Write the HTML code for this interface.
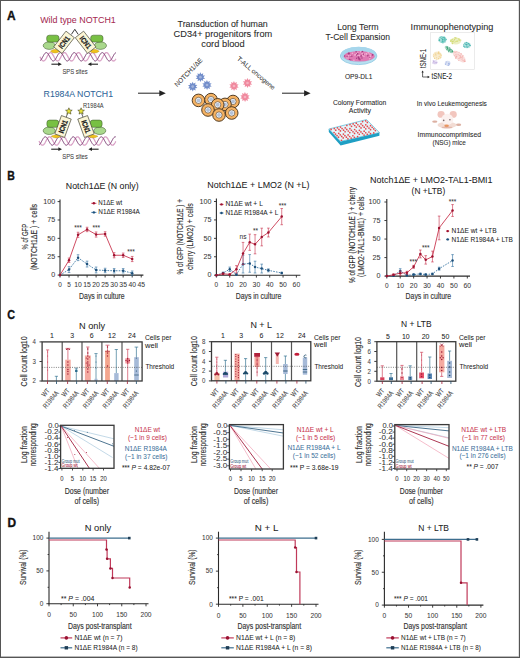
<!DOCTYPE html>
<html><head><meta charset="utf-8"><style>
html,body{margin:0;padding:0;background:#fff;}
svg{display:block;font-family:"Liberation Sans",sans-serif;}
</style></head><body>
<svg width="520" height="658" viewBox="0 0 520 658">
<rect x="0" y="0" width="520" height="658" fill="#fff"/>
<text x="7.00" y="19.70" font-size="12.4" fill="#111" textLength="8.60" lengthAdjust="spacingAndGlyphs" font-weight="bold" stroke="#111" stroke-width="0.35">A</text>
<text x="7.30" y="179.60" font-size="12.4" fill="#111" textLength="7.60" lengthAdjust="spacingAndGlyphs" font-weight="bold" stroke="#111" stroke-width="0.35">B</text>
<text x="7.20" y="319.40" font-size="12.4" fill="#111" textLength="7.80" lengthAdjust="spacingAndGlyphs" font-weight="bold" stroke="#111" stroke-width="0.35">C</text>
<text x="7.40" y="526.60" font-size="12.4" fill="#111" textLength="8.60" lengthAdjust="spacingAndGlyphs" font-weight="bold" stroke="#111" stroke-width="0.35">D</text>
<text x="40.20" y="23.40" font-size="9" fill="#a52a52" stroke="#a52a52" stroke-width="0.04" textLength="75.60" lengthAdjust="spacingAndGlyphs" >Wild type NOTCH1</text>
<text x="43.60" y="96.60" font-size="9" fill="#2c6398" stroke="#2c6398" stroke-width="0.04" textLength="69.40" lengthAdjust="spacingAndGlyphs" >R1984A NOTCH1</text>
<text x="83.00" y="107.60" font-size="6.8" fill="#3a3a3a" stroke="#3a3a3a" stroke-width="0.04" textLength="20.60" lengthAdjust="spacingAndGlyphs" >R1984A</text>
<text x="62.40" y="74.30" font-size="7" fill="#3a3a3a" stroke="#3a3a3a" stroke-width="0.04" textLength="25.20" lengthAdjust="spacingAndGlyphs" >SPS sites</text>
<text x="62.20" y="158.80" font-size="7" fill="#3a3a3a" stroke="#3a3a3a" stroke-width="0.04" textLength="25.60" lengthAdjust="spacingAndGlyphs" >SPS sites</text>
<polyline points="40.00,56.80 40.30,57.36 40.60,57.92 40.90,58.45 41.20,58.95 41.50,59.42 41.80,59.84 42.10,60.20 42.40,60.50 42.70,60.73 43.00,60.89 43.30,60.98 43.60,61.00 43.90,60.93 44.20,60.79 44.50,60.58 44.80,60.31 45.10,59.96 45.40,59.56 45.70,59.11 46.00,58.62 46.30,58.10 46.60,57.55 46.90,56.99 47.20,56.42 47.50,55.87 47.80,55.32 48.10,54.81 48.40,54.33 48.70,53.90 49.00,53.52 49.30,53.19 49.60,52.94 49.90,52.75 50.20,52.64 50.50,52.60 50.80,52.64 51.10,52.75 51.40,52.94 51.70,53.19 52.00,53.52 52.30,53.90 52.60,54.33 52.90,54.81 53.20,55.32 53.50,55.87 53.80,56.42 54.10,56.99 54.40,57.55 54.70,58.10 55.00,58.62 55.30,59.11 55.60,59.56 55.90,59.96 56.20,60.31 56.50,60.58 56.80,60.79 57.10,60.93 57.40,61.00 57.70,60.98 58.00,60.89 58.30,60.73 58.60,60.50 58.90,60.20 59.20,59.84 59.50,59.42 59.80,58.95 60.10,58.45 60.40,57.92 60.70,57.36 61.00,56.80 61.30,56.24 61.60,55.68 61.90,55.15 62.20,54.65 62.50,54.18 62.80,53.76 63.10,53.40 63.40,53.10 63.70,52.87 64.00,52.71 64.30,52.62 64.60,52.60 64.90,52.67 65.20,52.81 65.50,53.02 65.80,53.29 66.10,53.64 66.40,54.04 66.70,54.49 67.00,54.98 67.30,55.50 67.60,56.05 67.90,56.61 68.20,57.18 68.50,57.73 68.80,58.28 69.10,58.79 69.40,59.27 69.70,59.70 70.00,60.08 70.30,60.41 70.60,60.66 70.90,60.85 71.20,60.96 71.50,61.00 71.80,60.96 72.10,60.85 72.40,60.66 72.70,60.41 73.00,60.08 73.30,59.70 73.60,59.27 73.90,58.79 74.20,58.28 74.50,57.73 74.80,57.18 75.10,56.61 75.40,56.05 75.70,55.50 76.00,54.98 76.30,54.49 76.60,54.04 76.90,53.64 77.20,53.29 77.50,53.02 77.80,52.81 78.10,52.67 78.40,52.60 78.70,52.62 79.00,52.71 79.30,52.87 79.60,53.10 79.90,53.40 80.20,53.76 80.50,54.18 80.80,54.65 81.10,55.15 81.40,55.68 81.70,56.24 82.00,56.80 82.30,57.36 82.60,57.92 82.90,58.45 83.20,58.95 83.50,59.42 83.80,59.84 84.10,60.20 84.40,60.50 84.70,60.73 85.00,60.89 85.30,60.98 85.60,61.00 85.90,60.93 86.20,60.79 86.50,60.58 86.80,60.31 87.10,59.96 87.40,59.56 87.70,59.11 88.00,58.62 88.30,58.10 88.60,57.55 88.90,56.99 89.20,56.42 89.50,55.87 89.80,55.32 90.10,54.81 90.40,54.33 90.70,53.90 91.00,53.52 91.30,53.19 91.60,52.94 91.90,52.75 92.20,52.64 92.50,52.60 92.80,52.64 93.10,52.75 93.40,52.94 93.70,53.19 94.00,53.52 94.30,53.90 94.60,54.33 94.90,54.81 95.20,55.32 95.50,55.87 95.80,56.42 96.10,56.99 96.40,57.55 96.70,58.10 97.00,58.62 97.30,59.11 97.60,59.56 97.90,59.96 98.20,60.31 98.50,60.58 98.80,60.79 99.10,60.93 99.40,61.00 99.70,60.98 100.00,60.89 100.30,60.73 100.60,60.50 100.90,60.20 101.20,59.84 101.50,59.42 101.80,58.95 102.10,58.45 102.40,57.92 102.70,57.36 103.00,56.80 103.30,56.24 103.60,55.68 103.90,55.15 104.20,54.65 104.50,54.18 104.80,53.76 105.10,53.40 105.40,53.10 105.70,52.87 106.00,52.71 106.30,52.62 106.60,52.60 106.90,52.67 107.20,52.81 107.50,53.02 107.80,53.29 108.10,53.64 108.40,54.04 108.70,54.49 109.00,54.98 109.30,55.50 109.60,56.05 109.90,56.61 110.20,57.18 110.50,57.73 110.80,58.28 111.10,58.79 111.40,59.27 111.70,59.70 112.00,60.08 112.30,60.41 112.60,60.66 112.90,60.85 113.20,60.96 113.50,61.00 113.80,60.96 114.10,60.85 114.40,60.66 114.70,60.41 115.00,60.08 115.30,59.70 115.60,59.27 115.90,58.79" fill="none" stroke="#d9a2c6" stroke-width="1.3"/>
<polyline points="40.00,60.79 40.30,60.58 40.60,60.31 40.90,59.96 41.20,59.56 41.50,59.11 41.80,58.62 42.10,58.10 42.40,57.55 42.70,56.99 43.00,56.42 43.30,55.87 43.60,55.32 43.90,54.81 44.20,54.33 44.50,53.90 44.80,53.52 45.10,53.19 45.40,52.94 45.70,52.75 46.00,52.64 46.30,52.60 46.60,52.64 46.90,52.75 47.20,52.94 47.50,53.19 47.80,53.52 48.10,53.90 48.40,54.33 48.70,54.81 49.00,55.32 49.30,55.87 49.60,56.42 49.90,56.99 50.20,57.55 50.50,58.10 50.80,58.62 51.10,59.11 51.40,59.56 51.70,59.96 52.00,60.31 52.30,60.58 52.60,60.79 52.90,60.93 53.20,61.00 53.50,60.98 53.80,60.89 54.10,60.73 54.40,60.50 54.70,60.20 55.00,59.84 55.30,59.42 55.60,58.95 55.90,58.45 56.20,57.92 56.50,57.36 56.80,56.80 57.10,56.24 57.40,55.68 57.70,55.15 58.00,54.65 58.30,54.18 58.60,53.76 58.90,53.40 59.20,53.10 59.50,52.87 59.80,52.71 60.10,52.62 60.40,52.60 60.70,52.67 61.00,52.81 61.30,53.02 61.60,53.29 61.90,53.64 62.20,54.04 62.50,54.49 62.80,54.98 63.10,55.50 63.40,56.05 63.70,56.61 64.00,57.18 64.30,57.73 64.60,58.28 64.90,58.79 65.20,59.27 65.50,59.70 65.80,60.08 66.10,60.41 66.40,60.66 66.70,60.85 67.00,60.96 67.30,61.00 67.60,60.96 67.90,60.85 68.20,60.66 68.50,60.41 68.80,60.08 69.10,59.70 69.40,59.27 69.70,58.79 70.00,58.28 70.30,57.73 70.60,57.18 70.90,56.61 71.20,56.05 71.50,55.50 71.80,54.98 72.10,54.49 72.40,54.04 72.70,53.64 73.00,53.29 73.30,53.02 73.60,52.81 73.90,52.67 74.20,52.60 74.50,52.62 74.80,52.71 75.10,52.87 75.40,53.10 75.70,53.40 76.00,53.76 76.30,54.18 76.60,54.65 76.90,55.15 77.20,55.68 77.50,56.24 77.80,56.80 78.10,57.36 78.40,57.92 78.70,58.45 79.00,58.95 79.30,59.42 79.60,59.84 79.90,60.20 80.20,60.50 80.50,60.73 80.80,60.89 81.10,60.98 81.40,61.00 81.70,60.93 82.00,60.79 82.30,60.58 82.60,60.31 82.90,59.96 83.20,59.56 83.50,59.11 83.80,58.62 84.10,58.10 84.40,57.55 84.70,56.99 85.00,56.42 85.30,55.87 85.60,55.32 85.90,54.81 86.20,54.33 86.50,53.90 86.80,53.52 87.10,53.19 87.40,52.94 87.70,52.75 88.00,52.64 88.30,52.60 88.60,52.64 88.90,52.75 89.20,52.94 89.50,53.19 89.80,53.52 90.10,53.90 90.40,54.33 90.70,54.81 91.00,55.32 91.30,55.87 91.60,56.42 91.90,56.99 92.20,57.55 92.50,58.10 92.80,58.62 93.10,59.11 93.40,59.56 93.70,59.96 94.00,60.31 94.30,60.58 94.60,60.79 94.90,60.93 95.20,61.00 95.50,60.98 95.80,60.89 96.10,60.73 96.40,60.50 96.70,60.20 97.00,59.84 97.30,59.42 97.60,58.95 97.90,58.45 98.20,57.92 98.50,57.36 98.80,56.80 99.10,56.24 99.40,55.68 99.70,55.15 100.00,54.65 100.30,54.18 100.60,53.76 100.90,53.40 101.20,53.10 101.50,52.87 101.80,52.71 102.10,52.62 102.40,52.60 102.70,52.67 103.00,52.81 103.30,53.02 103.60,53.29 103.90,53.64 104.20,54.04 104.50,54.49 104.80,54.98 105.10,55.50 105.40,56.05 105.70,56.61 106.00,57.18 106.30,57.73 106.60,58.28 106.90,58.79 107.20,59.27 107.50,59.70 107.80,60.08 108.10,60.41 108.40,60.66 108.70,60.85 109.00,60.96 109.30,61.00 109.60,60.96 109.90,60.85 110.20,60.66 110.50,60.41 110.80,60.08 111.10,59.70 111.40,59.27 111.70,58.79 112.00,58.28 112.30,57.73 112.60,57.18 112.90,56.61 113.20,56.05 113.50,55.50 113.80,54.98 114.10,54.49 114.40,54.04 114.70,53.64 115.00,53.29 115.30,53.02 115.60,52.81 115.90,52.67" fill="none" stroke="#7a3a72" stroke-width="1.0"/>
<ellipse cx="49.25" cy="45.60" rx="6.05" ry="3.80" fill="#a9d88c" stroke="#3f5a2c" stroke-width="0.55"/>
<rect x="46.70" y="35.20" width="12.30" height="6.90" rx="2.6" fill="#78c043" stroke="#3f5a2c" stroke-width="0.55"/>
<path d="M50.40,51.20 Q55.15,47.40 59.90,51.20 Q55.15,55.00 50.40,51.20 Z" fill="#f0c21c" stroke="#9a7a10" stroke-width="0.3"/>
<ellipse cx="100.45" cy="45.60" rx="6.05" ry="3.80" fill="#a9d88c" stroke="#3f5a2c" stroke-width="0.55"/>
<rect x="90.70" y="35.20" width="12.30" height="6.90" rx="2.6" fill="#78c043" stroke="#3f5a2c" stroke-width="0.55"/>
<path d="M89.70,51.20 Q94.50,47.40 99.30,51.20 Q94.50,55.00 89.70,51.20 Z" fill="#f0c21c" stroke="#9a7a10" stroke-width="0.3"/>
<path d="M71.4,34.4 L74.8,29.3 L78.2,34.4" fill="none" stroke="#222" stroke-width="0.9" />
<g transform="translate(64.00 42.30) rotate(38)"><rect x="-5.30" y="-10.00" width="10.60" height="20.00" fill="#fbf6d6" stroke="#3a3a2a" stroke-width="0.6"/><text x="0" y="2.66" font-size="7.4" font-weight="bold" fill="#1a1a1a" stroke="#1a1a1a" stroke-width="0.25" text-anchor="middle" textLength="13.60" lengthAdjust="spacingAndGlyphs" transform="rotate(-90)">ICN1</text></g>
<g transform="translate(85.60 42.30) rotate(-38)"><rect x="-5.30" y="-10.00" width="10.60" height="20.00" fill="#fbf6d6" stroke="#3a3a2a" stroke-width="0.6"/><text x="0" y="2.66" font-size="7.4" font-weight="bold" fill="#1a1a1a" stroke="#1a1a1a" stroke-width="0.25" text-anchor="middle" textLength="13.60" lengthAdjust="spacingAndGlyphs" transform="rotate(90)">ICN1</text></g>
<line x1="51.40" y1="64.20" x2="58.92" y2="64.20" stroke="#222" stroke-width="1.1" />
<path d="M61.80,64.20 L58.20,62.30 L58.20,66.10 Z" fill="#222" stroke="none" stroke-width="1" />
<line x1="98.00" y1="64.20" x2="90.68" y2="64.20" stroke="#222" stroke-width="1.1" />
<path d="M87.80,64.20 L91.40,62.30 L91.40,66.10 Z" fill="#222" stroke="none" stroke-width="1" />
<polyline points="39.00,141.00 39.30,141.56 39.60,142.12 39.90,142.65 40.20,143.15 40.50,143.62 40.80,144.04 41.10,144.40 41.40,144.70 41.70,144.93 42.00,145.09 42.30,145.18 42.60,145.20 42.90,145.13 43.20,144.99 43.50,144.78 43.80,144.51 44.10,144.16 44.40,143.76 44.70,143.31 45.00,142.82 45.30,142.30 45.60,141.75 45.90,141.19 46.20,140.62 46.50,140.07 46.80,139.52 47.10,139.01 47.40,138.53 47.70,138.10 48.00,137.72 48.30,137.39 48.60,137.14 48.90,136.95 49.20,136.84 49.50,136.80 49.80,136.84 50.10,136.95 50.40,137.14 50.70,137.39 51.00,137.72 51.30,138.10 51.60,138.53 51.90,139.01 52.20,139.52 52.50,140.07 52.80,140.62 53.10,141.19 53.40,141.75 53.70,142.30 54.00,142.82 54.30,143.31 54.60,143.76 54.90,144.16 55.20,144.51 55.50,144.78 55.80,144.99 56.10,145.13 56.40,145.20 56.70,145.18 57.00,145.09 57.30,144.93 57.60,144.70 57.90,144.40 58.20,144.04 58.50,143.62 58.80,143.15 59.10,142.65 59.40,142.12 59.70,141.56 60.00,141.00 60.30,140.44 60.60,139.88 60.90,139.35 61.20,138.85 61.50,138.38 61.80,137.96 62.10,137.60 62.40,137.30 62.70,137.07 63.00,136.91 63.30,136.82 63.60,136.80 63.90,136.87 64.20,137.01 64.50,137.22 64.80,137.49 65.10,137.84 65.40,138.24 65.70,138.69 66.00,139.18 66.30,139.70 66.60,140.25 66.90,140.81 67.20,141.38 67.50,141.93 67.80,142.48 68.10,142.99 68.40,143.47 68.70,143.90 69.00,144.28 69.30,144.61 69.60,144.86 69.90,145.05 70.20,145.16 70.50,145.20 70.80,145.16 71.10,145.05 71.40,144.86 71.70,144.61 72.00,144.28 72.30,143.90 72.60,143.47 72.90,142.99 73.20,142.48 73.50,141.93 73.80,141.38 74.10,140.81 74.40,140.25 74.70,139.70 75.00,139.18 75.30,138.69 75.60,138.24 75.90,137.84 76.20,137.49 76.50,137.22 76.80,137.01 77.10,136.87 77.40,136.80 77.70,136.82 78.00,136.91 78.30,137.07 78.60,137.30 78.90,137.60 79.20,137.96 79.50,138.38 79.80,138.85 80.10,139.35 80.40,139.88 80.70,140.44 81.00,141.00 81.30,141.56 81.60,142.12 81.90,142.65 82.20,143.15 82.50,143.62 82.80,144.04 83.10,144.40 83.40,144.70 83.70,144.93 84.00,145.09 84.30,145.18 84.60,145.20 84.90,145.13 85.20,144.99 85.50,144.78 85.80,144.51 86.10,144.16 86.40,143.76 86.70,143.31 87.00,142.82 87.30,142.30 87.60,141.75 87.90,141.19 88.20,140.62 88.50,140.07 88.80,139.52 89.10,139.01 89.40,138.53 89.70,138.10 90.00,137.72 90.30,137.39 90.60,137.14 90.90,136.95 91.20,136.84 91.50,136.80 91.80,136.84 92.10,136.95 92.40,137.14 92.70,137.39 93.00,137.72 93.30,138.10 93.60,138.53 93.90,139.01 94.20,139.52 94.50,140.07 94.80,140.62 95.10,141.19 95.40,141.75 95.70,142.30 96.00,142.82 96.30,143.31 96.60,143.76 96.90,144.16 97.20,144.51 97.50,144.78 97.80,144.99 98.10,145.13 98.40,145.20 98.70,145.18 99.00,145.09 99.30,144.93 99.60,144.70 99.90,144.40 100.20,144.04 100.50,143.62 100.80,143.15 101.10,142.65 101.40,142.12 101.70,141.56 102.00,141.00 102.30,140.44 102.60,139.88 102.90,139.35 103.20,138.85 103.50,138.38 103.80,137.96 104.10,137.60 104.40,137.30 104.70,137.07 105.00,136.91 105.30,136.82 105.60,136.80 105.90,136.87 106.20,137.01 106.50,137.22 106.80,137.49 107.10,137.84 107.40,138.24 107.70,138.69 108.00,139.18 108.30,139.70 108.60,140.25 108.90,140.81 109.20,141.38 109.50,141.93 109.80,142.48 110.10,142.99 110.40,143.47 110.70,143.90 111.00,144.28 111.30,144.61 111.60,144.86 111.90,145.05 112.20,145.16 112.50,145.20 112.80,145.16 113.10,145.05 113.40,144.86 113.70,144.61 114.00,144.28 114.30,143.90 114.60,143.47 114.90,142.99 115.20,142.48 115.50,141.93 115.80,141.38" fill="none" stroke="#d9a2c6" stroke-width="1.3"/>
<polyline points="39.00,144.99 39.30,144.78 39.60,144.51 39.90,144.16 40.20,143.76 40.50,143.31 40.80,142.82 41.10,142.30 41.40,141.75 41.70,141.19 42.00,140.62 42.30,140.07 42.60,139.52 42.90,139.01 43.20,138.53 43.50,138.10 43.80,137.72 44.10,137.39 44.40,137.14 44.70,136.95 45.00,136.84 45.30,136.80 45.60,136.84 45.90,136.95 46.20,137.14 46.50,137.39 46.80,137.72 47.10,138.10 47.40,138.53 47.70,139.01 48.00,139.52 48.30,140.07 48.60,140.62 48.90,141.19 49.20,141.75 49.50,142.30 49.80,142.82 50.10,143.31 50.40,143.76 50.70,144.16 51.00,144.51 51.30,144.78 51.60,144.99 51.90,145.13 52.20,145.20 52.50,145.18 52.80,145.09 53.10,144.93 53.40,144.70 53.70,144.40 54.00,144.04 54.30,143.62 54.60,143.15 54.90,142.65 55.20,142.12 55.50,141.56 55.80,141.00 56.10,140.44 56.40,139.88 56.70,139.35 57.00,138.85 57.30,138.38 57.60,137.96 57.90,137.60 58.20,137.30 58.50,137.07 58.80,136.91 59.10,136.82 59.40,136.80 59.70,136.87 60.00,137.01 60.30,137.22 60.60,137.49 60.90,137.84 61.20,138.24 61.50,138.69 61.80,139.18 62.10,139.70 62.40,140.25 62.70,140.81 63.00,141.38 63.30,141.93 63.60,142.48 63.90,142.99 64.20,143.47 64.50,143.90 64.80,144.28 65.10,144.61 65.40,144.86 65.70,145.05 66.00,145.16 66.30,145.20 66.60,145.16 66.90,145.05 67.20,144.86 67.50,144.61 67.80,144.28 68.10,143.90 68.40,143.47 68.70,142.99 69.00,142.48 69.30,141.93 69.60,141.38 69.90,140.81 70.20,140.25 70.50,139.70 70.80,139.18 71.10,138.69 71.40,138.24 71.70,137.84 72.00,137.49 72.30,137.22 72.60,137.01 72.90,136.87 73.20,136.80 73.50,136.82 73.80,136.91 74.10,137.07 74.40,137.30 74.70,137.60 75.00,137.96 75.30,138.38 75.60,138.85 75.90,139.35 76.20,139.88 76.50,140.44 76.80,141.00 77.10,141.56 77.40,142.12 77.70,142.65 78.00,143.15 78.30,143.62 78.60,144.04 78.90,144.40 79.20,144.70 79.50,144.93 79.80,145.09 80.10,145.18 80.40,145.20 80.70,145.13 81.00,144.99 81.30,144.78 81.60,144.51 81.90,144.16 82.20,143.76 82.50,143.31 82.80,142.82 83.10,142.30 83.40,141.75 83.70,141.19 84.00,140.62 84.30,140.07 84.60,139.52 84.90,139.01 85.20,138.53 85.50,138.10 85.80,137.72 86.10,137.39 86.40,137.14 86.70,136.95 87.00,136.84 87.30,136.80 87.60,136.84 87.90,136.95 88.20,137.14 88.50,137.39 88.80,137.72 89.10,138.10 89.40,138.53 89.70,139.01 90.00,139.52 90.30,140.07 90.60,140.62 90.90,141.19 91.20,141.75 91.50,142.30 91.80,142.82 92.10,143.31 92.40,143.76 92.70,144.16 93.00,144.51 93.30,144.78 93.60,144.99 93.90,145.13 94.20,145.20 94.50,145.18 94.80,145.09 95.10,144.93 95.40,144.70 95.70,144.40 96.00,144.04 96.30,143.62 96.60,143.15 96.90,142.65 97.20,142.12 97.50,141.56 97.80,141.00 98.10,140.44 98.40,139.88 98.70,139.35 99.00,138.85 99.30,138.38 99.60,137.96 99.90,137.60 100.20,137.30 100.50,137.07 100.80,136.91 101.10,136.82 101.40,136.80 101.70,136.87 102.00,137.01 102.30,137.22 102.60,137.49 102.90,137.84 103.20,138.24 103.50,138.69 103.80,139.18 104.10,139.70 104.40,140.25 104.70,140.81 105.00,141.38 105.30,141.93 105.60,142.48 105.90,142.99 106.20,143.47 106.50,143.90 106.80,144.28 107.10,144.61 107.40,144.86 107.70,145.05 108.00,145.16 108.30,145.20 108.60,145.16 108.90,145.05 109.20,144.86 109.50,144.61 109.80,144.28 110.10,143.90 110.40,143.47 110.70,142.99 111.00,142.48 111.30,141.93 111.60,141.38 111.90,140.81 112.20,140.25 112.50,139.70 112.80,139.18 113.10,138.69 113.40,138.24 113.70,137.84 114.00,137.49 114.30,137.22 114.60,137.01 114.90,136.87 115.20,136.80 115.50,136.82 115.80,136.91" fill="none" stroke="#7a3a72" stroke-width="1.0"/>
<ellipse cx="49.25" cy="130.75" rx="6.05" ry="3.75" fill="#a9d88c" stroke="#3f5a2c" stroke-width="0.55"/>
<rect x="46.90" y="120.10" width="11.90" height="7.20" rx="2.6" fill="#78c043" stroke="#3f5a2c" stroke-width="0.55"/>
<path d="M51.00,136.30 Q56.00,133.00 61.00,136.30 Q56.00,139.60 51.00,136.30 Z" fill="#f0c21c" stroke="#9a7a10" stroke-width="0.3"/>
<ellipse cx="99.75" cy="130.75" rx="6.05" ry="3.75" fill="#a9d88c" stroke="#3f5a2c" stroke-width="0.55"/>
<rect x="90.20" y="120.10" width="11.90" height="7.20" rx="2.6" fill="#78c043" stroke="#3f5a2c" stroke-width="0.55"/>
<path d="M88.00,136.30 Q93.00,133.00 98.00,136.30 Q93.00,139.60 88.00,136.30 Z" fill="#f0c21c" stroke="#9a7a10" stroke-width="0.3"/>
<line x1="67.60" y1="113.50" x2="66.00" y2="117.50" stroke="#222" stroke-width="0.7" />
<line x1="81.60" y1="113.50" x2="83.20" y2="117.50" stroke="#222" stroke-width="0.7" />
<g transform="translate(63.00 126.50) rotate(20)"><rect x="-5.20" y="-9.75" width="10.40" height="19.50" fill="#fbf6d6" stroke="#3a3a2a" stroke-width="0.6"/><text x="0" y="2.66" font-size="7.4" font-weight="bold" fill="#1a1a1a" stroke="#1a1a1a" stroke-width="0.25" text-anchor="middle" textLength="13.26" lengthAdjust="spacingAndGlyphs" transform="rotate(-90)">ICN1</text></g>
<g transform="translate(86.00 126.50) rotate(-20)"><rect x="-5.20" y="-9.75" width="10.40" height="19.50" fill="#fbf6d6" stroke="#3a3a2a" stroke-width="0.6"/><text x="0" y="2.66" font-size="7.4" font-weight="bold" fill="#1a1a1a" stroke="#1a1a1a" stroke-width="0.25" text-anchor="middle" textLength="13.26" lengthAdjust="spacingAndGlyphs" transform="rotate(90)">ICN1</text></g>
<polygon points="68.90,107.80 69.83,110.03 72.23,110.22 70.40,111.79 70.96,114.13 68.90,112.88 66.84,114.13 67.40,111.79 65.57,110.22 67.97,110.03" fill="#e6e23a" stroke="#2a2a10" stroke-width="0.5"/>
<polygon points="81.10,107.80 82.03,110.03 84.43,110.22 82.60,111.79 83.16,114.13 81.10,112.88 79.04,114.13 79.60,111.79 77.77,110.22 80.17,110.03" fill="#e6e23a" stroke="#2a2a10" stroke-width="0.5"/>
<line x1="51.20" y1="149.20" x2="59.12" y2="149.20" stroke="#222" stroke-width="1.1" />
<path d="M62.00,149.20 L58.40,147.30 L58.40,151.10 Z" fill="#222" stroke="none" stroke-width="1" />
<line x1="98.60" y1="149.20" x2="91.28" y2="149.20" stroke="#222" stroke-width="1.1" />
<path d="M88.40,149.20 L92.00,147.30 L92.00,151.10 Z" fill="#222" stroke="none" stroke-width="1" />
<line x1="138.00" y1="93.20" x2="160.60" y2="93.20" stroke="#222" stroke-width="1.0" />
<path d="M165.80,93.20 L159.30,90.20 L159.30,96.20 Z" fill="#222" stroke="none" stroke-width="1" />
<line x1="282.00" y1="93.20" x2="305.40" y2="93.20" stroke="#222" stroke-width="1.0" />
<path d="M310.60,93.20 L304.10,90.20 L304.10,96.20 Z" fill="#222" stroke="none" stroke-width="1" />
<text x="177.60" y="27.30" font-size="9.2" fill="#2b2b2b" stroke="#2b2b2b" stroke-width="0.08" textLength="90.20" lengthAdjust="spacingAndGlyphs" >Transduction of human</text>
<text x="173.60" y="37.20" font-size="9.2" fill="#2b2b2b" stroke="#2b2b2b" stroke-width="0.08" textLength="98.60" lengthAdjust="spacingAndGlyphs" >CD34+ progenitors from</text>
<text x="201.30" y="47.20" font-size="9.2" fill="#2b2b2b" stroke="#2b2b2b" stroke-width="0.08" textLength="43.40" lengthAdjust="spacingAndGlyphs" >cord blood</text>
<polygon points="205.08,78.65 202.88,78.95 203.34,81.12 201.38,80.08 200.47,82.10 199.50,80.10 197.58,81.20 197.97,79.02 195.76,78.78 197.36,77.24 195.72,75.75 197.92,75.45 197.46,73.28 199.42,74.32 200.33,72.30 201.30,74.30 203.22,73.20 202.83,75.38 205.04,75.62 203.44,77.16" fill="#6281c4" opacity="0.9"/>
<circle cx="200.40" cy="77.20" r="1.3720000000000003" fill="#fff" stroke="none" stroke-width="1" opacity="0.35"/>
<polygon points="197.38,88.05 195.18,88.35 195.64,90.52 193.68,89.48 192.77,91.50 191.80,89.50 189.88,90.60 190.27,88.42 188.06,88.18 189.66,86.64 188.02,85.15 190.22,84.85 189.76,82.68 191.72,83.72 192.63,81.70 193.60,83.70 195.52,82.60 195.13,84.78 197.34,85.02 195.74,86.56" fill="#6281c4" opacity="0.9"/>
<circle cx="192.70" cy="86.60" r="1.3720000000000003" fill="#fff" stroke="none" stroke-width="1" opacity="0.35"/>
<polygon points="211.68,86.45 209.48,86.75 209.94,88.92 207.98,87.88 207.07,89.90 206.10,87.90 204.18,89.00 204.57,86.82 202.36,86.58 203.96,85.04 202.32,83.55 204.52,83.25 204.06,81.08 206.02,82.12 206.93,80.10 207.90,82.10 209.82,81.00 209.43,83.18 211.64,83.42 210.04,84.96" fill="#6281c4" opacity="0.9"/>
<circle cx="207.00" cy="85.00" r="1.3720000000000003" fill="#fff" stroke="none" stroke-width="1" opacity="0.35"/>
<polygon points="238.68,87.45 236.48,87.75 236.94,89.92 234.98,88.88 234.07,90.90 233.10,88.90 231.18,90.00 231.57,87.82 229.36,87.58 230.96,86.04 229.32,84.55 231.52,84.25 231.06,82.08 233.02,83.12 233.93,81.10 234.90,83.10 236.82,82.00 236.43,84.18 238.64,84.42 237.04,85.96" fill="#ee7c94" opacity="0.9"/>
<circle cx="234.00" cy="86.00" r="1.3720000000000003" fill="#fff" stroke="none" stroke-width="1" opacity="0.35"/>
<polygon points="252.18,84.45 249.98,84.75 250.44,86.92 248.48,85.88 247.57,87.90 246.60,85.90 244.68,87.00 245.07,84.82 242.86,84.58 244.46,83.04 242.82,81.55 245.02,81.25 244.56,79.08 246.52,80.12 247.43,78.10 248.40,80.10 250.32,79.00 249.93,81.18 252.14,81.42 250.54,82.96" fill="#ee7c94" opacity="0.9"/>
<circle cx="247.50" cy="83.00" r="1.3720000000000003" fill="#fff" stroke="none" stroke-width="1" opacity="0.35"/>
<polygon points="249.68,98.45 247.48,98.75 247.94,100.92 245.98,99.88 245.07,101.90 244.10,99.90 242.18,101.00 242.57,98.82 240.36,98.58 241.96,97.04 240.32,95.55 242.52,95.25 242.06,93.08 244.02,94.12 244.93,92.10 245.90,94.10 247.82,93.00 247.43,95.18 249.64,95.42 248.04,96.96" fill="#ee7c94" opacity="0.9"/>
<circle cx="245.00" cy="97.00" r="1.3720000000000003" fill="#fff" stroke="none" stroke-width="1" opacity="0.35"/>
<text x="177.20" y="87.20" font-size="6.6" fill="#333" stroke="#333" stroke-width="0.04" textLength="37.00" lengthAdjust="spacingAndGlyphs" transform="rotate(-46 177.20 87.20)" >NOTCH1/ΔE</text>
<text x="236.40" y="59.60" font-size="6.6" fill="#333" stroke="#333" stroke-width="0.04" textLength="47.50" lengthAdjust="spacingAndGlyphs" transform="rotate(40 236.40 59.60)" >T-ALL oncogene</text>
<circle cx="198.50" cy="100.40" r="6.3" fill="#f5b262" stroke="#4a3620" stroke-width="0.95" />
<circle cx="198.50" cy="100.40" r="3.1" fill="#fff" stroke="#4a3a2a" stroke-width="0.6" />
<circle cx="198.50" cy="100.40" r="2.0" fill="#b4c2d8" stroke="none" stroke-width="1" />
<circle cx="211.00" cy="99.60" r="6.3" fill="#f5b262" stroke="#4a3620" stroke-width="0.95" />
<circle cx="211.00" cy="99.60" r="3.1" fill="#fff" stroke="#4a3a2a" stroke-width="0.6" />
<circle cx="211.00" cy="99.60" r="2.0" fill="#b4c2d8" stroke="none" stroke-width="1" />
<circle cx="233.00" cy="101.50" r="6.3" fill="#f5b262" stroke="#4a3620" stroke-width="0.95" />
<circle cx="233.00" cy="101.50" r="3.1" fill="#fff" stroke="#4a3a2a" stroke-width="0.6" />
<circle cx="233.00" cy="101.50" r="2.0" fill="#b4c2d8" stroke="none" stroke-width="1" />
<circle cx="225.00" cy="104.40" r="6.3" fill="#f5b262" stroke="#4a3620" stroke-width="0.95" />
<circle cx="225.00" cy="104.40" r="3.1" fill="#fff" stroke="#4a3a2a" stroke-width="0.6" />
<circle cx="225.00" cy="104.40" r="2.0" fill="#b4c2d8" stroke="none" stroke-width="1" />
<circle cx="217.70" cy="104.80" r="6.3" fill="#f5b262" stroke="#4a3620" stroke-width="0.95" />
<circle cx="217.70" cy="104.80" r="3.1" fill="#fff" stroke="#4a3a2a" stroke-width="0.6" />
<circle cx="217.70" cy="104.80" r="2.0" fill="#b4c2d8" stroke="none" stroke-width="1" />
<circle cx="208.00" cy="110.00" r="6.3" fill="#f5b262" stroke="#4a3620" stroke-width="0.95" />
<circle cx="208.00" cy="110.00" r="3.1" fill="#fff" stroke="#4a3a2a" stroke-width="0.6" />
<circle cx="208.00" cy="110.00" r="2.0" fill="#b4c2d8" stroke="none" stroke-width="1" />
<circle cx="231.70" cy="113.00" r="6.3" fill="#f5b262" stroke="#4a3620" stroke-width="0.95" />
<circle cx="231.70" cy="113.00" r="3.1" fill="#fff" stroke="#4a3a2a" stroke-width="0.6" />
<circle cx="231.70" cy="113.00" r="2.0" fill="#b4c2d8" stroke="none" stroke-width="1" />
<circle cx="219.00" cy="115.00" r="6.3" fill="#f5b262" stroke="#4a3620" stroke-width="0.95" />
<circle cx="219.00" cy="115.00" r="3.1" fill="#fff" stroke="#4a3a2a" stroke-width="0.6" />
<circle cx="219.00" cy="115.00" r="2.0" fill="#b4c2d8" stroke="none" stroke-width="1" />
<text x="337.20" y="29.50" font-size="9.2" fill="#2b2b2b" stroke="#2b2b2b" stroke-width="0.08" textLength="41.40" lengthAdjust="spacingAndGlyphs" >Long Term</text>
<text x="325.60" y="39.70" font-size="9.2" fill="#2b2b2b" stroke="#2b2b2b" stroke-width="0.08" textLength="64.40" lengthAdjust="spacingAndGlyphs" >T-Cell Expansion</text>
<ellipse cx="358.6" cy="56.0" rx="18.3" ry="8.6" fill="#b9e0f0" stroke="#8cc8e2" stroke-width="0.8"/>
<ellipse cx="358.6" cy="54.6" rx="17.6" ry="7.8" fill="#a6d6ec"/>
<ellipse cx="359.2" cy="56.2" rx="15.4" ry="5.3" fill="#e07ab4"/>
<circle cx="360.01" cy="59.73" r="0.7" fill="#a63c80" stroke="none" stroke-width="1" />
<circle cx="367.82" cy="54.53" r="0.7" fill="#f4b8d8" stroke="none" stroke-width="1" />
<circle cx="348.31" cy="53.38" r="0.7" fill="#a63c80" stroke="none" stroke-width="1" />
<circle cx="358.79" cy="58.52" r="0.7" fill="#a63c80" stroke="none" stroke-width="1" />
<circle cx="348.80" cy="55.29" r="0.7" fill="#a63c80" stroke="none" stroke-width="1" />
<circle cx="355.59" cy="54.77" r="0.7" fill="#f4b8d8" stroke="none" stroke-width="1" />
<circle cx="366.29" cy="53.64" r="0.7" fill="#f4b8d8" stroke="none" stroke-width="1" />
<circle cx="357.46" cy="55.13" r="0.7" fill="#f4b8d8" stroke="none" stroke-width="1" />
<circle cx="358.39" cy="57.00" r="0.7" fill="#a63c80" stroke="none" stroke-width="1" />
<circle cx="347.09" cy="56.89" r="0.7" fill="#a63c80" stroke="none" stroke-width="1" />
<circle cx="356.09" cy="51.71" r="0.7" fill="#a63c80" stroke="none" stroke-width="1" />
<circle cx="357.69" cy="52.59" r="0.7" fill="#f4b8d8" stroke="none" stroke-width="1" />
<circle cx="362.48" cy="55.17" r="0.7" fill="#f4b8d8" stroke="none" stroke-width="1" />
<circle cx="351.84" cy="56.28" r="0.7" fill="#a63c80" stroke="none" stroke-width="1" />
<circle cx="361.63" cy="51.83" r="0.7" fill="#a63c80" stroke="none" stroke-width="1" />
<circle cx="350.20" cy="56.06" r="0.7" fill="#a63c80" stroke="none" stroke-width="1" />
<circle cx="350.15" cy="55.55" r="0.7" fill="#f4b8d8" stroke="none" stroke-width="1" />
<circle cx="369.07" cy="53.96" r="0.7" fill="#f4b8d8" stroke="none" stroke-width="1" />
<circle cx="368.15" cy="52.45" r="0.7" fill="#f4b8d8" stroke="none" stroke-width="1" />
<circle cx="356.57" cy="53.60" r="0.7" fill="#f4b8d8" stroke="none" stroke-width="1" />
<circle cx="357.70" cy="54.05" r="0.7" fill="#a63c80" stroke="none" stroke-width="1" />
<circle cx="358.40" cy="57.38" r="0.7" fill="#a63c80" stroke="none" stroke-width="1" />
<circle cx="370.22" cy="58.47" r="0.7" fill="#a63c80" stroke="none" stroke-width="1" />
<circle cx="360.84" cy="55.79" r="0.7" fill="#a63c80" stroke="none" stroke-width="1" />
<circle cx="360.80" cy="51.75" r="0.7" fill="#f4b8d8" stroke="none" stroke-width="1" />
<circle cx="349.20" cy="53.63" r="0.7" fill="#a63c80" stroke="none" stroke-width="1" />
<circle cx="357.56" cy="53.49" r="0.7" fill="#a63c80" stroke="none" stroke-width="1" />
<circle cx="344.72" cy="56.04" r="0.7" fill="#a63c80" stroke="none" stroke-width="1" />
<circle cx="363.96" cy="56.27" r="0.7" fill="#f4b8d8" stroke="none" stroke-width="1" />
<circle cx="372.76" cy="54.71" r="0.7" fill="#a63c80" stroke="none" stroke-width="1" />
<circle cx="354.80" cy="54.99" r="0.7" fill="#f4b8d8" stroke="none" stroke-width="1" />
<circle cx="367.59" cy="55.85" r="0.7" fill="#a63c80" stroke="none" stroke-width="1" />
<circle cx="372.47" cy="55.03" r="0.7" fill="#a63c80" stroke="none" stroke-width="1" />
<circle cx="349.53" cy="59.33" r="0.7" fill="#a63c80" stroke="none" stroke-width="1" />
<circle cx="352.28" cy="53.29" r="0.7" fill="#f4b8d8" stroke="none" stroke-width="1" />
<circle cx="348.96" cy="53.01" r="0.7" fill="#a63c80" stroke="none" stroke-width="1" />
<circle cx="348.03" cy="57.91" r="0.7" fill="#f4b8d8" stroke="none" stroke-width="1" />
<circle cx="368.04" cy="54.97" r="0.7" fill="#a63c80" stroke="none" stroke-width="1" />
<circle cx="348.56" cy="55.73" r="0.7" fill="#f4b8d8" stroke="none" stroke-width="1" />
<circle cx="362.64" cy="51.57" r="0.7" fill="#a63c80" stroke="none" stroke-width="1" />
<circle cx="370.49" cy="56.67" r="0.7" fill="#f4b8d8" stroke="none" stroke-width="1" />
<circle cx="369.88" cy="57.60" r="0.7" fill="#a63c80" stroke="none" stroke-width="1" />
<circle cx="350.83" cy="59.87" r="0.7" fill="#a63c80" stroke="none" stroke-width="1" />
<circle cx="359.04" cy="55.49" r="0.7" fill="#f4b8d8" stroke="none" stroke-width="1" />
<circle cx="361.23" cy="56.00" r="0.7" fill="#a63c80" stroke="none" stroke-width="1" />
<circle cx="359.13" cy="59.44" r="0.7" fill="#a63c80" stroke="none" stroke-width="1" />
<circle cx="361.95" cy="58.05" r="0.7" fill="#a63c80" stroke="none" stroke-width="1" />
<circle cx="363.34" cy="54.15" r="0.7" fill="#a63c80" stroke="none" stroke-width="1" />
<circle cx="369.54" cy="58.85" r="0.7" fill="#f4b8d8" stroke="none" stroke-width="1" />
<circle cx="356.68" cy="58.31" r="0.7" fill="#a63c80" stroke="none" stroke-width="1" />
<circle cx="359.65" cy="58.27" r="0.7" fill="#a63c80" stroke="none" stroke-width="1" />
<circle cx="356.53" cy="54.99" r="0.7" fill="#a63c80" stroke="none" stroke-width="1" />
<circle cx="370.51" cy="54.96" r="0.7" fill="#f4b8d8" stroke="none" stroke-width="1" />
<circle cx="346.78" cy="57.88" r="0.7" fill="#f4b8d8" stroke="none" stroke-width="1" />
<circle cx="370.15" cy="58.19" r="0.7" fill="#f4b8d8" stroke="none" stroke-width="1" />
<circle cx="366.50" cy="54.07" r="0.7" fill="#f4b8d8" stroke="none" stroke-width="1" />
<circle cx="359.82" cy="55.34" r="0.7" fill="#f4b8d8" stroke="none" stroke-width="1" />
<circle cx="353.92" cy="60.23" r="0.7" fill="#f4b8d8" stroke="none" stroke-width="1" />
<circle cx="364.74" cy="54.09" r="0.7" fill="#f4b8d8" stroke="none" stroke-width="1" />
<circle cx="362.15" cy="53.55" r="0.7" fill="#f4b8d8" stroke="none" stroke-width="1" />
<text x="345.00" y="78.60" font-size="7" fill="#2b2b2b" stroke="#2b2b2b" stroke-width="0.08" textLength="27.40" lengthAdjust="spacingAndGlyphs" >OP9-DL1</text>
<text x="410.60" y="29.50" font-size="9.2" fill="#2b2b2b" stroke="#2b2b2b" stroke-width="0.08" textLength="82.80" lengthAdjust="spacingAndGlyphs" >Immunophenotyping</text>
<rect x="430.70" y="32.60" width="43.80" height="36.90" fill="#fff" stroke="#dedede" stroke-width="0.6" />
<ellipse cx="442.4" cy="39.6" rx="4.2" ry="3.4" fill="#2fb0a4" opacity="0.4" transform="rotate(0 442.4 39.6)"/>
<circle cx="444.97" cy="41.94" r="0.55" fill="#2fb0a4" stroke="none" stroke-width="1" opacity="0.8"/>
<circle cx="442.58" cy="37.89" r="0.55" fill="#2fb0a4" stroke="none" stroke-width="1" opacity="0.8"/>
<circle cx="439.59" cy="39.67" r="0.55" fill="#2fb0a4" stroke="none" stroke-width="1" opacity="0.8"/>
<circle cx="440.24" cy="37.14" r="0.55" fill="#2fb0a4" stroke="none" stroke-width="1" opacity="0.8"/>
<circle cx="442.99" cy="39.92" r="0.55" fill="#2fb0a4" stroke="none" stroke-width="1" opacity="0.8"/>
<circle cx="443.82" cy="37.68" r="0.55" fill="#2fb0a4" stroke="none" stroke-width="1" opacity="0.8"/>
<circle cx="442.41" cy="39.44" r="0.55" fill="#2fb0a4" stroke="none" stroke-width="1" opacity="0.8"/>
<circle cx="439.04" cy="40.57" r="0.55" fill="#2fb0a4" stroke="none" stroke-width="1" opacity="0.8"/>
<circle cx="442.94" cy="42.88" r="0.55" fill="#2fb0a4" stroke="none" stroke-width="1" opacity="0.8"/>
<circle cx="443.00" cy="39.25" r="0.55" fill="#2fb0a4" stroke="none" stroke-width="1" opacity="0.8"/>
<circle cx="445.45" cy="40.00" r="0.55" fill="#2fb0a4" stroke="none" stroke-width="1" opacity="0.8"/>
<circle cx="444.81" cy="38.82" r="0.55" fill="#2fb0a4" stroke="none" stroke-width="1" opacity="0.8"/>
<circle cx="442.97" cy="41.76" r="0.55" fill="#2fb0a4" stroke="none" stroke-width="1" opacity="0.8"/>
<circle cx="444.34" cy="39.89" r="0.55" fill="#2fb0a4" stroke="none" stroke-width="1" opacity="0.8"/>
<circle cx="439.66" cy="40.51" r="0.55" fill="#2fb0a4" stroke="none" stroke-width="1" opacity="0.8"/>
<circle cx="442.61" cy="41.22" r="0.55" fill="#2fb0a4" stroke="none" stroke-width="1" opacity="0.8"/>
<circle cx="442.95" cy="41.86" r="0.55" fill="#2fb0a4" stroke="none" stroke-width="1" opacity="0.8"/>
<circle cx="442.25" cy="40.08" r="0.55" fill="#2fb0a4" stroke="none" stroke-width="1" opacity="0.8"/>
<circle cx="444.04" cy="37.44" r="0.55" fill="#2fb0a4" stroke="none" stroke-width="1" opacity="0.8"/>
<circle cx="441.27" cy="38.46" r="0.55" fill="#2fb0a4" stroke="none" stroke-width="1" opacity="0.8"/>
<circle cx="446.29" cy="39.45" r="0.55" fill="#2fb0a4" stroke="none" stroke-width="1" opacity="0.8"/>
<circle cx="444.16" cy="40.95" r="0.55" fill="#2fb0a4" stroke="none" stroke-width="1" opacity="0.8"/>
<circle cx="441.77" cy="36.78" r="0.55" fill="#2fb0a4" stroke="none" stroke-width="1" opacity="0.8"/>
<circle cx="444.91" cy="38.74" r="0.55" fill="#2fb0a4" stroke="none" stroke-width="1" opacity="0.8"/>
<circle cx="444.06" cy="37.16" r="0.55" fill="#2fb0a4" stroke="none" stroke-width="1" opacity="0.8"/>
<circle cx="441.34" cy="42.06" r="0.55" fill="#2fb0a4" stroke="none" stroke-width="1" opacity="0.8"/>
<ellipse cx="455.8" cy="41.0" rx="5.4" ry="3.4" fill="#cfd868" opacity="0.4" transform="rotate(0 455.8 41.0)"/>
<circle cx="460.86" cy="40.10" r="0.55" fill="#cfd868" stroke="none" stroke-width="1" opacity="0.8"/>
<circle cx="457.27" cy="41.34" r="0.55" fill="#cfd868" stroke="none" stroke-width="1" opacity="0.8"/>
<circle cx="458.17" cy="38.49" r="0.55" fill="#cfd868" stroke="none" stroke-width="1" opacity="0.8"/>
<circle cx="454.35" cy="39.35" r="0.55" fill="#cfd868" stroke="none" stroke-width="1" opacity="0.8"/>
<circle cx="452.49" cy="39.36" r="0.55" fill="#cfd868" stroke="none" stroke-width="1" opacity="0.8"/>
<circle cx="453.92" cy="40.34" r="0.55" fill="#cfd868" stroke="none" stroke-width="1" opacity="0.8"/>
<circle cx="452.73" cy="41.90" r="0.55" fill="#cfd868" stroke="none" stroke-width="1" opacity="0.8"/>
<circle cx="454.89" cy="37.66" r="0.55" fill="#cfd868" stroke="none" stroke-width="1" opacity="0.8"/>
<circle cx="459.58" cy="40.22" r="0.55" fill="#cfd868" stroke="none" stroke-width="1" opacity="0.8"/>
<circle cx="453.17" cy="41.60" r="0.55" fill="#cfd868" stroke="none" stroke-width="1" opacity="0.8"/>
<circle cx="456.67" cy="41.13" r="0.55" fill="#cfd868" stroke="none" stroke-width="1" opacity="0.8"/>
<circle cx="452.83" cy="41.42" r="0.55" fill="#cfd868" stroke="none" stroke-width="1" opacity="0.8"/>
<circle cx="452.08" cy="43.20" r="0.55" fill="#cfd868" stroke="none" stroke-width="1" opacity="0.8"/>
<circle cx="451.81" cy="40.59" r="0.55" fill="#cfd868" stroke="none" stroke-width="1" opacity="0.8"/>
<circle cx="455.87" cy="41.52" r="0.55" fill="#cfd868" stroke="none" stroke-width="1" opacity="0.8"/>
<circle cx="454.89" cy="42.12" r="0.55" fill="#cfd868" stroke="none" stroke-width="1" opacity="0.8"/>
<circle cx="450.41" cy="40.78" r="0.55" fill="#cfd868" stroke="none" stroke-width="1" opacity="0.8"/>
<circle cx="454.75" cy="39.71" r="0.55" fill="#cfd868" stroke="none" stroke-width="1" opacity="0.8"/>
<circle cx="459.58" cy="39.12" r="0.55" fill="#cfd868" stroke="none" stroke-width="1" opacity="0.8"/>
<circle cx="455.30" cy="37.78" r="0.55" fill="#cfd868" stroke="none" stroke-width="1" opacity="0.8"/>
<circle cx="456.19" cy="37.99" r="0.55" fill="#cfd868" stroke="none" stroke-width="1" opacity="0.8"/>
<circle cx="452.55" cy="43.68" r="0.55" fill="#cfd868" stroke="none" stroke-width="1" opacity="0.8"/>
<circle cx="457.91" cy="40.68" r="0.55" fill="#cfd868" stroke="none" stroke-width="1" opacity="0.8"/>
<circle cx="455.91" cy="38.13" r="0.55" fill="#cfd868" stroke="none" stroke-width="1" opacity="0.8"/>
<circle cx="451.98" cy="41.59" r="0.55" fill="#cfd868" stroke="none" stroke-width="1" opacity="0.8"/>
<circle cx="450.62" cy="41.21" r="0.55" fill="#cfd868" stroke="none" stroke-width="1" opacity="0.8"/>
<circle cx="450.88" cy="40.98" r="0.55" fill="#cfd868" stroke="none" stroke-width="1" opacity="0.8"/>
<circle cx="452.72" cy="43.54" r="0.55" fill="#cfd868" stroke="none" stroke-width="1" opacity="0.8"/>
<circle cx="458.76" cy="39.64" r="0.55" fill="#cfd868" stroke="none" stroke-width="1" opacity="0.8"/>
<circle cx="451.08" cy="39.65" r="0.55" fill="#cfd868" stroke="none" stroke-width="1" opacity="0.8"/>
<ellipse cx="467.0" cy="45.2" rx="3.8" ry="3.0" fill="#3cb2ac" opacity="0.4" transform="rotate(0 467.0 45.2)"/>
<circle cx="467.21" cy="47.41" r="0.55" fill="#3cb2ac" stroke="none" stroke-width="1" opacity="0.8"/>
<circle cx="464.98" cy="46.90" r="0.55" fill="#3cb2ac" stroke="none" stroke-width="1" opacity="0.8"/>
<circle cx="466.32" cy="44.65" r="0.55" fill="#3cb2ac" stroke="none" stroke-width="1" opacity="0.8"/>
<circle cx="470.47" cy="45.43" r="0.55" fill="#3cb2ac" stroke="none" stroke-width="1" opacity="0.8"/>
<circle cx="466.89" cy="46.65" r="0.55" fill="#3cb2ac" stroke="none" stroke-width="1" opacity="0.8"/>
<circle cx="469.60" cy="45.14" r="0.55" fill="#3cb2ac" stroke="none" stroke-width="1" opacity="0.8"/>
<circle cx="468.36" cy="43.43" r="0.55" fill="#3cb2ac" stroke="none" stroke-width="1" opacity="0.8"/>
<circle cx="466.05" cy="44.31" r="0.55" fill="#3cb2ac" stroke="none" stroke-width="1" opacity="0.8"/>
<circle cx="464.66" cy="43.11" r="0.55" fill="#3cb2ac" stroke="none" stroke-width="1" opacity="0.8"/>
<circle cx="463.76" cy="44.83" r="0.55" fill="#3cb2ac" stroke="none" stroke-width="1" opacity="0.8"/>
<circle cx="466.54" cy="44.53" r="0.55" fill="#3cb2ac" stroke="none" stroke-width="1" opacity="0.8"/>
<circle cx="467.15" cy="42.90" r="0.55" fill="#3cb2ac" stroke="none" stroke-width="1" opacity="0.8"/>
<circle cx="466.79" cy="45.70" r="0.55" fill="#3cb2ac" stroke="none" stroke-width="1" opacity="0.8"/>
<circle cx="468.73" cy="43.66" r="0.55" fill="#3cb2ac" stroke="none" stroke-width="1" opacity="0.8"/>
<circle cx="466.31" cy="42.44" r="0.55" fill="#3cb2ac" stroke="none" stroke-width="1" opacity="0.8"/>
<circle cx="466.18" cy="42.39" r="0.55" fill="#3cb2ac" stroke="none" stroke-width="1" opacity="0.8"/>
<circle cx="464.31" cy="46.85" r="0.55" fill="#3cb2ac" stroke="none" stroke-width="1" opacity="0.8"/>
<circle cx="463.54" cy="46.19" r="0.55" fill="#3cb2ac" stroke="none" stroke-width="1" opacity="0.8"/>
<circle cx="467.86" cy="44.55" r="0.55" fill="#3cb2ac" stroke="none" stroke-width="1" opacity="0.8"/>
<circle cx="468.16" cy="46.25" r="0.55" fill="#3cb2ac" stroke="none" stroke-width="1" opacity="0.8"/>
<circle cx="469.45" cy="44.77" r="0.55" fill="#3cb2ac" stroke="none" stroke-width="1" opacity="0.8"/>
<circle cx="465.54" cy="44.02" r="0.55" fill="#3cb2ac" stroke="none" stroke-width="1" opacity="0.8"/>
<ellipse cx="449.0" cy="49.5" rx="5.2" ry="2.0" fill="#2a9a6c" opacity="0.4" transform="rotate(40 449.0 49.5)"/>
<circle cx="448.70" cy="50.08" r="0.55" fill="#2a9a6c" stroke="none" stroke-width="1" opacity="0.8"/>
<circle cx="447.45" cy="48.82" r="0.55" fill="#2a9a6c" stroke="none" stroke-width="1" opacity="0.8"/>
<circle cx="450.98" cy="51.83" r="0.55" fill="#2a9a6c" stroke="none" stroke-width="1" opacity="0.8"/>
<circle cx="452.67" cy="51.43" r="0.55" fill="#2a9a6c" stroke="none" stroke-width="1" opacity="0.8"/>
<circle cx="449.78" cy="48.93" r="0.55" fill="#2a9a6c" stroke="none" stroke-width="1" opacity="0.8"/>
<circle cx="447.11" cy="47.60" r="0.55" fill="#2a9a6c" stroke="none" stroke-width="1" opacity="0.8"/>
<circle cx="449.24" cy="50.45" r="0.55" fill="#2a9a6c" stroke="none" stroke-width="1" opacity="0.8"/>
<circle cx="448.64" cy="51.65" r="0.55" fill="#2a9a6c" stroke="none" stroke-width="1" opacity="0.8"/>
<circle cx="451.72" cy="49.72" r="0.55" fill="#2a9a6c" stroke="none" stroke-width="1" opacity="0.8"/>
<circle cx="450.08" cy="49.32" r="0.55" fill="#2a9a6c" stroke="none" stroke-width="1" opacity="0.8"/>
<circle cx="446.89" cy="49.66" r="0.55" fill="#2a9a6c" stroke="none" stroke-width="1" opacity="0.8"/>
<circle cx="449.76" cy="47.74" r="0.55" fill="#2a9a6c" stroke="none" stroke-width="1" opacity="0.8"/>
<circle cx="450.11" cy="49.91" r="0.55" fill="#2a9a6c" stroke="none" stroke-width="1" opacity="0.8"/>
<circle cx="447.08" cy="46.57" r="0.55" fill="#2a9a6c" stroke="none" stroke-width="1" opacity="0.8"/>
<circle cx="447.34" cy="48.07" r="0.55" fill="#2a9a6c" stroke="none" stroke-width="1" opacity="0.8"/>
<circle cx="447.76" cy="48.59" r="0.55" fill="#2a9a6c" stroke="none" stroke-width="1" opacity="0.8"/>
<circle cx="452.88" cy="51.78" r="0.55" fill="#2a9a6c" stroke="none" stroke-width="1" opacity="0.8"/>
<circle cx="447.12" cy="47.50" r="0.55" fill="#2a9a6c" stroke="none" stroke-width="1" opacity="0.8"/>
<circle cx="452.06" cy="51.00" r="0.55" fill="#2a9a6c" stroke="none" stroke-width="1" opacity="0.8"/>
<circle cx="452.51" cy="50.82" r="0.55" fill="#2a9a6c" stroke="none" stroke-width="1" opacity="0.8"/>
<ellipse cx="459.2" cy="56.6" rx="8.0" ry="3.6" fill="#f2aaa6" opacity="0.4" transform="rotate(40 459.2 56.6)"/>
<circle cx="456.81" cy="51.77" r="0.55" fill="#f2aaa6" stroke="none" stroke-width="1" opacity="0.8"/>
<circle cx="463.02" cy="55.43" r="0.55" fill="#f2aaa6" stroke="none" stroke-width="1" opacity="0.8"/>
<circle cx="461.04" cy="53.64" r="0.55" fill="#f2aaa6" stroke="none" stroke-width="1" opacity="0.8"/>
<circle cx="463.03" cy="60.39" r="0.55" fill="#f2aaa6" stroke="none" stroke-width="1" opacity="0.8"/>
<circle cx="464.48" cy="59.71" r="0.55" fill="#f2aaa6" stroke="none" stroke-width="1" opacity="0.8"/>
<circle cx="461.33" cy="57.46" r="0.55" fill="#f2aaa6" stroke="none" stroke-width="1" opacity="0.8"/>
<circle cx="455.99" cy="54.36" r="0.55" fill="#f2aaa6" stroke="none" stroke-width="1" opacity="0.8"/>
<circle cx="455.21" cy="52.28" r="0.55" fill="#f2aaa6" stroke="none" stroke-width="1" opacity="0.8"/>
<circle cx="461.95" cy="59.09" r="0.55" fill="#f2aaa6" stroke="none" stroke-width="1" opacity="0.8"/>
<circle cx="455.94" cy="58.29" r="0.55" fill="#f2aaa6" stroke="none" stroke-width="1" opacity="0.8"/>
<circle cx="460.36" cy="55.71" r="0.55" fill="#f2aaa6" stroke="none" stroke-width="1" opacity="0.8"/>
<circle cx="460.69" cy="56.18" r="0.55" fill="#f2aaa6" stroke="none" stroke-width="1" opacity="0.8"/>
<circle cx="458.14" cy="54.59" r="0.55" fill="#f2aaa6" stroke="none" stroke-width="1" opacity="0.8"/>
<circle cx="464.90" cy="61.43" r="0.55" fill="#f2aaa6" stroke="none" stroke-width="1" opacity="0.8"/>
<circle cx="458.88" cy="58.44" r="0.55" fill="#f2aaa6" stroke="none" stroke-width="1" opacity="0.8"/>
<circle cx="465.13" cy="61.09" r="0.55" fill="#f2aaa6" stroke="none" stroke-width="1" opacity="0.8"/>
<circle cx="455.53" cy="57.99" r="0.55" fill="#f2aaa6" stroke="none" stroke-width="1" opacity="0.8"/>
<circle cx="454.77" cy="51.94" r="0.55" fill="#f2aaa6" stroke="none" stroke-width="1" opacity="0.8"/>
<circle cx="458.71" cy="60.57" r="0.55" fill="#f2aaa6" stroke="none" stroke-width="1" opacity="0.8"/>
<circle cx="459.12" cy="52.23" r="0.55" fill="#f2aaa6" stroke="none" stroke-width="1" opacity="0.8"/>
<circle cx="462.61" cy="57.87" r="0.55" fill="#f2aaa6" stroke="none" stroke-width="1" opacity="0.8"/>
<circle cx="456.87" cy="56.11" r="0.55" fill="#f2aaa6" stroke="none" stroke-width="1" opacity="0.8"/>
<circle cx="459.68" cy="57.96" r="0.55" fill="#f2aaa6" stroke="none" stroke-width="1" opacity="0.8"/>
<circle cx="455.99" cy="57.36" r="0.55" fill="#f2aaa6" stroke="none" stroke-width="1" opacity="0.8"/>
<circle cx="464.20" cy="60.88" r="0.55" fill="#f2aaa6" stroke="none" stroke-width="1" opacity="0.8"/>
<circle cx="456.31" cy="56.41" r="0.55" fill="#f2aaa6" stroke="none" stroke-width="1" opacity="0.8"/>
<circle cx="462.43" cy="56.35" r="0.55" fill="#f2aaa6" stroke="none" stroke-width="1" opacity="0.8"/>
<circle cx="456.02" cy="56.92" r="0.55" fill="#f2aaa6" stroke="none" stroke-width="1" opacity="0.8"/>
<circle cx="459.32" cy="55.62" r="0.55" fill="#f2aaa6" stroke="none" stroke-width="1" opacity="0.8"/>
<circle cx="460.17" cy="57.30" r="0.55" fill="#f2aaa6" stroke="none" stroke-width="1" opacity="0.8"/>
<circle cx="461.32" cy="54.06" r="0.55" fill="#f2aaa6" stroke="none" stroke-width="1" opacity="0.8"/>
<circle cx="464.37" cy="61.41" r="0.55" fill="#f2aaa6" stroke="none" stroke-width="1" opacity="0.8"/>
<circle cx="454.78" cy="55.55" r="0.55" fill="#f2aaa6" stroke="none" stroke-width="1" opacity="0.8"/>
<circle cx="460.49" cy="57.74" r="0.55" fill="#f2aaa6" stroke="none" stroke-width="1" opacity="0.8"/>
<ellipse cx="437.4" cy="55.6" rx="4.6" ry="4.0" fill="#f0d088" opacity="0.4" transform="rotate(0 437.4 55.6)"/>
<circle cx="438.52" cy="52.11" r="0.55" fill="#f0d088" stroke="none" stroke-width="1" opacity="0.8"/>
<circle cx="435.06" cy="55.79" r="0.55" fill="#f0d088" stroke="none" stroke-width="1" opacity="0.8"/>
<circle cx="441.15" cy="55.61" r="0.55" fill="#f0d088" stroke="none" stroke-width="1" opacity="0.8"/>
<circle cx="433.46" cy="56.25" r="0.55" fill="#f0d088" stroke="none" stroke-width="1" opacity="0.8"/>
<circle cx="434.58" cy="58.11" r="0.55" fill="#f0d088" stroke="none" stroke-width="1" opacity="0.8"/>
<circle cx="436.81" cy="59.15" r="0.55" fill="#f0d088" stroke="none" stroke-width="1" opacity="0.8"/>
<circle cx="437.03" cy="53.05" r="0.55" fill="#f0d088" stroke="none" stroke-width="1" opacity="0.8"/>
<circle cx="433.71" cy="54.81" r="0.55" fill="#f0d088" stroke="none" stroke-width="1" opacity="0.8"/>
<circle cx="438.60" cy="58.39" r="0.55" fill="#f0d088" stroke="none" stroke-width="1" opacity="0.8"/>
<circle cx="438.20" cy="53.66" r="0.55" fill="#f0d088" stroke="none" stroke-width="1" opacity="0.8"/>
<circle cx="438.65" cy="52.47" r="0.55" fill="#f0d088" stroke="none" stroke-width="1" opacity="0.8"/>
<circle cx="438.89" cy="53.68" r="0.55" fill="#f0d088" stroke="none" stroke-width="1" opacity="0.8"/>
<circle cx="440.83" cy="57.58" r="0.55" fill="#f0d088" stroke="none" stroke-width="1" opacity="0.8"/>
<circle cx="438.44" cy="53.09" r="0.55" fill="#f0d088" stroke="none" stroke-width="1" opacity="0.8"/>
<circle cx="439.10" cy="56.59" r="0.55" fill="#f0d088" stroke="none" stroke-width="1" opacity="0.8"/>
<circle cx="435.76" cy="53.98" r="0.55" fill="#f0d088" stroke="none" stroke-width="1" opacity="0.8"/>
<circle cx="440.77" cy="54.68" r="0.55" fill="#f0d088" stroke="none" stroke-width="1" opacity="0.8"/>
<circle cx="438.53" cy="58.69" r="0.55" fill="#f0d088" stroke="none" stroke-width="1" opacity="0.8"/>
<circle cx="434.56" cy="58.57" r="0.55" fill="#f0d088" stroke="none" stroke-width="1" opacity="0.8"/>
<circle cx="440.18" cy="54.05" r="0.55" fill="#f0d088" stroke="none" stroke-width="1" opacity="0.8"/>
<circle cx="435.04" cy="52.97" r="0.55" fill="#f0d088" stroke="none" stroke-width="1" opacity="0.8"/>
<circle cx="438.95" cy="51.89" r="0.55" fill="#f0d088" stroke="none" stroke-width="1" opacity="0.8"/>
<circle cx="440.12" cy="56.03" r="0.55" fill="#f0d088" stroke="none" stroke-width="1" opacity="0.8"/>
<circle cx="435.36" cy="54.28" r="0.55" fill="#f0d088" stroke="none" stroke-width="1" opacity="0.8"/>
<circle cx="436.23" cy="54.96" r="0.55" fill="#f0d088" stroke="none" stroke-width="1" opacity="0.8"/>
<circle cx="439.83" cy="53.62" r="0.55" fill="#f0d088" stroke="none" stroke-width="1" opacity="0.8"/>
<circle cx="440.18" cy="57.78" r="0.55" fill="#f0d088" stroke="none" stroke-width="1" opacity="0.8"/>
<circle cx="436.62" cy="57.24" r="0.55" fill="#f0d088" stroke="none" stroke-width="1" opacity="0.8"/>
<ellipse cx="435.0" cy="62.2" rx="2.6" ry="2.2" fill="#c2b0e0" opacity="0.4" transform="rotate(0 435.0 62.2)"/>
<circle cx="434.55" cy="62.96" r="0.55" fill="#c2b0e0" stroke="none" stroke-width="1" opacity="0.8"/>
<circle cx="434.59" cy="61.72" r="0.55" fill="#c2b0e0" stroke="none" stroke-width="1" opacity="0.8"/>
<circle cx="433.47" cy="61.90" r="0.55" fill="#c2b0e0" stroke="none" stroke-width="1" opacity="0.8"/>
<circle cx="436.73" cy="62.76" r="0.55" fill="#c2b0e0" stroke="none" stroke-width="1" opacity="0.8"/>
<circle cx="436.66" cy="62.54" r="0.55" fill="#c2b0e0" stroke="none" stroke-width="1" opacity="0.8"/>
<circle cx="435.71" cy="62.48" r="0.55" fill="#c2b0e0" stroke="none" stroke-width="1" opacity="0.8"/>
<circle cx="432.90" cy="63.11" r="0.55" fill="#c2b0e0" stroke="none" stroke-width="1" opacity="0.8"/>
<circle cx="435.88" cy="62.93" r="0.55" fill="#c2b0e0" stroke="none" stroke-width="1" opacity="0.8"/>
<circle cx="433.24" cy="60.66" r="0.55" fill="#c2b0e0" stroke="none" stroke-width="1" opacity="0.8"/>
<circle cx="433.55" cy="61.55" r="0.55" fill="#c2b0e0" stroke="none" stroke-width="1" opacity="0.8"/>
<ellipse cx="447.6" cy="63.2" rx="2.8" ry="2.4" fill="#9cb0e2" opacity="0.4" transform="rotate(0 447.6 63.2)"/>
<circle cx="448.00" cy="65.53" r="0.55" fill="#9cb0e2" stroke="none" stroke-width="1" opacity="0.8"/>
<circle cx="449.25" cy="64.64" r="0.55" fill="#9cb0e2" stroke="none" stroke-width="1" opacity="0.8"/>
<circle cx="448.80" cy="63.81" r="0.55" fill="#9cb0e2" stroke="none" stroke-width="1" opacity="0.8"/>
<circle cx="448.88" cy="63.19" r="0.55" fill="#9cb0e2" stroke="none" stroke-width="1" opacity="0.8"/>
<circle cx="446.41" cy="61.93" r="0.55" fill="#9cb0e2" stroke="none" stroke-width="1" opacity="0.8"/>
<circle cx="445.71" cy="63.69" r="0.55" fill="#9cb0e2" stroke="none" stroke-width="1" opacity="0.8"/>
<circle cx="448.51" cy="65.24" r="0.55" fill="#9cb0e2" stroke="none" stroke-width="1" opacity="0.8"/>
<circle cx="448.75" cy="63.82" r="0.55" fill="#9cb0e2" stroke="none" stroke-width="1" opacity="0.8"/>
<circle cx="449.03" cy="63.36" r="0.55" fill="#9cb0e2" stroke="none" stroke-width="1" opacity="0.8"/>
<circle cx="445.38" cy="64.45" r="0.55" fill="#9cb0e2" stroke="none" stroke-width="1" opacity="0.8"/>
<text x="426.20" y="67.90" font-size="8.2" fill="#222" stroke="#222" stroke-width="0.04" textLength="19.00" lengthAdjust="spacingAndGlyphs" transform="rotate(-90 426.20 67.90)" >tSNE-1</text>
<text x="431.60" y="79.00" font-size="8.2" fill="#222" stroke="#222" stroke-width="0.04" textLength="20.40" lengthAdjust="spacingAndGlyphs" >tSNE-2</text>
<path d="M422.6,71.6 L422.6,77.0 L428.4,77.0" fill="none" stroke="#222" stroke-width="0.7" />
<path d="M429.8,77.0 L427.6,75.8 L427.6,78.2 Z" fill="#222" stroke="none" stroke-width="1" />
<path d="M422.6,70.4 L421.5,72.4 L423.7,72.4 Z" fill="#222" stroke="none" stroke-width="1" />
<text x="333.00" y="104.90" font-size="7.5" fill="#2b2b2b" stroke="#2b2b2b" stroke-width="0.08" textLength="53.20" lengthAdjust="spacingAndGlyphs" >Colony Formation</text>
<text x="348.80" y="113.10" font-size="7.5" fill="#2b2b2b" stroke="#2b2b2b" stroke-width="0.08" textLength="22.20" lengthAdjust="spacingAndGlyphs" >Activity</text>
<path d="M328.8,129.0 L340.6,141.4 L379.4,132.6 L379.4,135.79999999999998 L340.6,145.6 L328.8,132.0 Z" fill="#1f9fc4" stroke="none" stroke-width="1" />
<path d="M328.8,129.0 L366.5,119.6 L379.4,132.6 L340.6,141.4 Z" fill="#e6f4f9" stroke="#38abcc" stroke-width="0.6" />
<circle cx="331.11" cy="129.38" r="0.85" fill="#e5484c" stroke="none" stroke-width="1" />
<circle cx="334.26" cy="128.60" r="0.85" fill="#e5484c" stroke="none" stroke-width="1" />
<circle cx="337.41" cy="127.82" r="0.85" fill="#e5484c" stroke="none" stroke-width="1" />
<circle cx="340.55" cy="127.04" r="0.85" fill="#e5484c" stroke="none" stroke-width="1" />
<circle cx="346.85" cy="125.48" r="0.85" fill="#e5484c" stroke="none" stroke-width="1" />
<circle cx="350.00" cy="124.70" r="0.85" fill="#e5484c" stroke="none" stroke-width="1" />
<circle cx="353.14" cy="123.92" r="0.85" fill="#e5484c" stroke="none" stroke-width="1" />
<circle cx="356.29" cy="123.14" r="0.85" fill="#e5484c" stroke="none" stroke-width="1" />
<circle cx="362.59" cy="121.58" r="0.85" fill="#e5484c" stroke="none" stroke-width="1" />
<circle cx="365.73" cy="120.80" r="0.85" fill="#e5484c" stroke="none" stroke-width="1" />
<circle cx="335.75" cy="130.16" r="0.85" fill="#e5484c" stroke="none" stroke-width="1" />
<circle cx="338.91" cy="129.39" r="0.85" fill="#e5484c" stroke="none" stroke-width="1" />
<circle cx="342.07" cy="128.62" r="0.85" fill="#e5484c" stroke="none" stroke-width="1" />
<circle cx="345.23" cy="127.84" r="0.85" fill="#e5484c" stroke="none" stroke-width="1" />
<circle cx="351.55" cy="126.29" r="0.85" fill="#e5484c" stroke="none" stroke-width="1" />
<circle cx="354.70" cy="125.52" r="0.85" fill="#e5484c" stroke="none" stroke-width="1" />
<circle cx="357.86" cy="124.75" r="0.85" fill="#e5484c" stroke="none" stroke-width="1" />
<circle cx="361.02" cy="123.97" r="0.85" fill="#e5484c" stroke="none" stroke-width="1" />
<circle cx="367.34" cy="122.42" r="0.85" fill="#e5484c" stroke="none" stroke-width="1" />
<circle cx="334.07" cy="132.49" r="0.85" fill="#e5484c" stroke="none" stroke-width="1" />
<circle cx="340.41" cy="130.96" r="0.85" fill="#e5484c" stroke="none" stroke-width="1" />
<circle cx="343.58" cy="130.19" r="0.85" fill="#e5484c" stroke="none" stroke-width="1" />
<circle cx="346.75" cy="129.42" r="0.85" fill="#e5484c" stroke="none" stroke-width="1" />
<circle cx="349.92" cy="128.65" r="0.85" fill="#e5484c" stroke="none" stroke-width="1" />
<circle cx="356.26" cy="127.12" r="0.85" fill="#e5484c" stroke="none" stroke-width="1" />
<circle cx="359.44" cy="126.35" r="0.85" fill="#e5484c" stroke="none" stroke-width="1" />
<circle cx="362.61" cy="125.58" r="0.85" fill="#e5484c" stroke="none" stroke-width="1" />
<circle cx="365.78" cy="124.81" r="0.85" fill="#e5484c" stroke="none" stroke-width="1" />
<circle cx="335.55" cy="134.04" r="0.85" fill="#e5484c" stroke="none" stroke-width="1" />
<circle cx="338.74" cy="133.28" r="0.85" fill="#e5484c" stroke="none" stroke-width="1" />
<circle cx="345.10" cy="131.76" r="0.85" fill="#e5484c" stroke="none" stroke-width="1" />
<circle cx="348.28" cy="131.00" r="0.85" fill="#e5484c" stroke="none" stroke-width="1" />
<circle cx="351.46" cy="130.24" r="0.85" fill="#e5484c" stroke="none" stroke-width="1" />
<circle cx="354.64" cy="129.48" r="0.85" fill="#e5484c" stroke="none" stroke-width="1" />
<circle cx="361.01" cy="127.95" r="0.85" fill="#e5484c" stroke="none" stroke-width="1" />
<circle cx="364.19" cy="127.19" r="0.85" fill="#e5484c" stroke="none" stroke-width="1" />
<circle cx="367.37" cy="126.43" r="0.85" fill="#e5484c" stroke="none" stroke-width="1" />
<circle cx="370.55" cy="125.67" r="0.85" fill="#e5484c" stroke="none" stroke-width="1" />
<circle cx="337.03" cy="135.60" r="0.85" fill="#e5484c" stroke="none" stroke-width="1" />
<circle cx="340.23" cy="134.84" r="0.85" fill="#e5484c" stroke="none" stroke-width="1" />
<circle cx="343.42" cy="134.09" r="0.85" fill="#e5484c" stroke="none" stroke-width="1" />
<circle cx="349.81" cy="132.58" r="0.85" fill="#e5484c" stroke="none" stroke-width="1" />
<circle cx="353.00" cy="131.82" r="0.85" fill="#e5484c" stroke="none" stroke-width="1" />
<circle cx="356.19" cy="131.07" r="0.85" fill="#e5484c" stroke="none" stroke-width="1" />
<circle cx="359.39" cy="130.31" r="0.85" fill="#e5484c" stroke="none" stroke-width="1" />
<circle cx="365.77" cy="128.80" r="0.85" fill="#e5484c" stroke="none" stroke-width="1" />
<circle cx="368.97" cy="128.05" r="0.85" fill="#e5484c" stroke="none" stroke-width="1" />
<circle cx="372.16" cy="127.29" r="0.85" fill="#e5484c" stroke="none" stroke-width="1" />
<circle cx="338.51" cy="137.15" r="0.85" fill="#e5484c" stroke="none" stroke-width="1" />
<circle cx="341.72" cy="136.40" r="0.85" fill="#e5484c" stroke="none" stroke-width="1" />
<circle cx="344.92" cy="135.65" r="0.85" fill="#e5484c" stroke="none" stroke-width="1" />
<circle cx="348.13" cy="134.90" r="0.85" fill="#e5484c" stroke="none" stroke-width="1" />
<circle cx="354.54" cy="133.41" r="0.85" fill="#e5484c" stroke="none" stroke-width="1" />
<circle cx="357.74" cy="132.66" r="0.85" fill="#e5484c" stroke="none" stroke-width="1" />
<circle cx="360.95" cy="131.91" r="0.85" fill="#e5484c" stroke="none" stroke-width="1" />
<circle cx="364.15" cy="131.16" r="0.85" fill="#e5484c" stroke="none" stroke-width="1" />
<circle cx="370.56" cy="129.66" r="0.85" fill="#e5484c" stroke="none" stroke-width="1" />
<circle cx="373.77" cy="128.91" r="0.85" fill="#e5484c" stroke="none" stroke-width="1" />
<circle cx="343.21" cy="137.96" r="0.85" fill="#e5484c" stroke="none" stroke-width="1" />
<circle cx="346.43" cy="137.22" r="0.85" fill="#e5484c" stroke="none" stroke-width="1" />
<circle cx="349.64" cy="136.48" r="0.85" fill="#e5484c" stroke="none" stroke-width="1" />
<circle cx="352.86" cy="135.73" r="0.85" fill="#e5484c" stroke="none" stroke-width="1" />
<circle cx="359.29" cy="134.25" r="0.85" fill="#e5484c" stroke="none" stroke-width="1" />
<circle cx="362.51" cy="133.50" r="0.85" fill="#e5484c" stroke="none" stroke-width="1" />
<circle cx="365.72" cy="132.76" r="0.85" fill="#e5484c" stroke="none" stroke-width="1" />
<circle cx="368.94" cy="132.02" r="0.85" fill="#e5484c" stroke="none" stroke-width="1" />
<circle cx="375.37" cy="130.53" r="0.85" fill="#e5484c" stroke="none" stroke-width="1" />
<circle cx="341.48" cy="140.26" r="0.85" fill="#e5484c" stroke="none" stroke-width="1" />
<circle cx="347.93" cy="138.78" r="0.85" fill="#e5484c" stroke="none" stroke-width="1" />
<circle cx="351.16" cy="138.05" r="0.85" fill="#e5484c" stroke="none" stroke-width="1" />
<circle cx="354.39" cy="137.31" r="0.85" fill="#e5484c" stroke="none" stroke-width="1" />
<circle cx="357.61" cy="136.57" r="0.85" fill="#e5484c" stroke="none" stroke-width="1" />
<circle cx="364.07" cy="135.10" r="0.85" fill="#e5484c" stroke="none" stroke-width="1" />
<circle cx="367.30" cy="134.37" r="0.85" fill="#e5484c" stroke="none" stroke-width="1" />
<circle cx="370.52" cy="133.63" r="0.85" fill="#e5484c" stroke="none" stroke-width="1" />
<circle cx="373.75" cy="132.89" r="0.85" fill="#e5484c" stroke="none" stroke-width="1" />
<text x="416.70" y="105.50" font-size="7.2" fill="#2b2b2b" stroke="#2b2b2b" stroke-width="0.08" textLength="70.20" lengthAdjust="spacingAndGlyphs" >In vivo Leukemogenesis</text>
<ellipse cx="447.0" cy="125.0" rx="9.5" ry="3.2" fill="#f2dcd4"/>
<ellipse cx="441.1" cy="114.4" rx="3.6" ry="3.4" fill="#f2c6be"/>
<ellipse cx="453.2" cy="114.4" rx="3.6" ry="3.4" fill="#f2c6be"/>
<ellipse cx="447.3" cy="119.4" rx="6.0" ry="5.6" fill="#fbf1ef"/>
<ellipse cx="434.8" cy="121.6" rx="2.6" ry="1.2" fill="#dcb0a2"/>
<ellipse cx="458.6" cy="124.8" rx="2.6" ry="1.2" fill="#dcb0a2"/>
<circle cx="443.70" cy="120.40" r="0.8" fill="#7a6868" stroke="none" stroke-width="1" />
<circle cx="449.90" cy="119.80" r="0.8" fill="#7a6868" stroke="none" stroke-width="1" />
<ellipse cx="446.6" cy="125.8" rx="2.3" ry="1.4" fill="#e9955e"/>
<ellipse cx="447.0" cy="127.6" rx="5.5" ry="1.0" fill="#d8a090" opacity="0.6"/>
<text x="417.60" y="137.10" font-size="7.2" fill="#2b2b2b" stroke="#2b2b2b" stroke-width="0.08" textLength="63.40" lengthAdjust="spacingAndGlyphs" >Immunocomprimised</text>
<text x="432.60" y="144.90" font-size="7.2" fill="#2b2b2b" stroke="#2b2b2b" stroke-width="0.08" textLength="33.20" lengthAdjust="spacingAndGlyphs" >(NSG) mice</text>
<text x="65.80" y="188.60" font-size="8.6" fill="#222" stroke="#222" stroke-width="0.04" textLength="72.80" lengthAdjust="spacingAndGlyphs" >Notch1ΔE (N only)</text>
<line x1="60.00" y1="199.50" x2="60.00" y2="275.60" stroke="#2a2a2a" stroke-width="1.1" />
<line x1="59.50" y1="275.10" x2="143.40" y2="275.10" stroke="#2a2a2a" stroke-width="1.1" />
<line x1="57.60" y1="275.10" x2="60.00" y2="275.10" stroke="#2a2a2a" stroke-width="0.9" />
<text x="55.20" y="277.30" font-size="6.4" fill="#3a3a3a" stroke="#3a3a3a" stroke-width="0.05" text-anchor="end" textLength="4.00" lengthAdjust="spacingAndGlyphs" >0</text>
<line x1="57.60" y1="256.73" x2="60.00" y2="256.73" stroke="#2a2a2a" stroke-width="0.9" />
<text x="55.20" y="258.93" font-size="6.4" fill="#3a3a3a" stroke="#3a3a3a" stroke-width="0.05" text-anchor="end" textLength="8.00" lengthAdjust="spacingAndGlyphs" >25</text>
<line x1="57.60" y1="238.35" x2="60.00" y2="238.35" stroke="#2a2a2a" stroke-width="0.9" />
<text x="55.20" y="240.55" font-size="6.4" fill="#3a3a3a" stroke="#3a3a3a" stroke-width="0.05" text-anchor="end" textLength="8.00" lengthAdjust="spacingAndGlyphs" >50</text>
<line x1="57.60" y1="219.97" x2="60.00" y2="219.97" stroke="#2a2a2a" stroke-width="0.9" />
<text x="55.20" y="222.17" font-size="6.4" fill="#3a3a3a" stroke="#3a3a3a" stroke-width="0.05" text-anchor="end" textLength="8.00" lengthAdjust="spacingAndGlyphs" >75</text>
<line x1="57.60" y1="201.60" x2="60.00" y2="201.60" stroke="#2a2a2a" stroke-width="0.9" />
<text x="55.20" y="203.80" font-size="6.4" fill="#3a3a3a" stroke="#3a3a3a" stroke-width="0.05" text-anchor="end" textLength="12.00" lengthAdjust="spacingAndGlyphs" >100</text>
<line x1="60.00" y1="275.10" x2="60.00" y2="277.50" stroke="#2a2a2a" stroke-width="0.9" />
<text x="60.00" y="286.60" font-size="6.4" fill="#3a3a3a" stroke="#3a3a3a" stroke-width="0.05" text-anchor="middle" textLength="3.60" lengthAdjust="spacingAndGlyphs" >0</text>
<line x1="69.03" y1="275.10" x2="69.03" y2="277.50" stroke="#2a2a2a" stroke-width="0.9" />
<text x="69.03" y="286.60" font-size="6.4" fill="#3a3a3a" stroke="#3a3a3a" stroke-width="0.05" text-anchor="middle" textLength="3.60" lengthAdjust="spacingAndGlyphs" >5</text>
<line x1="78.05" y1="275.10" x2="78.05" y2="277.50" stroke="#2a2a2a" stroke-width="0.9" />
<text x="78.05" y="286.60" font-size="6.4" fill="#3a3a3a" stroke="#3a3a3a" stroke-width="0.05" text-anchor="middle" textLength="7.60" lengthAdjust="spacingAndGlyphs" >10</text>
<line x1="87.08" y1="275.10" x2="87.08" y2="277.50" stroke="#2a2a2a" stroke-width="0.9" />
<text x="87.08" y="286.60" font-size="6.4" fill="#3a3a3a" stroke="#3a3a3a" stroke-width="0.05" text-anchor="middle" textLength="7.60" lengthAdjust="spacingAndGlyphs" >15</text>
<line x1="96.10" y1="275.10" x2="96.10" y2="277.50" stroke="#2a2a2a" stroke-width="0.9" />
<text x="96.10" y="286.60" font-size="6.4" fill="#3a3a3a" stroke="#3a3a3a" stroke-width="0.05" text-anchor="middle" textLength="7.60" lengthAdjust="spacingAndGlyphs" >20</text>
<line x1="105.12" y1="275.10" x2="105.12" y2="277.50" stroke="#2a2a2a" stroke-width="0.9" />
<text x="105.12" y="286.60" font-size="6.4" fill="#3a3a3a" stroke="#3a3a3a" stroke-width="0.05" text-anchor="middle" textLength="7.60" lengthAdjust="spacingAndGlyphs" >25</text>
<line x1="114.15" y1="275.10" x2="114.15" y2="277.50" stroke="#2a2a2a" stroke-width="0.9" />
<text x="114.15" y="286.60" font-size="6.4" fill="#3a3a3a" stroke="#3a3a3a" stroke-width="0.05" text-anchor="middle" textLength="7.60" lengthAdjust="spacingAndGlyphs" >30</text>
<line x1="123.17" y1="275.10" x2="123.17" y2="277.50" stroke="#2a2a2a" stroke-width="0.9" />
<text x="123.17" y="286.60" font-size="6.4" fill="#3a3a3a" stroke="#3a3a3a" stroke-width="0.05" text-anchor="middle" textLength="7.60" lengthAdjust="spacingAndGlyphs" >35</text>
<line x1="132.20" y1="275.10" x2="132.20" y2="277.50" stroke="#2a2a2a" stroke-width="0.9" />
<text x="132.20" y="286.60" font-size="6.4" fill="#3a3a3a" stroke="#3a3a3a" stroke-width="0.05" text-anchor="middle" textLength="7.60" lengthAdjust="spacingAndGlyphs" >40</text>
<line x1="141.22" y1="275.10" x2="141.22" y2="277.50" stroke="#2a2a2a" stroke-width="0.9" />
<text x="141.22" y="286.60" font-size="6.4" fill="#3a3a3a" stroke="#3a3a3a" stroke-width="0.05" text-anchor="middle" textLength="7.60" lengthAdjust="spacingAndGlyphs" >45</text>
<text x="27.60" y="236.70" font-size="8.4" fill="#333" stroke="#333" stroke-width="0.14" text-anchor="middle" textLength="25.60" lengthAdjust="spacingAndGlyphs" transform="rotate(-90 27.60 236.70)" >% of GFP</text>
<text x="37.20" y="237.00" font-size="8.4" fill="#333" stroke="#333" stroke-width="0.14" text-anchor="middle" textLength="66.00" lengthAdjust="spacingAndGlyphs" transform="rotate(-90 37.20 237.00)" >(NOTCH1ΔE ) + cells</text>
<text x="101.90" y="298.50" font-size="8.6" fill="#333" stroke="#333" stroke-width="0.14" text-anchor="middle" textLength="45.60" lengthAdjust="spacingAndGlyphs" >Days in culture</text>
<polyline points="60.00,275.10 69.03,269.59 78.05,257.68 87.08,264.08 96.10,269.96 105.12,270.47 114.15,270.76 123.17,270.76 132.20,273.19" fill="none" stroke="#2f6f9f" stroke-width="0.85" stroke-dasharray="1.6,1.2"/>
<line x1="69.03" y1="266.65" x2="69.03" y2="272.53" stroke="#2f6f9f" stroke-width="0.6" />
<line x1="67.73" y1="266.65" x2="70.33" y2="266.65" stroke="#2f6f9f" stroke-width="0.6" />
<line x1="67.73" y1="272.53" x2="70.33" y2="272.53" stroke="#2f6f9f" stroke-width="0.6" />
<line x1="78.05" y1="254.74" x2="78.05" y2="260.62" stroke="#2f6f9f" stroke-width="0.6" />
<line x1="76.75" y1="254.74" x2="79.35" y2="254.74" stroke="#2f6f9f" stroke-width="0.6" />
<line x1="76.75" y1="260.62" x2="79.35" y2="260.62" stroke="#2f6f9f" stroke-width="0.6" />
<line x1="87.08" y1="261.14" x2="87.08" y2="267.02" stroke="#2f6f9f" stroke-width="0.6" />
<line x1="85.78" y1="261.14" x2="88.38" y2="261.14" stroke="#2f6f9f" stroke-width="0.6" />
<line x1="85.78" y1="267.02" x2="88.38" y2="267.02" stroke="#2f6f9f" stroke-width="0.6" />
<line x1="96.10" y1="267.02" x2="96.10" y2="272.90" stroke="#2f6f9f" stroke-width="0.6" />
<line x1="94.80" y1="267.02" x2="97.40" y2="267.02" stroke="#2f6f9f" stroke-width="0.6" />
<line x1="94.80" y1="272.90" x2="97.40" y2="272.90" stroke="#2f6f9f" stroke-width="0.6" />
<line x1="105.12" y1="268.26" x2="105.12" y2="272.67" stroke="#2f6f9f" stroke-width="0.6" />
<line x1="103.83" y1="268.26" x2="106.42" y2="268.26" stroke="#2f6f9f" stroke-width="0.6" />
<line x1="103.83" y1="272.67" x2="106.42" y2="272.67" stroke="#2f6f9f" stroke-width="0.6" />
<line x1="114.15" y1="268.56" x2="114.15" y2="272.97" stroke="#2f6f9f" stroke-width="0.6" />
<line x1="112.85" y1="268.56" x2="115.45" y2="268.56" stroke="#2f6f9f" stroke-width="0.6" />
<line x1="112.85" y1="272.97" x2="115.45" y2="272.97" stroke="#2f6f9f" stroke-width="0.6" />
<line x1="123.17" y1="268.56" x2="123.17" y2="272.97" stroke="#2f6f9f" stroke-width="0.6" />
<line x1="121.88" y1="268.56" x2="124.47" y2="268.56" stroke="#2f6f9f" stroke-width="0.6" />
<line x1="121.88" y1="272.97" x2="124.47" y2="272.97" stroke="#2f6f9f" stroke-width="0.6" />
<line x1="132.20" y1="270.98" x2="132.20" y2="275.39" stroke="#2f6f9f" stroke-width="0.6" />
<line x1="130.90" y1="270.98" x2="133.50" y2="270.98" stroke="#2f6f9f" stroke-width="0.6" />
<line x1="130.90" y1="275.39" x2="133.50" y2="275.39" stroke="#2f6f9f" stroke-width="0.6" />
<circle cx="60.00" cy="275.10" r="1.25" fill="#1d4f7a" stroke="none" stroke-width="1" />
<circle cx="69.03" cy="269.59" r="1.25" fill="#1d4f7a" stroke="none" stroke-width="1" />
<circle cx="78.05" cy="257.68" r="1.25" fill="#1d4f7a" stroke="none" stroke-width="1" />
<circle cx="87.08" cy="264.08" r="1.25" fill="#1d4f7a" stroke="none" stroke-width="1" />
<circle cx="96.10" cy="269.96" r="1.25" fill="#1d4f7a" stroke="none" stroke-width="1" />
<circle cx="105.12" cy="270.47" r="1.25" fill="#1d4f7a" stroke="none" stroke-width="1" />
<circle cx="114.15" cy="270.76" r="1.25" fill="#1d4f7a" stroke="none" stroke-width="1" />
<circle cx="123.17" cy="270.76" r="1.25" fill="#1d4f7a" stroke="none" stroke-width="1" />
<circle cx="132.20" cy="273.19" r="1.25" fill="#1d4f7a" stroke="none" stroke-width="1" />
<polyline points="60.00,275.10 69.03,260.25 78.05,234.82 87.08,229.46 96.10,234.53 105.12,233.94 114.15,255.26 123.17,255.26 132.20,259.00" fill="none" stroke="#c62c46" stroke-width="0.85"/>
<line x1="69.03" y1="258.05" x2="69.03" y2="262.46" stroke="#c62c46" stroke-width="0.6" />
<line x1="67.73" y1="258.05" x2="70.33" y2="258.05" stroke="#c62c46" stroke-width="0.6" />
<line x1="67.73" y1="262.46" x2="70.33" y2="262.46" stroke="#c62c46" stroke-width="0.6" />
<line x1="78.05" y1="232.25" x2="78.05" y2="237.39" stroke="#c62c46" stroke-width="0.6" />
<line x1="76.75" y1="232.25" x2="79.35" y2="232.25" stroke="#c62c46" stroke-width="0.6" />
<line x1="76.75" y1="237.39" x2="79.35" y2="237.39" stroke="#c62c46" stroke-width="0.6" />
<line x1="87.08" y1="227.25" x2="87.08" y2="231.66" stroke="#c62c46" stroke-width="0.6" />
<line x1="85.78" y1="227.25" x2="88.38" y2="227.25" stroke="#c62c46" stroke-width="0.6" />
<line x1="85.78" y1="231.66" x2="88.38" y2="231.66" stroke="#c62c46" stroke-width="0.6" />
<line x1="96.10" y1="231.96" x2="96.10" y2="237.10" stroke="#c62c46" stroke-width="0.6" />
<line x1="94.80" y1="231.96" x2="97.40" y2="231.96" stroke="#c62c46" stroke-width="0.6" />
<line x1="94.80" y1="237.10" x2="97.40" y2="237.10" stroke="#c62c46" stroke-width="0.6" />
<line x1="105.12" y1="231.73" x2="105.12" y2="236.15" stroke="#c62c46" stroke-width="0.6" />
<line x1="103.83" y1="231.73" x2="106.42" y2="231.73" stroke="#c62c46" stroke-width="0.6" />
<line x1="103.83" y1="236.15" x2="106.42" y2="236.15" stroke="#c62c46" stroke-width="0.6" />
<line x1="114.15" y1="252.68" x2="114.15" y2="257.83" stroke="#c62c46" stroke-width="0.6" />
<line x1="112.85" y1="252.68" x2="115.45" y2="252.68" stroke="#c62c46" stroke-width="0.6" />
<line x1="112.85" y1="257.83" x2="115.45" y2="257.83" stroke="#c62c46" stroke-width="0.6" />
<line x1="123.17" y1="253.05" x2="123.17" y2="257.46" stroke="#c62c46" stroke-width="0.6" />
<line x1="121.88" y1="253.05" x2="124.47" y2="253.05" stroke="#c62c46" stroke-width="0.6" />
<line x1="121.88" y1="257.46" x2="124.47" y2="257.46" stroke="#c62c46" stroke-width="0.6" />
<line x1="132.20" y1="256.43" x2="132.20" y2="261.58" stroke="#c62c46" stroke-width="0.6" />
<line x1="130.90" y1="256.43" x2="133.50" y2="256.43" stroke="#c62c46" stroke-width="0.6" />
<line x1="130.90" y1="261.58" x2="133.50" y2="261.58" stroke="#c62c46" stroke-width="0.6" />
<circle cx="60.00" cy="275.10" r="1.25" fill="#9e1230" stroke="none" stroke-width="1" />
<circle cx="69.03" cy="260.25" r="1.25" fill="#9e1230" stroke="none" stroke-width="1" />
<circle cx="78.05" cy="234.82" r="1.25" fill="#9e1230" stroke="none" stroke-width="1" />
<circle cx="87.08" cy="229.46" r="1.25" fill="#9e1230" stroke="none" stroke-width="1" />
<circle cx="96.10" cy="234.53" r="1.25" fill="#9e1230" stroke="none" stroke-width="1" />
<circle cx="105.12" cy="233.94" r="1.25" fill="#9e1230" stroke="none" stroke-width="1" />
<circle cx="114.15" cy="255.26" r="1.25" fill="#9e1230" stroke="none" stroke-width="1" />
<circle cx="123.17" cy="255.26" r="1.25" fill="#9e1230" stroke="none" stroke-width="1" />
<circle cx="132.20" cy="259.00" r="1.25" fill="#9e1230" stroke="none" stroke-width="1" />
<text x="78.10" y="230.00" font-size="6.5" fill="#333" stroke="#333" stroke-width="0.04" text-anchor="middle" >***</text>
<text x="96.20" y="230.00" font-size="6.5" fill="#333" stroke="#333" stroke-width="0.04" text-anchor="middle" >***</text>
<text x="131.00" y="254.30" font-size="6.5" fill="#333" stroke="#333" stroke-width="0.04" text-anchor="middle" >***</text>
<line x1="91.30" y1="203.30" x2="96.40" y2="203.30" stroke="#c62c46" stroke-width="0.9" />
<circle cx="93.85" cy="203.30" r="1.2" fill="#9e1230" stroke="none" stroke-width="1" />
<line x1="91.30" y1="212.40" x2="96.40" y2="212.40" stroke="#2f6f9f" stroke-width="0.9" />
<circle cx="93.85" cy="212.40" r="1.2" fill="#1d4f7a" stroke="none" stroke-width="1" />
<text x="98.30" y="205.40" font-size="6.6" fill="#222" stroke="#222" stroke-width="0.04" textLength="24.00" lengthAdjust="spacingAndGlyphs" >N1ΔE wt</text>
<text x="98.30" y="213.80" font-size="6.6" fill="#222" stroke="#222" stroke-width="0.04" textLength="41.60" lengthAdjust="spacingAndGlyphs" >N1ΔE R1984A</text>
<text x="207.30" y="188.30" font-size="8.6" fill="#222" stroke="#222" stroke-width="0.04" textLength="102.20" lengthAdjust="spacingAndGlyphs" >Notch1ΔE + LMO2 (N +L)</text>
<line x1="216.40" y1="198.60" x2="216.40" y2="275.70" stroke="#2a2a2a" stroke-width="1.1" />
<line x1="215.90" y1="275.20" x2="300.40" y2="275.20" stroke="#2a2a2a" stroke-width="1.1" />
<line x1="214.00" y1="275.20" x2="216.40" y2="275.20" stroke="#2a2a2a" stroke-width="0.9" />
<text x="211.60" y="277.40" font-size="6.4" fill="#3a3a3a" stroke="#3a3a3a" stroke-width="0.05" text-anchor="end" textLength="4.00" lengthAdjust="spacingAndGlyphs" >0</text>
<line x1="214.00" y1="256.77" x2="216.40" y2="256.77" stroke="#2a2a2a" stroke-width="0.9" />
<text x="211.60" y="258.97" font-size="6.4" fill="#3a3a3a" stroke="#3a3a3a" stroke-width="0.05" text-anchor="end" textLength="8.00" lengthAdjust="spacingAndGlyphs" >25</text>
<line x1="214.00" y1="238.35" x2="216.40" y2="238.35" stroke="#2a2a2a" stroke-width="0.9" />
<text x="211.60" y="240.55" font-size="6.4" fill="#3a3a3a" stroke="#3a3a3a" stroke-width="0.05" text-anchor="end" textLength="8.00" lengthAdjust="spacingAndGlyphs" >50</text>
<line x1="214.00" y1="219.93" x2="216.40" y2="219.93" stroke="#2a2a2a" stroke-width="0.9" />
<text x="211.60" y="222.12" font-size="6.4" fill="#3a3a3a" stroke="#3a3a3a" stroke-width="0.05" text-anchor="end" textLength="8.00" lengthAdjust="spacingAndGlyphs" >75</text>
<line x1="214.00" y1="201.50" x2="216.40" y2="201.50" stroke="#2a2a2a" stroke-width="0.9" />
<text x="211.60" y="203.70" font-size="6.4" fill="#3a3a3a" stroke="#3a3a3a" stroke-width="0.05" text-anchor="end" textLength="12.00" lengthAdjust="spacingAndGlyphs" >100</text>
<line x1="216.40" y1="275.20" x2="216.40" y2="277.60" stroke="#2a2a2a" stroke-width="0.9" />
<text x="216.40" y="286.60" font-size="6.4" fill="#3a3a3a" stroke="#3a3a3a" stroke-width="0.05" text-anchor="middle" textLength="3.60" lengthAdjust="spacingAndGlyphs" >0</text>
<line x1="229.73" y1="275.20" x2="229.73" y2="277.60" stroke="#2a2a2a" stroke-width="0.9" />
<text x="229.73" y="286.60" font-size="6.4" fill="#3a3a3a" stroke="#3a3a3a" stroke-width="0.05" text-anchor="middle" textLength="7.60" lengthAdjust="spacingAndGlyphs" >10</text>
<line x1="243.06" y1="275.20" x2="243.06" y2="277.60" stroke="#2a2a2a" stroke-width="0.9" />
<text x="243.06" y="286.60" font-size="6.4" fill="#3a3a3a" stroke="#3a3a3a" stroke-width="0.05" text-anchor="middle" textLength="7.60" lengthAdjust="spacingAndGlyphs" >20</text>
<line x1="256.39" y1="275.20" x2="256.39" y2="277.60" stroke="#2a2a2a" stroke-width="0.9" />
<text x="256.39" y="286.60" font-size="6.4" fill="#3a3a3a" stroke="#3a3a3a" stroke-width="0.05" text-anchor="middle" textLength="7.60" lengthAdjust="spacingAndGlyphs" >30</text>
<line x1="269.72" y1="275.20" x2="269.72" y2="277.60" stroke="#2a2a2a" stroke-width="0.9" />
<text x="269.72" y="286.60" font-size="6.4" fill="#3a3a3a" stroke="#3a3a3a" stroke-width="0.05" text-anchor="middle" textLength="7.60" lengthAdjust="spacingAndGlyphs" >40</text>
<line x1="283.05" y1="275.20" x2="283.05" y2="277.60" stroke="#2a2a2a" stroke-width="0.9" />
<text x="283.05" y="286.60" font-size="6.4" fill="#3a3a3a" stroke="#3a3a3a" stroke-width="0.05" text-anchor="middle" textLength="7.60" lengthAdjust="spacingAndGlyphs" >50</text>
<line x1="296.38" y1="275.20" x2="296.38" y2="277.60" stroke="#2a2a2a" stroke-width="0.9" />
<text x="296.38" y="286.60" font-size="6.4" fill="#3a3a3a" stroke="#3a3a3a" stroke-width="0.05" text-anchor="middle" textLength="7.60" lengthAdjust="spacingAndGlyphs" >60</text>
<text x="182.60" y="236.80" font-size="8.4" fill="#333" stroke="#333" stroke-width="0.14" text-anchor="middle" textLength="75.40" lengthAdjust="spacingAndGlyphs" transform="rotate(-90 182.60 236.80)" >% of GFP (NOTCH1ΔE ) +</text>
<text x="193.40" y="236.70" font-size="8.4" fill="#333" stroke="#333" stroke-width="0.14" text-anchor="middle" textLength="66.80" lengthAdjust="spacingAndGlyphs" transform="rotate(-90 193.40 236.70)" >cherry (LMO2) + cells</text>
<text x="258.50" y="298.70" font-size="8.6" fill="#333" stroke="#333" stroke-width="0.14" text-anchor="middle" textLength="45.60" lengthAdjust="spacingAndGlyphs" >Days in culture</text>
<polyline points="216.40,275.20 223.06,272.99 229.73,269.30 236.40,274.46 243.06,264.14 249.72,263.41 255.06,267.09 261.72,268.57 268.39,270.34 281.72,272.99" fill="none" stroke="#2f6f9f" stroke-width="0.85" stroke-dasharray="1.6,1.2"/>
<line x1="223.06" y1="272.25" x2="223.06" y2="273.73" stroke="#2f6f9f" stroke-width="0.6" />
<line x1="221.76" y1="272.25" x2="224.37" y2="272.25" stroke="#2f6f9f" stroke-width="0.6" />
<line x1="221.76" y1="273.73" x2="224.37" y2="273.73" stroke="#2f6f9f" stroke-width="0.6" />
<line x1="229.73" y1="267.09" x2="229.73" y2="271.51" stroke="#2f6f9f" stroke-width="0.6" />
<line x1="228.43" y1="267.09" x2="231.03" y2="267.09" stroke="#2f6f9f" stroke-width="0.6" />
<line x1="228.43" y1="271.51" x2="231.03" y2="271.51" stroke="#2f6f9f" stroke-width="0.6" />
<line x1="236.40" y1="273.73" x2="236.40" y2="275.20" stroke="#2f6f9f" stroke-width="0.6" />
<line x1="235.09" y1="273.73" x2="237.70" y2="273.73" stroke="#2f6f9f" stroke-width="0.6" />
<line x1="235.09" y1="275.20" x2="237.70" y2="275.20" stroke="#2f6f9f" stroke-width="0.6" />
<line x1="243.06" y1="255.30" x2="243.06" y2="272.99" stroke="#2f6f9f" stroke-width="0.6" />
<line x1="241.76" y1="255.30" x2="244.36" y2="255.30" stroke="#2f6f9f" stroke-width="0.6" />
<line x1="241.76" y1="272.99" x2="244.36" y2="272.99" stroke="#2f6f9f" stroke-width="0.6" />
<line x1="249.72" y1="254.56" x2="249.72" y2="272.25" stroke="#2f6f9f" stroke-width="0.6" />
<line x1="248.42" y1="254.56" x2="251.03" y2="254.56" stroke="#2f6f9f" stroke-width="0.6" />
<line x1="248.42" y1="272.25" x2="251.03" y2="272.25" stroke="#2f6f9f" stroke-width="0.6" />
<line x1="255.06" y1="261.20" x2="255.06" y2="272.99" stroke="#2f6f9f" stroke-width="0.6" />
<line x1="253.76" y1="261.20" x2="256.36" y2="261.20" stroke="#2f6f9f" stroke-width="0.6" />
<line x1="253.76" y1="272.99" x2="256.36" y2="272.99" stroke="#2f6f9f" stroke-width="0.6" />
<line x1="261.72" y1="264.14" x2="261.72" y2="272.99" stroke="#2f6f9f" stroke-width="0.6" />
<line x1="260.42" y1="264.14" x2="263.02" y2="264.14" stroke="#2f6f9f" stroke-width="0.6" />
<line x1="260.42" y1="272.99" x2="263.02" y2="272.99" stroke="#2f6f9f" stroke-width="0.6" />
<line x1="268.39" y1="268.86" x2="268.39" y2="271.81" stroke="#2f6f9f" stroke-width="0.6" />
<line x1="267.09" y1="268.86" x2="269.69" y2="268.86" stroke="#2f6f9f" stroke-width="0.6" />
<line x1="267.09" y1="271.81" x2="269.69" y2="271.81" stroke="#2f6f9f" stroke-width="0.6" />
<line x1="281.72" y1="272.25" x2="281.72" y2="273.73" stroke="#2f6f9f" stroke-width="0.6" />
<line x1="280.42" y1="272.25" x2="283.02" y2="272.25" stroke="#2f6f9f" stroke-width="0.6" />
<line x1="280.42" y1="273.73" x2="283.02" y2="273.73" stroke="#2f6f9f" stroke-width="0.6" />
<circle cx="216.40" cy="275.20" r="1.25" fill="#1d4f7a" stroke="none" stroke-width="1" />
<circle cx="223.06" cy="272.99" r="1.25" fill="#1d4f7a" stroke="none" stroke-width="1" />
<circle cx="229.73" cy="269.30" r="1.25" fill="#1d4f7a" stroke="none" stroke-width="1" />
<circle cx="236.40" cy="274.46" r="1.25" fill="#1d4f7a" stroke="none" stroke-width="1" />
<circle cx="243.06" cy="264.14" r="1.25" fill="#1d4f7a" stroke="none" stroke-width="1" />
<circle cx="249.72" cy="263.41" r="1.25" fill="#1d4f7a" stroke="none" stroke-width="1" />
<circle cx="255.06" cy="267.09" r="1.25" fill="#1d4f7a" stroke="none" stroke-width="1" />
<circle cx="261.72" cy="268.57" r="1.25" fill="#1d4f7a" stroke="none" stroke-width="1" />
<circle cx="268.39" cy="270.34" r="1.25" fill="#1d4f7a" stroke="none" stroke-width="1" />
<circle cx="281.72" cy="272.99" r="1.25" fill="#1d4f7a" stroke="none" stroke-width="1" />
<polyline points="216.40,275.20 223.06,273.73 229.73,274.46 236.40,269.30 243.06,253.46 249.72,242.26 255.06,244.25 261.72,237.02 268.39,232.53 281.72,216.61" fill="none" stroke="#c62c46" stroke-width="0.85"/>
<line x1="223.06" y1="272.99" x2="223.06" y2="274.46" stroke="#c62c46" stroke-width="0.6" />
<line x1="221.76" y1="272.99" x2="224.37" y2="272.99" stroke="#c62c46" stroke-width="0.6" />
<line x1="221.76" y1="274.46" x2="224.37" y2="274.46" stroke="#c62c46" stroke-width="0.6" />
<line x1="229.73" y1="273.73" x2="229.73" y2="275.20" stroke="#c62c46" stroke-width="0.6" />
<line x1="228.43" y1="273.73" x2="231.03" y2="273.73" stroke="#c62c46" stroke-width="0.6" />
<line x1="228.43" y1="275.20" x2="231.03" y2="275.20" stroke="#c62c46" stroke-width="0.6" />
<line x1="236.40" y1="265.62" x2="236.40" y2="272.99" stroke="#c62c46" stroke-width="0.6" />
<line x1="235.09" y1="265.62" x2="237.70" y2="265.62" stroke="#c62c46" stroke-width="0.6" />
<line x1="235.09" y1="272.99" x2="237.70" y2="272.99" stroke="#c62c46" stroke-width="0.6" />
<line x1="243.06" y1="242.40" x2="243.06" y2="264.51" stroke="#c62c46" stroke-width="0.6" />
<line x1="241.76" y1="242.40" x2="244.36" y2="242.40" stroke="#c62c46" stroke-width="0.6" />
<line x1="241.76" y1="264.51" x2="244.36" y2="264.51" stroke="#c62c46" stroke-width="0.6" />
<line x1="249.72" y1="234.15" x2="249.72" y2="250.36" stroke="#c62c46" stroke-width="0.6" />
<line x1="248.42" y1="234.15" x2="251.03" y2="234.15" stroke="#c62c46" stroke-width="0.6" />
<line x1="248.42" y1="250.36" x2="251.03" y2="250.36" stroke="#c62c46" stroke-width="0.6" />
<line x1="255.06" y1="234.66" x2="255.06" y2="253.83" stroke="#c62c46" stroke-width="0.6" />
<line x1="253.76" y1="234.66" x2="256.36" y2="234.66" stroke="#c62c46" stroke-width="0.6" />
<line x1="253.76" y1="253.83" x2="256.36" y2="253.83" stroke="#c62c46" stroke-width="0.6" />
<line x1="261.72" y1="228.18" x2="261.72" y2="245.87" stroke="#c62c46" stroke-width="0.6" />
<line x1="260.42" y1="228.18" x2="263.02" y2="228.18" stroke="#c62c46" stroke-width="0.6" />
<line x1="260.42" y1="245.87" x2="263.02" y2="245.87" stroke="#c62c46" stroke-width="0.6" />
<line x1="268.39" y1="228.11" x2="268.39" y2="236.95" stroke="#c62c46" stroke-width="0.6" />
<line x1="267.09" y1="228.11" x2="269.69" y2="228.11" stroke="#c62c46" stroke-width="0.6" />
<line x1="267.09" y1="236.95" x2="269.69" y2="236.95" stroke="#c62c46" stroke-width="0.6" />
<line x1="281.72" y1="208.50" x2="281.72" y2="224.72" stroke="#c62c46" stroke-width="0.6" />
<line x1="280.42" y1="208.50" x2="283.02" y2="208.50" stroke="#c62c46" stroke-width="0.6" />
<line x1="280.42" y1="224.72" x2="283.02" y2="224.72" stroke="#c62c46" stroke-width="0.6" />
<circle cx="216.40" cy="275.20" r="1.25" fill="#9e1230" stroke="none" stroke-width="1" />
<circle cx="223.06" cy="273.73" r="1.25" fill="#9e1230" stroke="none" stroke-width="1" />
<circle cx="229.73" cy="274.46" r="1.25" fill="#9e1230" stroke="none" stroke-width="1" />
<circle cx="236.40" cy="269.30" r="1.25" fill="#9e1230" stroke="none" stroke-width="1" />
<circle cx="243.06" cy="253.46" r="1.25" fill="#9e1230" stroke="none" stroke-width="1" />
<circle cx="249.72" cy="242.26" r="1.25" fill="#9e1230" stroke="none" stroke-width="1" />
<circle cx="255.06" cy="244.25" r="1.25" fill="#9e1230" stroke="none" stroke-width="1" />
<circle cx="261.72" cy="237.02" r="1.25" fill="#9e1230" stroke="none" stroke-width="1" />
<circle cx="268.39" cy="232.53" r="1.25" fill="#9e1230" stroke="none" stroke-width="1" />
<circle cx="281.72" cy="216.61" r="1.25" fill="#9e1230" stroke="none" stroke-width="1" />
<text x="243.00" y="239.00" font-size="6.6" fill="#333" stroke="#333" stroke-width="0.04" text-anchor="middle" >ns</text>
<text x="255.60" y="233.00" font-size="6.5" fill="#333" stroke="#333" stroke-width="0.04" text-anchor="middle" >**</text>
<text x="282.50" y="208.30" font-size="6.5" fill="#333" stroke="#333" stroke-width="0.04" text-anchor="middle" >***</text>
<line x1="219.60" y1="204.40" x2="223.50" y2="204.40" stroke="#c62c46" stroke-width="0.9" />
<circle cx="221.50" cy="204.40" r="1.2" fill="#9e1230" stroke="none" stroke-width="1" />
<line x1="219.60" y1="213.00" x2="223.50" y2="213.00" stroke="#2f6f9f" stroke-width="0.9" />
<circle cx="221.50" cy="213.00" r="1.2" fill="#1d4f7a" stroke="none" stroke-width="1" />
<text x="225.40" y="205.90" font-size="6.6" fill="#222" stroke="#222" stroke-width="0.04" textLength="37.50" lengthAdjust="spacingAndGlyphs" >N1ΔE wt + L</text>
<text x="225.40" y="215.10" font-size="6.6" fill="#222" stroke="#222" stroke-width="0.04" textLength="52.90" lengthAdjust="spacingAndGlyphs" >N1ΔE R1984A + L</text>
<text x="370.00" y="183.00" font-size="8.6" fill="#222" stroke="#222" stroke-width="0.04" textLength="122.60" lengthAdjust="spacingAndGlyphs" >Notch1ΔE + LMO2-TAL1-BMI1</text>
<text x="411.60" y="193.60" font-size="8.6" fill="#222" stroke="#222" stroke-width="0.04" textLength="33.60" lengthAdjust="spacingAndGlyphs" >(N +LTB)</text>
<line x1="386.80" y1="199.00" x2="386.80" y2="276.60" stroke="#2a2a2a" stroke-width="1.1" />
<line x1="386.30" y1="276.10" x2="470.00" y2="276.10" stroke="#2a2a2a" stroke-width="1.1" />
<line x1="384.40" y1="276.10" x2="386.80" y2="276.10" stroke="#2a2a2a" stroke-width="0.9" />
<text x="380.40" y="278.30" font-size="6.4" fill="#3a3a3a" stroke="#3a3a3a" stroke-width="0.05" text-anchor="end" textLength="4.00" lengthAdjust="spacingAndGlyphs" >0</text>
<line x1="384.40" y1="257.58" x2="386.80" y2="257.58" stroke="#2a2a2a" stroke-width="0.9" />
<text x="380.40" y="259.78" font-size="6.4" fill="#3a3a3a" stroke="#3a3a3a" stroke-width="0.05" text-anchor="end" textLength="8.00" lengthAdjust="spacingAndGlyphs" >25</text>
<line x1="384.40" y1="239.05" x2="386.80" y2="239.05" stroke="#2a2a2a" stroke-width="0.9" />
<text x="380.40" y="241.25" font-size="6.4" fill="#3a3a3a" stroke="#3a3a3a" stroke-width="0.05" text-anchor="end" textLength="8.00" lengthAdjust="spacingAndGlyphs" >50</text>
<line x1="384.40" y1="220.53" x2="386.80" y2="220.53" stroke="#2a2a2a" stroke-width="0.9" />
<text x="380.40" y="222.72" font-size="6.4" fill="#3a3a3a" stroke="#3a3a3a" stroke-width="0.05" text-anchor="end" textLength="8.00" lengthAdjust="spacingAndGlyphs" >75</text>
<line x1="384.40" y1="202.00" x2="386.80" y2="202.00" stroke="#2a2a2a" stroke-width="0.9" />
<text x="380.40" y="204.20" font-size="6.4" fill="#3a3a3a" stroke="#3a3a3a" stroke-width="0.05" text-anchor="end" textLength="12.00" lengthAdjust="spacingAndGlyphs" >100</text>
<line x1="386.80" y1="276.10" x2="386.80" y2="278.50" stroke="#2a2a2a" stroke-width="0.9" />
<text x="386.80" y="288.00" font-size="6.4" fill="#3a3a3a" stroke="#3a3a3a" stroke-width="0.05" text-anchor="middle" textLength="3.60" lengthAdjust="spacingAndGlyphs" >0</text>
<line x1="400.22" y1="276.10" x2="400.22" y2="278.50" stroke="#2a2a2a" stroke-width="0.9" />
<text x="400.22" y="288.00" font-size="6.4" fill="#3a3a3a" stroke="#3a3a3a" stroke-width="0.05" text-anchor="middle" textLength="7.60" lengthAdjust="spacingAndGlyphs" >10</text>
<line x1="413.64" y1="276.10" x2="413.64" y2="278.50" stroke="#2a2a2a" stroke-width="0.9" />
<text x="413.64" y="288.00" font-size="6.4" fill="#3a3a3a" stroke="#3a3a3a" stroke-width="0.05" text-anchor="middle" textLength="7.60" lengthAdjust="spacingAndGlyphs" >20</text>
<line x1="427.06" y1="276.10" x2="427.06" y2="278.50" stroke="#2a2a2a" stroke-width="0.9" />
<text x="427.06" y="288.00" font-size="6.4" fill="#3a3a3a" stroke="#3a3a3a" stroke-width="0.05" text-anchor="middle" textLength="7.60" lengthAdjust="spacingAndGlyphs" >30</text>
<line x1="440.48" y1="276.10" x2="440.48" y2="278.50" stroke="#2a2a2a" stroke-width="0.9" />
<text x="440.48" y="288.00" font-size="6.4" fill="#3a3a3a" stroke="#3a3a3a" stroke-width="0.05" text-anchor="middle" textLength="7.60" lengthAdjust="spacingAndGlyphs" >40</text>
<line x1="453.90" y1="276.10" x2="453.90" y2="278.50" stroke="#2a2a2a" stroke-width="0.9" />
<text x="453.90" y="288.00" font-size="6.4" fill="#3a3a3a" stroke="#3a3a3a" stroke-width="0.05" text-anchor="middle" textLength="7.60" lengthAdjust="spacingAndGlyphs" >50</text>
<line x1="467.32" y1="276.10" x2="467.32" y2="278.50" stroke="#2a2a2a" stroke-width="0.9" />
<text x="467.32" y="288.00" font-size="6.4" fill="#3a3a3a" stroke="#3a3a3a" stroke-width="0.05" text-anchor="middle" textLength="7.60" lengthAdjust="spacingAndGlyphs" >60</text>
<text x="355.00" y="235.00" font-size="8.4" fill="#333" stroke="#333" stroke-width="0.14" text-anchor="middle" textLength="96.20" lengthAdjust="spacingAndGlyphs" transform="rotate(-90 355.00 235.00)" >% of GFP (NOTCH1ΔE ) + cherry</text>
<text x="364.00" y="236.80" font-size="8.4" fill="#333" stroke="#333" stroke-width="0.14" text-anchor="middle" textLength="80.40" lengthAdjust="spacingAndGlyphs" transform="rotate(-90 364.00 236.80)" >(LMO2-TAL1-BMI1) + cells</text>
<text x="428.40" y="298.60" font-size="8.6" fill="#333" stroke="#333" stroke-width="0.14" text-anchor="middle" textLength="45.60" lengthAdjust="spacingAndGlyphs" >Days in culture</text>
<polyline points="386.80,276.10 393.51,275.73 400.22,270.91 406.93,275.36 413.64,274.62 420.35,273.88 425.72,274.62 432.43,273.88 439.14,268.69 452.56,260.54" fill="none" stroke="#2f6f9f" stroke-width="0.85" stroke-dasharray="1.6,1.2"/>
<line x1="393.51" y1="275.36" x2="393.51" y2="276.10" stroke="#2f6f9f" stroke-width="0.6" />
<line x1="392.21" y1="275.36" x2="394.81" y2="275.36" stroke="#2f6f9f" stroke-width="0.6" />
<line x1="392.21" y1="276.10" x2="394.81" y2="276.10" stroke="#2f6f9f" stroke-width="0.6" />
<line x1="400.22" y1="268.69" x2="400.22" y2="273.14" stroke="#2f6f9f" stroke-width="0.6" />
<line x1="398.92" y1="268.69" x2="401.52" y2="268.69" stroke="#2f6f9f" stroke-width="0.6" />
<line x1="398.92" y1="273.14" x2="401.52" y2="273.14" stroke="#2f6f9f" stroke-width="0.6" />
<line x1="406.93" y1="274.62" x2="406.93" y2="276.10" stroke="#2f6f9f" stroke-width="0.6" />
<line x1="405.63" y1="274.62" x2="408.23" y2="274.62" stroke="#2f6f9f" stroke-width="0.6" />
<line x1="405.63" y1="276.10" x2="408.23" y2="276.10" stroke="#2f6f9f" stroke-width="0.6" />
<line x1="413.64" y1="273.88" x2="413.64" y2="275.36" stroke="#2f6f9f" stroke-width="0.6" />
<line x1="412.34" y1="273.88" x2="414.94" y2="273.88" stroke="#2f6f9f" stroke-width="0.6" />
<line x1="412.34" y1="275.36" x2="414.94" y2="275.36" stroke="#2f6f9f" stroke-width="0.6" />
<line x1="420.35" y1="273.14" x2="420.35" y2="274.62" stroke="#2f6f9f" stroke-width="0.6" />
<line x1="419.05" y1="273.14" x2="421.65" y2="273.14" stroke="#2f6f9f" stroke-width="0.6" />
<line x1="419.05" y1="274.62" x2="421.65" y2="274.62" stroke="#2f6f9f" stroke-width="0.6" />
<line x1="425.72" y1="273.88" x2="425.72" y2="275.36" stroke="#2f6f9f" stroke-width="0.6" />
<line x1="424.42" y1="273.88" x2="427.02" y2="273.88" stroke="#2f6f9f" stroke-width="0.6" />
<line x1="424.42" y1="275.36" x2="427.02" y2="275.36" stroke="#2f6f9f" stroke-width="0.6" />
<line x1="432.43" y1="273.14" x2="432.43" y2="274.62" stroke="#2f6f9f" stroke-width="0.6" />
<line x1="431.13" y1="273.14" x2="433.73" y2="273.14" stroke="#2f6f9f" stroke-width="0.6" />
<line x1="431.13" y1="274.62" x2="433.73" y2="274.62" stroke="#2f6f9f" stroke-width="0.6" />
<line x1="439.14" y1="267.21" x2="439.14" y2="270.17" stroke="#2f6f9f" stroke-width="0.6" />
<line x1="437.84" y1="267.21" x2="440.44" y2="267.21" stroke="#2f6f9f" stroke-width="0.6" />
<line x1="437.84" y1="270.17" x2="440.44" y2="270.17" stroke="#2f6f9f" stroke-width="0.6" />
<line x1="452.56" y1="254.61" x2="452.56" y2="266.47" stroke="#2f6f9f" stroke-width="0.6" />
<line x1="451.26" y1="254.61" x2="453.86" y2="254.61" stroke="#2f6f9f" stroke-width="0.6" />
<line x1="451.26" y1="266.47" x2="453.86" y2="266.47" stroke="#2f6f9f" stroke-width="0.6" />
<circle cx="386.80" cy="276.10" r="1.25" fill="#1d4f7a" stroke="none" stroke-width="1" />
<circle cx="393.51" cy="275.73" r="1.25" fill="#1d4f7a" stroke="none" stroke-width="1" />
<circle cx="400.22" cy="270.91" r="1.25" fill="#1d4f7a" stroke="none" stroke-width="1" />
<circle cx="406.93" cy="275.36" r="1.25" fill="#1d4f7a" stroke="none" stroke-width="1" />
<circle cx="413.64" cy="274.62" r="1.25" fill="#1d4f7a" stroke="none" stroke-width="1" />
<circle cx="420.35" cy="273.88" r="1.25" fill="#1d4f7a" stroke="none" stroke-width="1" />
<circle cx="425.72" cy="274.62" r="1.25" fill="#1d4f7a" stroke="none" stroke-width="1" />
<circle cx="432.43" cy="273.88" r="1.25" fill="#1d4f7a" stroke="none" stroke-width="1" />
<circle cx="439.14" cy="268.69" r="1.25" fill="#1d4f7a" stroke="none" stroke-width="1" />
<circle cx="452.56" cy="260.54" r="1.25" fill="#1d4f7a" stroke="none" stroke-width="1" />
<polyline points="386.80,276.10 393.51,274.69 400.22,273.14 406.93,272.77 413.64,266.84 420.35,253.94 425.72,259.87 432.43,256.54 439.14,227.94 452.56,210.52" fill="none" stroke="#c62c46" stroke-width="0.85"/>
<line x1="393.51" y1="273.95" x2="393.51" y2="275.43" stroke="#c62c46" stroke-width="0.6" />
<line x1="392.21" y1="273.95" x2="394.81" y2="273.95" stroke="#c62c46" stroke-width="0.6" />
<line x1="392.21" y1="275.43" x2="394.81" y2="275.43" stroke="#c62c46" stroke-width="0.6" />
<line x1="400.22" y1="270.91" x2="400.22" y2="275.36" stroke="#c62c46" stroke-width="0.6" />
<line x1="398.92" y1="270.91" x2="401.52" y2="270.91" stroke="#c62c46" stroke-width="0.6" />
<line x1="398.92" y1="275.36" x2="401.52" y2="275.36" stroke="#c62c46" stroke-width="0.6" />
<line x1="406.93" y1="271.28" x2="406.93" y2="274.25" stroke="#c62c46" stroke-width="0.6" />
<line x1="405.63" y1="271.28" x2="408.23" y2="271.28" stroke="#c62c46" stroke-width="0.6" />
<line x1="405.63" y1="274.25" x2="408.23" y2="274.25" stroke="#c62c46" stroke-width="0.6" />
<line x1="413.64" y1="265.36" x2="413.64" y2="268.32" stroke="#c62c46" stroke-width="0.6" />
<line x1="412.34" y1="265.36" x2="414.94" y2="265.36" stroke="#c62c46" stroke-width="0.6" />
<line x1="412.34" y1="268.32" x2="414.94" y2="268.32" stroke="#c62c46" stroke-width="0.6" />
<line x1="420.35" y1="250.02" x2="420.35" y2="257.87" stroke="#c62c46" stroke-width="0.6" />
<line x1="419.05" y1="250.02" x2="421.65" y2="250.02" stroke="#c62c46" stroke-width="0.6" />
<line x1="419.05" y1="257.87" x2="421.65" y2="257.87" stroke="#c62c46" stroke-width="0.6" />
<line x1="425.72" y1="255.65" x2="425.72" y2="264.10" stroke="#c62c46" stroke-width="0.6" />
<line x1="424.42" y1="255.65" x2="427.02" y2="255.65" stroke="#c62c46" stroke-width="0.6" />
<line x1="424.42" y1="264.10" x2="427.02" y2="264.10" stroke="#c62c46" stroke-width="0.6" />
<line x1="432.43" y1="251.13" x2="432.43" y2="261.95" stroke="#c62c46" stroke-width="0.6" />
<line x1="431.13" y1="251.13" x2="433.73" y2="251.13" stroke="#c62c46" stroke-width="0.6" />
<line x1="431.13" y1="261.95" x2="433.73" y2="261.95" stroke="#c62c46" stroke-width="0.6" />
<line x1="439.14" y1="216.08" x2="439.14" y2="239.79" stroke="#c62c46" stroke-width="0.6" />
<line x1="437.84" y1="216.08" x2="440.44" y2="216.08" stroke="#c62c46" stroke-width="0.6" />
<line x1="437.84" y1="239.79" x2="440.44" y2="239.79" stroke="#c62c46" stroke-width="0.6" />
<line x1="452.56" y1="204.59" x2="452.56" y2="216.45" stroke="#c62c46" stroke-width="0.6" />
<line x1="451.26" y1="204.59" x2="453.86" y2="204.59" stroke="#c62c46" stroke-width="0.6" />
<line x1="451.26" y1="216.45" x2="453.86" y2="216.45" stroke="#c62c46" stroke-width="0.6" />
<circle cx="386.80" cy="276.10" r="1.25" fill="#9e1230" stroke="none" stroke-width="1" />
<circle cx="393.51" cy="274.69" r="1.25" fill="#9e1230" stroke="none" stroke-width="1" />
<circle cx="400.22" cy="273.14" r="1.25" fill="#9e1230" stroke="none" stroke-width="1" />
<circle cx="406.93" cy="272.77" r="1.25" fill="#9e1230" stroke="none" stroke-width="1" />
<circle cx="413.64" cy="266.84" r="1.25" fill="#9e1230" stroke="none" stroke-width="1" />
<circle cx="420.35" cy="253.94" r="1.25" fill="#9e1230" stroke="none" stroke-width="1" />
<circle cx="425.72" cy="259.87" r="1.25" fill="#9e1230" stroke="none" stroke-width="1" />
<circle cx="432.43" cy="256.54" r="1.25" fill="#9e1230" stroke="none" stroke-width="1" />
<circle cx="439.14" cy="227.94" r="1.25" fill="#9e1230" stroke="none" stroke-width="1" />
<circle cx="452.56" cy="210.52" r="1.25" fill="#9e1230" stroke="none" stroke-width="1" />
<text x="413.20" y="263.80" font-size="6.5" fill="#333" stroke="#333" stroke-width="0.04" text-anchor="middle" >***</text>
<text x="425.80" y="250.20" font-size="6.5" fill="#333" stroke="#333" stroke-width="0.04" text-anchor="middle" >***</text>
<text x="452.50" y="203.70" font-size="6.5" fill="#333" stroke="#333" stroke-width="0.04" text-anchor="middle" >***</text>
<line x1="446.20" y1="231.10" x2="449.20" y2="231.10" stroke="#c62c46" stroke-width="0.9" />
<circle cx="447.70" cy="231.10" r="1.2" fill="#9e1230" stroke="none" stroke-width="1" />
<line x1="446.20" y1="239.40" x2="449.20" y2="239.40" stroke="#2f6f9f" stroke-width="0.9" />
<circle cx="447.70" cy="239.40" r="1.2" fill="#1d4f7a" stroke="none" stroke-width="1" />
<text x="451.60" y="233.20" font-size="6.6" fill="#222" stroke="#222" stroke-width="0.04" textLength="45.00" lengthAdjust="spacingAndGlyphs" >N1ΔE wt + LTB</text>
<text x="451.60" y="241.60" font-size="6.6" fill="#222" stroke="#222" stroke-width="0.04" textLength="61.40" lengthAdjust="spacingAndGlyphs" >N1ΔE R1984A + LTB</text>
<text x="79.10" y="328.70" font-size="9.0" fill="#222" stroke="#222" stroke-width="0.04" textLength="26.00" lengthAdjust="spacingAndGlyphs" >N only</text>
<text x="52.00" y="338.20" font-size="7.0" fill="#222" stroke="#222" stroke-width="0.04" text-anchor="middle" textLength="3.90" lengthAdjust="spacingAndGlyphs" >1</text>
<text x="72.20" y="338.20" font-size="7.0" fill="#222" stroke="#222" stroke-width="0.04" text-anchor="middle" textLength="3.90" lengthAdjust="spacingAndGlyphs" >3</text>
<text x="91.80" y="338.20" font-size="7.0" fill="#222" stroke="#222" stroke-width="0.04" text-anchor="middle" textLength="3.90" lengthAdjust="spacingAndGlyphs" >6</text>
<text x="111.90" y="338.20" font-size="7.0" fill="#222" stroke="#222" stroke-width="0.04" text-anchor="middle" textLength="7.80" lengthAdjust="spacingAndGlyphs" >12</text>
<text x="132.00" y="338.20" font-size="7.0" fill="#222" stroke="#222" stroke-width="0.04" text-anchor="middle" textLength="7.80" lengthAdjust="spacingAndGlyphs" >24</text>
<text x="145.00" y="340.10" font-size="7.6" fill="#222" stroke="#222" stroke-width="0.04" textLength="26.40" lengthAdjust="spacingAndGlyphs" >Cells per</text>
<text x="145.00" y="347.60" font-size="7.6" fill="#222" stroke="#222" stroke-width="0.04" textLength="13.00" lengthAdjust="spacingAndGlyphs" >well</text>
<text x="145.40" y="368.90" font-size="7.6" fill="#222" stroke="#222" stroke-width="0.04" textLength="28.80" lengthAdjust="spacingAndGlyphs" >Threshold</text>
<text x="27.00" y="361.40" font-size="8.4" fill="#333" stroke="#333" stroke-width="0.14" text-anchor="middle" textLength="50.00" lengthAdjust="spacingAndGlyphs" transform="rotate(-90 27.00 361.40)" >Cell count log10</text>
<line x1="39.50" y1="341.90" x2="42.10" y2="341.90" stroke="#3a3a3a" stroke-width="1.0" />
<text x="34.10" y="344.20" font-size="6.4" fill="#444" stroke="#444" stroke-width="0.05" text-anchor="middle" textLength="3.40" lengthAdjust="spacingAndGlyphs" >4</text>
<line x1="39.50" y1="361.50" x2="42.10" y2="361.50" stroke="#3a3a3a" stroke-width="1.0" />
<text x="34.10" y="363.80" font-size="6.4" fill="#444" stroke="#444" stroke-width="0.05" text-anchor="middle" textLength="3.40" lengthAdjust="spacingAndGlyphs" >3</text>
<line x1="39.50" y1="381.00" x2="42.10" y2="381.00" stroke="#3a3a3a" stroke-width="1.0" />
<text x="34.10" y="383.30" font-size="6.4" fill="#444" stroke="#444" stroke-width="0.05" text-anchor="middle" textLength="3.40" lengthAdjust="spacingAndGlyphs" >2</text>
<line x1="47.60" y1="349.90" x2="47.60" y2="381.00" stroke="#cc3b52" stroke-width="0.65" />
<line x1="46.00" y1="349.90" x2="49.20" y2="349.90" stroke="#cc3b52" stroke-width="0.65" />
<circle cx="47.60" cy="352.00" r="0.5" fill="#cc3b52" stroke="none" stroke-width="1" />
<circle cx="47.60" cy="356.00" r="0.5" fill="#cc3b52" stroke="none" stroke-width="1" />
<circle cx="47.60" cy="362.00" r="0.5" fill="#cc3b52" stroke="none" stroke-width="1" />
<circle cx="47.60" cy="370.00" r="0.5" fill="#cc3b52" stroke="none" stroke-width="1" />
<line x1="56.40" y1="376.30" x2="56.40" y2="381.00" stroke="#2a6c8c" stroke-width="0.65" />
<line x1="54.80" y1="376.30" x2="58.00" y2="376.30" stroke="#2a6c8c" stroke-width="0.65" />
<rect x="65.20" y="359.70" width="5.50" height="21.30" fill="#f5aaa0" stroke="none" stroke-width="1" />
<line x1="67.90" y1="348.40" x2="67.90" y2="359.70" stroke="#cc3b52" stroke-width="0.65" />
<line x1="65.50" y1="348.40" x2="70.30" y2="348.40" stroke="#cc3b52" stroke-width="0.65" />
<circle cx="67.90" cy="349.00" r="0.7" fill="#a01a34" stroke="none" stroke-width="1" />
<circle cx="67.90" cy="362.00" r="0.7" fill="#a01a34" stroke="none" stroke-width="1" />
<circle cx="67.90" cy="365.00" r="0.7" fill="#a01a34" stroke="none" stroke-width="1" />
<circle cx="67.90" cy="369.50" r="0.7" fill="#a01a34" stroke="none" stroke-width="1" />
<circle cx="67.90" cy="371.50" r="0.7" fill="#a01a34" stroke="none" stroke-width="1" />
<circle cx="67.90" cy="374.00" r="0.7" fill="#a01a34" stroke="none" stroke-width="1" />
<circle cx="66.50" cy="349.30" r="0.6" fill="#a01a34" stroke="none" stroke-width="1" />
<circle cx="69.50" cy="349.50" r="0.6" fill="#a01a34" stroke="none" stroke-width="1" />
<line x1="76.30" y1="368.20" x2="76.30" y2="381.00" stroke="#2a6c8c" stroke-width="0.65" />
<line x1="74.70" y1="368.20" x2="77.90" y2="368.20" stroke="#2a6c8c" stroke-width="0.65" />
<rect x="75.10" y="369.70" width="2.40" height="2.30" fill="#2a6c8c" stroke="none" stroke-width="1" />
<rect x="84.90" y="355.50" width="5.90" height="25.50" fill="#f5aaa0" stroke="none" stroke-width="1" />
<line x1="87.80" y1="347.00" x2="87.80" y2="355.50" stroke="#cc3b52" stroke-width="0.65" />
<line x1="86.20" y1="347.00" x2="89.40" y2="347.00" stroke="#cc3b52" stroke-width="0.65" />
<circle cx="87.80" cy="349.00" r="0.7" fill="#a01a34" stroke="none" stroke-width="1" />
<circle cx="87.80" cy="353.00" r="0.7" fill="#a01a34" stroke="none" stroke-width="1" />
<circle cx="87.80" cy="356.00" r="0.7" fill="#a01a34" stroke="none" stroke-width="1" />
<circle cx="87.80" cy="359.00" r="0.7" fill="#a01a34" stroke="none" stroke-width="1" />
<circle cx="87.80" cy="362.00" r="0.7" fill="#a01a34" stroke="none" stroke-width="1" />
<circle cx="87.80" cy="364.00" r="0.7" fill="#a01a34" stroke="none" stroke-width="1" />
<circle cx="87.80" cy="366.00" r="0.7" fill="#a01a34" stroke="none" stroke-width="1" />
<circle cx="87.80" cy="369.00" r="0.7" fill="#a01a34" stroke="none" stroke-width="1" />
<circle cx="87.80" cy="372.00" r="0.7" fill="#a01a34" stroke="none" stroke-width="1" />
<circle cx="86.30" cy="358.00" r="0.6" fill="#a01a34" stroke="none" stroke-width="1" />
<circle cx="86.30" cy="363.00" r="0.6" fill="#a01a34" stroke="none" stroke-width="1" />
<circle cx="89.30" cy="357.00" r="0.6" fill="#a01a34" stroke="none" stroke-width="1" />
<circle cx="89.30" cy="365.00" r="0.6" fill="#a01a34" stroke="none" stroke-width="1" />
<line x1="96.00" y1="353.60" x2="96.00" y2="381.00" stroke="#2a6c8c" stroke-width="0.65" />
<line x1="94.40" y1="353.60" x2="97.60" y2="353.60" stroke="#2a6c8c" stroke-width="0.65" />
<rect x="94.50" y="378.80" width="3.00" height="2.20" fill="#a6bad8" stroke="none" stroke-width="1" />
<circle cx="96.00" cy="356.00" r="0.5" fill="#2a6c8c" stroke="none" stroke-width="1" />
<circle cx="96.00" cy="362.00" r="0.5" fill="#2a6c8c" stroke="none" stroke-width="1" />
<circle cx="96.00" cy="368.00" r="0.5" fill="#2a6c8c" stroke="none" stroke-width="1" />
<rect x="105.10" y="350.50" width="4.80" height="30.50" fill="#f4a68e" stroke="none" stroke-width="1" />
<line x1="107.50" y1="345.20" x2="107.50" y2="350.50" stroke="#cc3b52" stroke-width="0.65" />
<line x1="105.50" y1="345.20" x2="109.50" y2="345.20" stroke="#cc3b52" stroke-width="0.65" />
<circle cx="107.50" cy="347.00" r="0.7" fill="#a01a34" stroke="none" stroke-width="1" />
<circle cx="107.50" cy="351.00" r="0.7" fill="#a01a34" stroke="none" stroke-width="1" />
<circle cx="107.50" cy="353.00" r="0.7" fill="#a01a34" stroke="none" stroke-width="1" />
<circle cx="107.50" cy="356.00" r="0.7" fill="#a01a34" stroke="none" stroke-width="1" />
<circle cx="107.50" cy="366.00" r="0.7" fill="#a01a34" stroke="none" stroke-width="1" />
<circle cx="106.00" cy="351.50" r="0.6" fill="#a01a34" stroke="none" stroke-width="1" />
<circle cx="109.00" cy="351.50" r="0.6" fill="#a01a34" stroke="none" stroke-width="1" />
<line x1="116.30" y1="349.50" x2="116.30" y2="373.10" stroke="#2a6c8c" stroke-width="0.65" />
<line x1="114.70" y1="349.50" x2="117.90" y2="349.50" stroke="#2a6c8c" stroke-width="0.65" />
<rect x="114.20" y="373.10" width="4.40" height="7.90" fill="#a6bad8" stroke="none" stroke-width="1" />
<line x1="127.70" y1="349.30" x2="127.70" y2="381.00" stroke="#cc3b52" stroke-width="0.65" />
<line x1="126.10" y1="349.30" x2="129.30" y2="349.30" stroke="#cc3b52" stroke-width="0.65" />
<rect x="125.30" y="358.20" width="4.80" height="5.30" fill="#f59aa0" stroke="none" stroke-width="1" />
<circle cx="127.70" cy="358.50" r="0.7" fill="#a01a34" stroke="none" stroke-width="1" />
<circle cx="127.70" cy="360.00" r="0.7" fill="#a01a34" stroke="none" stroke-width="1" />
<circle cx="127.70" cy="361.50" r="0.7" fill="#a01a34" stroke="none" stroke-width="1" />
<circle cx="127.70" cy="363.00" r="0.7" fill="#a01a34" stroke="none" stroke-width="1" />
<circle cx="126.00" cy="360.50" r="0.7" fill="#a01a34" stroke="none" stroke-width="1" />
<circle cx="129.40" cy="360.50" r="0.7" fill="#a01a34" stroke="none" stroke-width="1" />
<line x1="136.40" y1="347.10" x2="136.40" y2="357.20" stroke="#2a6c8c" stroke-width="0.65" />
<line x1="134.60" y1="347.10" x2="138.20" y2="347.10" stroke="#2a6c8c" stroke-width="0.65" />
<rect x="134.20" y="357.20" width="4.60" height="23.30" fill="#a6bad8" stroke="none" stroke-width="1" />
<line x1="134.20" y1="375.00" x2="138.80" y2="375.00" stroke="#1c4a6a" stroke-width="0.6" />
<circle cx="136.40" cy="358.00" r="0.6" fill="#1c4a6a" stroke="none" stroke-width="1" />
<circle cx="136.40" cy="371.00" r="0.6" fill="#1c4a6a" stroke="none" stroke-width="1" />
<line x1="42.10" y1="367.40" x2="142.10" y2="367.40" stroke="#333" stroke-width="0.6" stroke-dasharray="1.0,1.3"/>
<line x1="62.20" y1="341.90" x2="62.20" y2="381.00" stroke="#555" stroke-width="1.2" />
<line x1="82.00" y1="341.90" x2="82.00" y2="381.00" stroke="#555" stroke-width="1.2" />
<line x1="101.90" y1="341.90" x2="101.90" y2="381.00" stroke="#555" stroke-width="1.2" />
<line x1="122.00" y1="341.90" x2="122.00" y2="381.00" stroke="#555" stroke-width="1.2" />
<rect x="42.10" y="341.90" width="100.00" height="39.10" fill="none" stroke="#3a3a3a" stroke-width="1.3" />
<line x1="47.50" y1="381.20" x2="47.50" y2="384.00" stroke="#a01a34" stroke-width="0.8" />
<line x1="56.50" y1="381.20" x2="56.50" y2="384.00" stroke="#1c4a6a" stroke-width="0.8" />
<text x="50.00" y="391.00" font-size="7.0" fill="#3a3a3a" stroke="#3a3a3a" stroke-width="0.04" text-anchor="end" textLength="8.20" lengthAdjust="spacingAndGlyphs" transform="rotate(-50 50.00 391.00)" >WT</text>
<text x="59.10" y="393.30" font-size="7.0" fill="#3a3a3a" stroke="#3a3a3a" stroke-width="0.04" text-anchor="end" textLength="20.40" lengthAdjust="spacingAndGlyphs" transform="rotate(-50 59.10 393.30)" >R1984A</text>
<line x1="67.60" y1="381.20" x2="67.60" y2="384.00" stroke="#a01a34" stroke-width="0.8" />
<line x1="76.60" y1="381.20" x2="76.60" y2="384.00" stroke="#1c4a6a" stroke-width="0.8" />
<text x="70.10" y="391.00" font-size="7.0" fill="#3a3a3a" stroke="#3a3a3a" stroke-width="0.04" text-anchor="end" textLength="8.20" lengthAdjust="spacingAndGlyphs" transform="rotate(-50 70.10 391.00)" >WT</text>
<text x="79.20" y="393.30" font-size="7.0" fill="#3a3a3a" stroke="#3a3a3a" stroke-width="0.04" text-anchor="end" textLength="20.40" lengthAdjust="spacingAndGlyphs" transform="rotate(-50 79.20 393.30)" >R1984A</text>
<line x1="87.40" y1="381.20" x2="87.40" y2="384.00" stroke="#a01a34" stroke-width="0.8" />
<line x1="96.40" y1="381.20" x2="96.40" y2="384.00" stroke="#1c4a6a" stroke-width="0.8" />
<text x="89.90" y="391.00" font-size="7.0" fill="#3a3a3a" stroke="#3a3a3a" stroke-width="0.04" text-anchor="end" textLength="8.20" lengthAdjust="spacingAndGlyphs" transform="rotate(-50 89.90 391.00)" >WT</text>
<text x="99.00" y="393.30" font-size="7.0" fill="#3a3a3a" stroke="#3a3a3a" stroke-width="0.04" text-anchor="end" textLength="20.40" lengthAdjust="spacingAndGlyphs" transform="rotate(-50 99.00 393.30)" >R1984A</text>
<line x1="107.30" y1="381.20" x2="107.30" y2="384.00" stroke="#a01a34" stroke-width="0.8" />
<line x1="116.30" y1="381.20" x2="116.30" y2="384.00" stroke="#1c4a6a" stroke-width="0.8" />
<text x="109.80" y="391.00" font-size="7.0" fill="#3a3a3a" stroke="#3a3a3a" stroke-width="0.04" text-anchor="end" textLength="8.20" lengthAdjust="spacingAndGlyphs" transform="rotate(-50 109.80 391.00)" >WT</text>
<text x="118.90" y="393.30" font-size="7.0" fill="#3a3a3a" stroke="#3a3a3a" stroke-width="0.04" text-anchor="end" textLength="20.40" lengthAdjust="spacingAndGlyphs" transform="rotate(-50 118.90 393.30)" >R1984A</text>
<line x1="127.40" y1="381.20" x2="127.40" y2="384.00" stroke="#a01a34" stroke-width="0.8" />
<line x1="136.40" y1="381.20" x2="136.40" y2="384.00" stroke="#1c4a6a" stroke-width="0.8" />
<text x="129.90" y="391.00" font-size="7.0" fill="#3a3a3a" stroke="#3a3a3a" stroke-width="0.04" text-anchor="end" textLength="8.20" lengthAdjust="spacingAndGlyphs" transform="rotate(-50 129.90 391.00)" >WT</text>
<text x="139.00" y="393.30" font-size="7.0" fill="#3a3a3a" stroke="#3a3a3a" stroke-width="0.04" text-anchor="end" textLength="20.40" lengthAdjust="spacingAndGlyphs" transform="rotate(-50 139.00 393.30)" >R1984A</text>
<text x="250.40" y="328.10" font-size="9.0" fill="#222" stroke="#222" stroke-width="0.04" textLength="21.60" lengthAdjust="spacingAndGlyphs" >N + L</text>
<text x="223.00" y="338.30" font-size="7.0" fill="#222" stroke="#222" stroke-width="0.04" text-anchor="middle" textLength="3.90" lengthAdjust="spacingAndGlyphs" >1</text>
<text x="241.30" y="338.30" font-size="7.0" fill="#222" stroke="#222" stroke-width="0.04" text-anchor="middle" textLength="3.90" lengthAdjust="spacingAndGlyphs" >3</text>
<text x="261.40" y="338.30" font-size="7.0" fill="#222" stroke="#222" stroke-width="0.04" text-anchor="middle" textLength="3.90" lengthAdjust="spacingAndGlyphs" >6</text>
<text x="280.00" y="338.30" font-size="7.0" fill="#222" stroke="#222" stroke-width="0.04" text-anchor="middle" textLength="7.80" lengthAdjust="spacingAndGlyphs" >12</text>
<text x="301.80" y="338.30" font-size="7.0" fill="#222" stroke="#222" stroke-width="0.04" text-anchor="middle" textLength="7.80" lengthAdjust="spacingAndGlyphs" >24</text>
<text x="314.00" y="339.70" font-size="7.6" fill="#222" stroke="#222" stroke-width="0.04" textLength="26.40" lengthAdjust="spacingAndGlyphs" >Cells per</text>
<text x="314.00" y="347.10" font-size="7.6" fill="#222" stroke="#222" stroke-width="0.04" textLength="13.00" lengthAdjust="spacingAndGlyphs" >well</text>
<text x="314.40" y="368.60" font-size="7.6" fill="#222" stroke="#222" stroke-width="0.04" textLength="28.80" lengthAdjust="spacingAndGlyphs" >Threshold</text>
<text x="196.60" y="361.20" font-size="8.4" fill="#333" stroke="#333" stroke-width="0.14" text-anchor="middle" textLength="50.00" lengthAdjust="spacingAndGlyphs" transform="rotate(-90 196.60 361.20)" >Cell count log10</text>
<line x1="208.90" y1="341.70" x2="211.50" y2="341.70" stroke="#3a3a3a" stroke-width="1.0" />
<text x="203.60" y="344.00" font-size="6.4" fill="#444" stroke="#444" stroke-width="0.05" text-anchor="middle" textLength="3.40" lengthAdjust="spacingAndGlyphs" >8</text>
<line x1="208.90" y1="351.50" x2="211.50" y2="351.50" stroke="#3a3a3a" stroke-width="1.0" />
<text x="203.60" y="353.80" font-size="6.4" fill="#444" stroke="#444" stroke-width="0.05" text-anchor="middle" textLength="3.40" lengthAdjust="spacingAndGlyphs" >6</text>
<line x1="208.90" y1="361.30" x2="211.50" y2="361.30" stroke="#3a3a3a" stroke-width="1.0" />
<text x="203.60" y="363.60" font-size="6.4" fill="#444" stroke="#444" stroke-width="0.05" text-anchor="middle" textLength="3.40" lengthAdjust="spacingAndGlyphs" >4</text>
<line x1="208.90" y1="371.10" x2="211.50" y2="371.10" stroke="#3a3a3a" stroke-width="1.0" />
<text x="203.60" y="373.40" font-size="6.4" fill="#444" stroke="#444" stroke-width="0.05" text-anchor="middle" textLength="3.40" lengthAdjust="spacingAndGlyphs" >2</text>
<line x1="208.90" y1="380.90" x2="211.50" y2="380.90" stroke="#3a3a3a" stroke-width="1.0" />
<text x="203.60" y="383.20" font-size="6.4" fill="#444" stroke="#444" stroke-width="0.05" text-anchor="middle" textLength="3.40" lengthAdjust="spacingAndGlyphs" >0</text>
<rect x="214.40" y="372.80" width="5.20" height="8.00" fill="#f6c0a8" stroke="none" stroke-width="1" />
<line x1="216.80" y1="357.20" x2="216.80" y2="372.80" stroke="#cc3b52" stroke-width="0.65" />
<line x1="215.20" y1="357.20" x2="218.40" y2="357.20" stroke="#cc3b52" stroke-width="0.65" />
<circle cx="216.80" cy="359.00" r="0.5" fill="#cc3b52" stroke="none" stroke-width="1" />
<circle cx="216.80" cy="362.00" r="0.5" fill="#cc3b52" stroke="none" stroke-width="1" />
<circle cx="216.80" cy="365.00" r="0.5" fill="#cc3b52" stroke="none" stroke-width="1" />
<circle cx="216.80" cy="368.00" r="0.5" fill="#cc3b52" stroke="none" stroke-width="1" />
<circle cx="216.80" cy="371.00" r="0.5" fill="#cc3b52" stroke="none" stroke-width="1" />
<circle cx="216.80" cy="373.50" r="1.4" fill="#a01a34" stroke="none" stroke-width="1" />
<circle cx="215.20" cy="374.50" r="1.0" fill="#a01a34" stroke="none" stroke-width="1" />
<circle cx="218.40" cy="374.50" r="1.0" fill="#a01a34" stroke="none" stroke-width="1" />
<rect x="223.00" y="371.70" width="5.20" height="5.80" fill="#b0a8d8" stroke="none" stroke-width="1" />
<line x1="225.40" y1="360.30" x2="225.40" y2="371.70" stroke="#2a6c8c" stroke-width="0.65" />
<line x1="223.80" y1="360.30" x2="227.00" y2="360.30" stroke="#2a6c8c" stroke-width="0.65" />
<circle cx="225.40" cy="373.30" r="1.6" fill="#1c4a6a" stroke="none" stroke-width="1" />
<circle cx="223.80" cy="374.00" r="1.1" fill="#1c4a6a" stroke="none" stroke-width="1" />
<circle cx="227.00" cy="374.00" r="1.1" fill="#1c4a6a" stroke="none" stroke-width="1" />
<rect x="234.50" y="353.60" width="5.20" height="27.20" fill="#f5aaa0" stroke="none" stroke-width="1" />
<circle cx="235.80" cy="354.50" r="0.6" fill="#a01a34" stroke="none" stroke-width="1" />
<circle cx="238.40" cy="355.70" r="0.6" fill="#a01a34" stroke="none" stroke-width="1" />
<circle cx="235.80" cy="356.50" r="0.6" fill="#a01a34" stroke="none" stroke-width="1" />
<circle cx="238.40" cy="357.70" r="0.6" fill="#a01a34" stroke="none" stroke-width="1" />
<circle cx="235.80" cy="359.00" r="0.6" fill="#a01a34" stroke="none" stroke-width="1" />
<circle cx="238.40" cy="360.20" r="0.6" fill="#a01a34" stroke="none" stroke-width="1" />
<circle cx="235.80" cy="361.50" r="0.6" fill="#a01a34" stroke="none" stroke-width="1" />
<circle cx="238.40" cy="362.70" r="0.6" fill="#a01a34" stroke="none" stroke-width="1" />
<circle cx="235.80" cy="364.00" r="0.6" fill="#a01a34" stroke="none" stroke-width="1" />
<circle cx="238.40" cy="365.20" r="0.6" fill="#a01a34" stroke="none" stroke-width="1" />
<circle cx="235.80" cy="366.50" r="0.6" fill="#a01a34" stroke="none" stroke-width="1" />
<circle cx="238.40" cy="367.70" r="0.6" fill="#a01a34" stroke="none" stroke-width="1" />
<circle cx="235.80" cy="369.00" r="0.6" fill="#a01a34" stroke="none" stroke-width="1" />
<circle cx="238.40" cy="370.20" r="0.6" fill="#a01a34" stroke="none" stroke-width="1" />
<circle cx="235.80" cy="371.50" r="0.6" fill="#a01a34" stroke="none" stroke-width="1" />
<circle cx="238.40" cy="372.70" r="0.6" fill="#a01a34" stroke="none" stroke-width="1" />
<circle cx="235.80" cy="374.00" r="0.6" fill="#a01a34" stroke="none" stroke-width="1" />
<circle cx="238.40" cy="375.20" r="0.6" fill="#a01a34" stroke="none" stroke-width="1" />
<circle cx="235.80" cy="376.50" r="0.6" fill="#a01a34" stroke="none" stroke-width="1" />
<circle cx="238.40" cy="377.70" r="0.6" fill="#a01a34" stroke="none" stroke-width="1" />
<line x1="245.60" y1="358.60" x2="245.60" y2="380.80" stroke="#2a6c8c" stroke-width="0.65" />
<line x1="244.00" y1="358.60" x2="247.20" y2="358.60" stroke="#2a6c8c" stroke-width="0.65" />
<circle cx="245.60" cy="372.60" r="1.6" fill="#1c4a6a" stroke="none" stroke-width="1" />
<circle cx="244.00" cy="373.50" r="1.1" fill="#1c4a6a" stroke="none" stroke-width="1" />
<circle cx="247.20" cy="373.50" r="1.1" fill="#1c4a6a" stroke="none" stroke-width="1" />
<rect x="254.50" y="356.70" width="5.20" height="10.30" fill="#f5aaa0" stroke="none" stroke-width="1" />
<rect x="254.20" y="353.00" width="5.80" height="3.80" fill="#b2233c" stroke="none" stroke-width="1" />
<line x1="257.10" y1="356.70" x2="257.10" y2="376.40" stroke="#cc3b52" stroke-width="0.65" />
<line x1="255.50" y1="356.70" x2="258.70" y2="356.70" stroke="#cc3b52" stroke-width="0.65" />
<circle cx="257.10" cy="360.00" r="0.6" fill="#a01a34" stroke="none" stroke-width="1" />
<circle cx="257.10" cy="364.00" r="0.6" fill="#a01a34" stroke="none" stroke-width="1" />
<circle cx="257.10" cy="368.00" r="0.6" fill="#a01a34" stroke="none" stroke-width="1" />
<circle cx="257.10" cy="372.00" r="0.6" fill="#a01a34" stroke="none" stroke-width="1" />
<line x1="265.70" y1="357.60" x2="265.70" y2="380.80" stroke="#2a6c8c" stroke-width="0.65" />
<line x1="264.10" y1="357.60" x2="267.30" y2="357.60" stroke="#2a6c8c" stroke-width="0.65" />
<circle cx="265.70" cy="372.40" r="1.7" fill="#1c4a6a" stroke="none" stroke-width="1" />
<circle cx="264.00" cy="373.50" r="1.2" fill="#1c4a6a" stroke="none" stroke-width="1" />
<circle cx="267.40" cy="373.50" r="1.2" fill="#1c4a6a" stroke="none" stroke-width="1" />
<line x1="277.30" y1="353.50" x2="277.30" y2="364.00" stroke="#cc3b52" stroke-width="0.65" />
<line x1="277.20" y1="353.50" x2="277.40" y2="353.50" stroke="#cc3b52" stroke-width="0.65" />
<rect x="275.80" y="355.00" width="3.00" height="9.00" fill="#f5b6b0" stroke="none" stroke-width="1" />
<path d="M274.6,352.6 L280.0,352.6 L277.3,356.8 Z" fill="#a01a34" stroke="none" stroke-width="1" />
<line x1="285.40" y1="356.00" x2="285.40" y2="364.00" stroke="#2a6c8c" stroke-width="0.65" />
<line x1="283.80" y1="356.00" x2="287.00" y2="356.00" stroke="#2a6c8c" stroke-width="0.65" />
<rect x="283.20" y="364.00" width="4.40" height="10.00" fill="#a6bad8" stroke="none" stroke-width="1" />
<line x1="283.20" y1="371.00" x2="287.60" y2="371.00" stroke="#1c4a6a" stroke-width="0.8" />
<line x1="285.40" y1="374.00" x2="285.40" y2="380.80" stroke="#2a6c8c" stroke-width="0.65" />
<ellipse cx="296.9" cy="354.3" rx="2.6" ry="1.5" fill="#c21c38"/>
<rect x="302.80" y="357.60" width="4.40" height="17.10" fill="#a6bad8" stroke="none" stroke-width="1" />
<path d="M306.4,355.2 A1.6,1.4 0 1 0 306.4,357.6" fill="none" stroke="#1c4a6a" stroke-width="0.8" />
<line x1="302.80" y1="369.50" x2="307.20" y2="369.50" stroke="#1c4a6a" stroke-width="0.7" />
<line x1="302.80" y1="372.00" x2="307.20" y2="372.00" stroke="#1c4a6a" stroke-width="0.7" />
<line x1="211.50" y1="366.30" x2="310.80" y2="366.30" stroke="#333" stroke-width="0.6" stroke-dasharray="1.0,1.3"/>
<line x1="231.40" y1="341.70" x2="231.40" y2="380.80" stroke="#555" stroke-width="1.2" />
<line x1="251.40" y1="341.70" x2="251.40" y2="380.80" stroke="#555" stroke-width="1.2" />
<line x1="271.50" y1="341.70" x2="271.50" y2="380.80" stroke="#555" stroke-width="1.2" />
<line x1="291.50" y1="341.70" x2="291.50" y2="380.80" stroke="#555" stroke-width="1.2" />
<rect x="211.50" y="341.70" width="99.30" height="39.10" fill="none" stroke="#3a3a3a" stroke-width="1.3" />
<line x1="216.90" y1="380.80" x2="216.90" y2="383.60" stroke="#a01a34" stroke-width="0.8" />
<line x1="225.90" y1="380.80" x2="225.90" y2="383.60" stroke="#1c4a6a" stroke-width="0.8" />
<text x="219.40" y="391.00" font-size="7.0" fill="#3a3a3a" stroke="#3a3a3a" stroke-width="0.04" text-anchor="end" textLength="8.20" lengthAdjust="spacingAndGlyphs" transform="rotate(-50 219.40 391.00)" >WT</text>
<text x="228.50" y="393.30" font-size="7.0" fill="#3a3a3a" stroke="#3a3a3a" stroke-width="0.04" text-anchor="end" textLength="20.40" lengthAdjust="spacingAndGlyphs" transform="rotate(-50 228.50 393.30)" >R1984A</text>
<line x1="236.80" y1="380.80" x2="236.80" y2="383.60" stroke="#a01a34" stroke-width="0.8" />
<line x1="245.80" y1="380.80" x2="245.80" y2="383.60" stroke="#1c4a6a" stroke-width="0.8" />
<text x="239.30" y="391.00" font-size="7.0" fill="#3a3a3a" stroke="#3a3a3a" stroke-width="0.04" text-anchor="end" textLength="8.20" lengthAdjust="spacingAndGlyphs" transform="rotate(-50 239.30 391.00)" >WT</text>
<text x="248.40" y="393.30" font-size="7.0" fill="#3a3a3a" stroke="#3a3a3a" stroke-width="0.04" text-anchor="end" textLength="20.40" lengthAdjust="spacingAndGlyphs" transform="rotate(-50 248.40 393.30)" >R1984A</text>
<line x1="256.80" y1="380.80" x2="256.80" y2="383.60" stroke="#a01a34" stroke-width="0.8" />
<line x1="265.80" y1="380.80" x2="265.80" y2="383.60" stroke="#1c4a6a" stroke-width="0.8" />
<text x="259.30" y="391.00" font-size="7.0" fill="#3a3a3a" stroke="#3a3a3a" stroke-width="0.04" text-anchor="end" textLength="8.20" lengthAdjust="spacingAndGlyphs" transform="rotate(-50 259.30 391.00)" >WT</text>
<text x="268.40" y="393.30" font-size="7.0" fill="#3a3a3a" stroke="#3a3a3a" stroke-width="0.04" text-anchor="end" textLength="20.40" lengthAdjust="spacingAndGlyphs" transform="rotate(-50 268.40 393.30)" >R1984A</text>
<line x1="276.90" y1="380.80" x2="276.90" y2="383.60" stroke="#a01a34" stroke-width="0.8" />
<line x1="285.90" y1="380.80" x2="285.90" y2="383.60" stroke="#1c4a6a" stroke-width="0.8" />
<text x="279.40" y="391.00" font-size="7.0" fill="#3a3a3a" stroke="#3a3a3a" stroke-width="0.04" text-anchor="end" textLength="8.20" lengthAdjust="spacingAndGlyphs" transform="rotate(-50 279.40 391.00)" >WT</text>
<text x="288.50" y="393.30" font-size="7.0" fill="#3a3a3a" stroke="#3a3a3a" stroke-width="0.04" text-anchor="end" textLength="20.40" lengthAdjust="spacingAndGlyphs" transform="rotate(-50 288.50 393.30)" >R1984A</text>
<line x1="296.90" y1="380.80" x2="296.90" y2="383.60" stroke="#a01a34" stroke-width="0.8" />
<line x1="305.90" y1="380.80" x2="305.90" y2="383.60" stroke="#1c4a6a" stroke-width="0.8" />
<text x="299.40" y="391.00" font-size="7.0" fill="#3a3a3a" stroke="#3a3a3a" stroke-width="0.04" text-anchor="end" textLength="8.20" lengthAdjust="spacingAndGlyphs" transform="rotate(-50 299.40 391.00)" >WT</text>
<text x="308.50" y="393.30" font-size="7.0" fill="#3a3a3a" stroke="#3a3a3a" stroke-width="0.04" text-anchor="end" textLength="20.40" lengthAdjust="spacingAndGlyphs" transform="rotate(-50 308.50 393.30)" >R1984A</text>
<text x="401.00" y="327.40" font-size="9.0" fill="#222" stroke="#222" stroke-width="0.04" textLength="30.60" lengthAdjust="spacingAndGlyphs" >N + LTB</text>
<text x="388.00" y="338.90" font-size="7.0" fill="#222" stroke="#222" stroke-width="0.04" text-anchor="middle" textLength="3.90" lengthAdjust="spacingAndGlyphs" >5</text>
<text x="405.80" y="338.90" font-size="7.0" fill="#222" stroke="#222" stroke-width="0.04" text-anchor="middle" textLength="7.80" lengthAdjust="spacingAndGlyphs" >10</text>
<text x="425.60" y="338.90" font-size="7.0" fill="#222" stroke="#222" stroke-width="0.04" text-anchor="middle" textLength="7.80" lengthAdjust="spacingAndGlyphs" >20</text>
<text x="445.50" y="338.90" font-size="7.0" fill="#222" stroke="#222" stroke-width="0.04" text-anchor="middle" textLength="7.80" lengthAdjust="spacingAndGlyphs" >50</text>
<text x="459.00" y="339.70" font-size="7.6" fill="#222" stroke="#222" stroke-width="0.04" textLength="26.40" lengthAdjust="spacingAndGlyphs" >Cells per</text>
<text x="459.00" y="347.10" font-size="7.6" fill="#222" stroke="#222" stroke-width="0.04" textLength="13.00" lengthAdjust="spacingAndGlyphs" >well</text>
<text x="459.40" y="368.80" font-size="7.6" fill="#222" stroke="#222" stroke-width="0.04" textLength="28.80" lengthAdjust="spacingAndGlyphs" >Threshold</text>
<text x="361.00" y="362.00" font-size="8.4" fill="#333" stroke="#333" stroke-width="0.14" text-anchor="middle" textLength="50.00" lengthAdjust="spacingAndGlyphs" transform="rotate(-90 361.00 362.00)" >Cell count log10</text>
<line x1="374.30" y1="341.70" x2="376.90" y2="341.70" stroke="#3a3a3a" stroke-width="1.0" />
<text x="369.20" y="344.00" font-size="6.4" fill="#444" stroke="#444" stroke-width="0.05" text-anchor="middle" textLength="3.40" lengthAdjust="spacingAndGlyphs" >8</text>
<line x1="374.30" y1="351.50" x2="376.90" y2="351.50" stroke="#3a3a3a" stroke-width="1.0" />
<text x="369.20" y="353.80" font-size="6.4" fill="#444" stroke="#444" stroke-width="0.05" text-anchor="middle" textLength="3.40" lengthAdjust="spacingAndGlyphs" >6</text>
<line x1="374.30" y1="361.40" x2="376.90" y2="361.40" stroke="#3a3a3a" stroke-width="1.0" />
<text x="369.20" y="363.70" font-size="6.4" fill="#444" stroke="#444" stroke-width="0.05" text-anchor="middle" textLength="3.40" lengthAdjust="spacingAndGlyphs" >4</text>
<line x1="374.30" y1="371.30" x2="376.90" y2="371.30" stroke="#3a3a3a" stroke-width="1.0" />
<text x="369.20" y="373.60" font-size="6.4" fill="#444" stroke="#444" stroke-width="0.05" text-anchor="middle" textLength="3.40" lengthAdjust="spacingAndGlyphs" >2</text>
<line x1="374.30" y1="381.20" x2="376.90" y2="381.20" stroke="#3a3a3a" stroke-width="1.0" />
<text x="369.20" y="383.50" font-size="6.4" fill="#444" stroke="#444" stroke-width="0.05" text-anchor="middle" textLength="3.40" lengthAdjust="spacingAndGlyphs" >0</text>
<line x1="382.30" y1="365.80" x2="382.30" y2="377.30" stroke="#cc3b52" stroke-width="0.65" />
<line x1="380.70" y1="365.80" x2="383.90" y2="365.80" stroke="#cc3b52" stroke-width="0.65" />
<rect x="380.20" y="377.30" width="4.20" height="2.90" fill="#d8405a" stroke="none" stroke-width="1" />
<line x1="391.00" y1="373.50" x2="391.00" y2="377.30" stroke="#2a6c8c" stroke-width="0.65" />
<line x1="389.40" y1="373.50" x2="392.60" y2="373.50" stroke="#2a6c8c" stroke-width="0.65" />
<rect x="389.00" y="377.30" width="4.00" height="2.90" fill="#3a6e96" stroke="none" stroke-width="1" />
<line x1="402.00" y1="365.40" x2="402.00" y2="376.40" stroke="#cc3b52" stroke-width="0.65" />
<line x1="400.40" y1="365.40" x2="403.60" y2="365.40" stroke="#cc3b52" stroke-width="0.65" />
<rect x="400.00" y="376.40" width="4.00" height="3.80" fill="#ee8a96" stroke="none" stroke-width="1" />
<circle cx="402.00" cy="369.00" r="0.7" fill="#a01a34" stroke="none" stroke-width="1" />
<circle cx="402.00" cy="373.00" r="0.7" fill="#a01a34" stroke="none" stroke-width="1" />
<circle cx="402.00" cy="377.50" r="0.7" fill="#a01a34" stroke="none" stroke-width="1" />
<line x1="410.20" y1="365.80" x2="410.20" y2="376.40" stroke="#2a6c8c" stroke-width="0.65" />
<line x1="408.60" y1="365.80" x2="411.80" y2="365.80" stroke="#2a6c8c" stroke-width="0.65" />
<rect x="408.20" y="376.40" width="4.00" height="3.80" fill="#6f94bc" stroke="none" stroke-width="1" />
<circle cx="410.20" cy="377.50" r="0.8" fill="#1c4a6a" stroke="none" stroke-width="1" />
<circle cx="410.20" cy="379.00" r="0.8" fill="#1c4a6a" stroke="none" stroke-width="1" />
<line x1="421.60" y1="352.30" x2="421.60" y2="372.50" stroke="#cc3b52" stroke-width="0.65" />
<line x1="420.00" y1="352.30" x2="423.20" y2="352.30" stroke="#cc3b52" stroke-width="0.65" />
<rect x="419.20" y="372.50" width="4.80" height="5.80" fill="#e8506a" stroke="none" stroke-width="1" />
<circle cx="421.60" cy="374.00" r="0.8" fill="#a01a34" stroke="none" stroke-width="1" />
<circle cx="421.60" cy="376.50" r="0.8" fill="#a01a34" stroke="none" stroke-width="1" />
<circle cx="421.60" cy="355.00" r="0.5" fill="#cc3b52" stroke="none" stroke-width="1" />
<circle cx="421.60" cy="360.00" r="0.5" fill="#cc3b52" stroke="none" stroke-width="1" />
<circle cx="421.60" cy="365.00" r="0.5" fill="#cc3b52" stroke="none" stroke-width="1" />
<circle cx="421.60" cy="369.00" r="0.5" fill="#cc3b52" stroke="none" stroke-width="1" />
<line x1="429.80" y1="357.00" x2="429.80" y2="373.50" stroke="#2a6c8c" stroke-width="0.65" />
<line x1="428.20" y1="357.00" x2="431.40" y2="357.00" stroke="#2a6c8c" stroke-width="0.65" />
<rect x="427.60" y="373.50" width="4.40" height="5.50" fill="#5a88b8" stroke="none" stroke-width="1" />
<circle cx="429.80" cy="375.00" r="0.8" fill="#1c4a6a" stroke="none" stroke-width="1" />
<circle cx="429.80" cy="377.50" r="0.8" fill="#1c4a6a" stroke="none" stroke-width="1" />
<rect x="439.00" y="345.30" width="5.40" height="27.00" fill="#f5aaa0" stroke="none" stroke-width="1" />
<line x1="441.70" y1="372.30" x2="441.70" y2="376.40" stroke="#cc3b52" stroke-width="0.65" />
<line x1="440.10" y1="376.40" x2="443.30" y2="376.40" stroke="#cc3b52" stroke-width="0.65" />
<path d="M440.3,343.6 L443.1,346.6 M443.1,343.6 L440.3,346.6" fill="none" stroke="#a01a34" stroke-width="0.8" />
<circle cx="441.70" cy="352.00" r="0.8" fill="#a01a34" stroke="none" stroke-width="1" />
<circle cx="441.70" cy="356.00" r="0.8" fill="#a01a34" stroke="none" stroke-width="1" />
<circle cx="441.70" cy="359.50" r="0.8" fill="#a01a34" stroke="none" stroke-width="1" />
<circle cx="441.70" cy="367.50" r="0.8" fill="#a01a34" stroke="none" stroke-width="1" />
<circle cx="441.70" cy="370.50" r="0.8" fill="#a01a34" stroke="none" stroke-width="1" />
<circle cx="440.30" cy="357.80" r="0.7" fill="#a01a34" stroke="none" stroke-width="1" />
<circle cx="443.10" cy="357.80" r="0.7" fill="#a01a34" stroke="none" stroke-width="1" />
<line x1="449.60" y1="351.00" x2="449.60" y2="360.80" stroke="#2a6c8c" stroke-width="0.65" />
<line x1="448.00" y1="351.00" x2="451.20" y2="351.00" stroke="#2a6c8c" stroke-width="0.65" />
<rect x="447.20" y="360.80" width="4.80" height="17.20" fill="#a6bad8" stroke="none" stroke-width="1" />
<circle cx="449.60" cy="363.00" r="0.8" fill="#1c4a6a" stroke="none" stroke-width="1" />
<circle cx="449.60" cy="367.00" r="0.8" fill="#1c4a6a" stroke="none" stroke-width="1" />
<circle cx="449.60" cy="372.00" r="0.8" fill="#1c4a6a" stroke="none" stroke-width="1" />
<circle cx="449.60" cy="375.50" r="0.8" fill="#1c4a6a" stroke="none" stroke-width="1" />
<line x1="376.90" y1="367.30" x2="455.80" y2="367.30" stroke="#333" stroke-width="0.6" stroke-dasharray="1.0,1.3"/>
<line x1="396.70" y1="341.70" x2="396.70" y2="381.20" stroke="#555" stroke-width="1.2" />
<line x1="416.70" y1="341.70" x2="416.70" y2="381.20" stroke="#555" stroke-width="1.2" />
<line x1="436.50" y1="341.70" x2="436.50" y2="381.20" stroke="#555" stroke-width="1.2" />
<rect x="376.90" y="341.70" width="78.90" height="39.50" fill="none" stroke="#3a3a3a" stroke-width="1.3" />
<line x1="382.30" y1="381.20" x2="382.30" y2="384.00" stroke="#a01a34" stroke-width="0.8" />
<line x1="391.30" y1="381.20" x2="391.30" y2="384.00" stroke="#1c4a6a" stroke-width="0.8" />
<text x="384.80" y="391.00" font-size="7.0" fill="#3a3a3a" stroke="#3a3a3a" stroke-width="0.04" text-anchor="end" textLength="8.20" lengthAdjust="spacingAndGlyphs" transform="rotate(-50 384.80 391.00)" >WT</text>
<text x="393.90" y="393.30" font-size="7.0" fill="#3a3a3a" stroke="#3a3a3a" stroke-width="0.04" text-anchor="end" textLength="20.40" lengthAdjust="spacingAndGlyphs" transform="rotate(-50 393.90 393.30)" >R1984A</text>
<line x1="402.10" y1="381.20" x2="402.10" y2="384.00" stroke="#a01a34" stroke-width="0.8" />
<line x1="411.10" y1="381.20" x2="411.10" y2="384.00" stroke="#1c4a6a" stroke-width="0.8" />
<text x="404.60" y="391.00" font-size="7.0" fill="#3a3a3a" stroke="#3a3a3a" stroke-width="0.04" text-anchor="end" textLength="8.20" lengthAdjust="spacingAndGlyphs" transform="rotate(-50 404.60 391.00)" >WT</text>
<text x="413.70" y="393.30" font-size="7.0" fill="#3a3a3a" stroke="#3a3a3a" stroke-width="0.04" text-anchor="end" textLength="20.40" lengthAdjust="spacingAndGlyphs" transform="rotate(-50 413.70 393.30)" >R1984A</text>
<line x1="422.10" y1="381.20" x2="422.10" y2="384.00" stroke="#a01a34" stroke-width="0.8" />
<line x1="431.10" y1="381.20" x2="431.10" y2="384.00" stroke="#1c4a6a" stroke-width="0.8" />
<text x="424.60" y="391.00" font-size="7.0" fill="#3a3a3a" stroke="#3a3a3a" stroke-width="0.04" text-anchor="end" textLength="8.20" lengthAdjust="spacingAndGlyphs" transform="rotate(-50 424.60 391.00)" >WT</text>
<text x="433.70" y="393.30" font-size="7.0" fill="#3a3a3a" stroke="#3a3a3a" stroke-width="0.04" text-anchor="end" textLength="20.40" lengthAdjust="spacingAndGlyphs" transform="rotate(-50 433.70 393.30)" >R1984A</text>
<line x1="441.90" y1="381.20" x2="441.90" y2="384.00" stroke="#a01a34" stroke-width="0.8" />
<line x1="450.90" y1="381.20" x2="450.90" y2="384.00" stroke="#1c4a6a" stroke-width="0.8" />
<text x="444.40" y="391.00" font-size="7.0" fill="#3a3a3a" stroke="#3a3a3a" stroke-width="0.04" text-anchor="end" textLength="8.20" lengthAdjust="spacingAndGlyphs" transform="rotate(-50 444.40 391.00)" >WT</text>
<text x="453.50" y="393.30" font-size="7.0" fill="#3a3a3a" stroke="#3a3a3a" stroke-width="0.04" text-anchor="end" textLength="20.40" lengthAdjust="spacingAndGlyphs" transform="rotate(-50 453.50 393.30)" >R1984A</text>
<clipPath id="cp60"><rect x="60.6" y="425.3" width="53.4" height="43.0"/></clipPath>
<g clip-path="url(#cp60)">
<line x1="61.20" y1="426.10" x2="114.00" y2="438.80" stroke="#a9c8dc" stroke-width="0.7" />
<line x1="61.20" y1="426.10" x2="112.50" y2="457.50" stroke="#a9c8dc" stroke-width="0.7" />
<line x1="61.20" y1="426.10" x2="114.00" y2="446.30" stroke="#3a6585" stroke-width="0.9" />
<line x1="61.20" y1="426.10" x2="77.90" y2="468.30" stroke="#f0a0b4" stroke-width="0.7" />
<line x1="61.20" y1="426.10" x2="99.40" y2="468.30" stroke="#f0a0b4" stroke-width="0.7" />
<line x1="61.20" y1="426.10" x2="89.40" y2="468.30" stroke="#a3203e" stroke-width="0.9" />
</g>
<rect x="60.60" y="425.30" width="53.40" height="43.00" fill="none" stroke="#3a3a3a" stroke-width="1.3" />
<line x1="58.40" y1="426.00" x2="60.60" y2="426.00" stroke="#3a3a3a" stroke-width="0.9" />
<text x="58.60" y="428.30" font-size="7.0" fill="#333" stroke="#333" stroke-width="0.05" text-anchor="end" textLength="10.40" lengthAdjust="spacingAndGlyphs" >0.0</text>
<line x1="58.40" y1="432.07" x2="60.60" y2="432.07" stroke="#3a3a3a" stroke-width="0.9" />
<text x="58.60" y="434.37" font-size="7.0" fill="#333" stroke="#333" stroke-width="0.05" text-anchor="end" textLength="14.00" lengthAdjust="spacingAndGlyphs" >-0.2</text>
<line x1="58.40" y1="438.14" x2="60.60" y2="438.14" stroke="#3a3a3a" stroke-width="0.9" />
<text x="58.60" y="440.44" font-size="7.0" fill="#333" stroke="#333" stroke-width="0.05" text-anchor="end" textLength="14.00" lengthAdjust="spacingAndGlyphs" >-0.4</text>
<line x1="58.40" y1="444.21" x2="60.60" y2="444.21" stroke="#3a3a3a" stroke-width="0.9" />
<text x="58.60" y="446.51" font-size="7.0" fill="#333" stroke="#333" stroke-width="0.05" text-anchor="end" textLength="14.00" lengthAdjust="spacingAndGlyphs" >-0.6</text>
<line x1="58.40" y1="450.28" x2="60.60" y2="450.28" stroke="#3a3a3a" stroke-width="0.9" />
<text x="58.60" y="452.58" font-size="7.0" fill="#333" stroke="#333" stroke-width="0.05" text-anchor="end" textLength="14.00" lengthAdjust="spacingAndGlyphs" >-0.8</text>
<line x1="58.40" y1="456.35" x2="60.60" y2="456.35" stroke="#3a3a3a" stroke-width="0.9" />
<text x="58.60" y="458.65" font-size="7.0" fill="#333" stroke="#333" stroke-width="0.05" text-anchor="end" textLength="14.00" lengthAdjust="spacingAndGlyphs" >-1.0</text>
<line x1="58.40" y1="462.42" x2="60.60" y2="462.42" stroke="#3a3a3a" stroke-width="0.9" />
<text x="58.60" y="464.72" font-size="7.0" fill="#333" stroke="#333" stroke-width="0.05" text-anchor="end" textLength="14.00" lengthAdjust="spacingAndGlyphs" >-1.2</text>
<line x1="58.40" y1="468.49" x2="60.60" y2="468.49" stroke="#3a3a3a" stroke-width="0.9" />
<text x="58.60" y="470.79" font-size="7.0" fill="#333" stroke="#333" stroke-width="0.05" text-anchor="end" textLength="14.00" lengthAdjust="spacingAndGlyphs" >-1.4</text>
<line x1="61.90" y1="468.30" x2="61.90" y2="470.50" stroke="#3a3a3a" stroke-width="0.9" />
<text x="61.90" y="481.00" font-size="7.4" fill="#333" stroke="#333" stroke-width="0.05" text-anchor="middle" textLength="3.30" lengthAdjust="spacingAndGlyphs" >0</text>
<line x1="72.50" y1="468.30" x2="72.50" y2="470.50" stroke="#3a3a3a" stroke-width="0.9" />
<text x="72.50" y="481.00" font-size="7.4" fill="#333" stroke="#333" stroke-width="0.05" text-anchor="middle" textLength="3.30" lengthAdjust="spacingAndGlyphs" >5</text>
<line x1="82.80" y1="468.30" x2="82.80" y2="470.50" stroke="#3a3a3a" stroke-width="0.9" />
<text x="82.80" y="481.00" font-size="7.4" fill="#333" stroke="#333" stroke-width="0.05" text-anchor="middle" textLength="6.60" lengthAdjust="spacingAndGlyphs" >10</text>
<line x1="93.10" y1="468.30" x2="93.10" y2="470.50" stroke="#3a3a3a" stroke-width="0.9" />
<text x="93.10" y="481.00" font-size="7.4" fill="#333" stroke="#333" stroke-width="0.05" text-anchor="middle" textLength="6.60" lengthAdjust="spacingAndGlyphs" >15</text>
<line x1="103.50" y1="468.30" x2="103.50" y2="470.50" stroke="#3a3a3a" stroke-width="0.9" />
<text x="103.50" y="481.00" font-size="7.4" fill="#333" stroke="#333" stroke-width="0.05" text-anchor="middle" textLength="6.60" lengthAdjust="spacingAndGlyphs" >20</text>
<text x="61.50" y="462.60" font-size="4.6" fill="#3a6585" stroke="#3a6585" stroke-width="0.04" textLength="18.00" lengthAdjust="spacingAndGlyphs" >Group mut</text>
<text x="61.50" y="467.20" font-size="4.6" fill="#a3203e" stroke="#a3203e" stroke-width="0.04" textLength="16.00" lengthAdjust="spacingAndGlyphs" >Group wt</text>
<circle cx="74.40" cy="430.60" r="0.5" fill="#3a6585" stroke="none" stroke-width="1" />
<circle cx="87.30" cy="432.30" r="0.5" fill="#3a6585" stroke="none" stroke-width="1" />
<circle cx="112.70" cy="443.70" r="0.5" fill="#3a6585" stroke="none" stroke-width="1" />
<circle cx="67.60" cy="437.50" r="0.5" fill="#a3203e" stroke="none" stroke-width="1" />
<circle cx="74.80" cy="454.50" r="0.5" fill="#a3203e" stroke="none" stroke-width="1" />
<circle cx="86.50" cy="452.50" r="0.5" fill="#a3203e" stroke="none" stroke-width="1" />
<clipPath id="cp229"><rect x="229.4" y="424.6" width="53.99999999999997" height="44.39999999999998"/></clipPath>
<g clip-path="url(#cp229)">
<line x1="230.00" y1="425.40" x2="283.40" y2="429.80" stroke="#a9c8dc" stroke-width="0.7" />
<line x1="230.00" y1="425.40" x2="283.40" y2="436.20" stroke="#a9c8dc" stroke-width="0.7" />
<line x1="230.00" y1="425.40" x2="283.40" y2="433.00" stroke="#3a6585" stroke-width="0.9" />
<line x1="230.00" y1="425.40" x2="255.90" y2="469.00" stroke="#f0a0b4" stroke-width="0.7" />
<line x1="230.00" y1="425.40" x2="270.70" y2="469.00" stroke="#f0a0b4" stroke-width="0.7" />
<line x1="230.00" y1="425.40" x2="262.20" y2="469.00" stroke="#a3203e" stroke-width="0.9" />
</g>
<rect x="229.40" y="424.60" width="54.00" height="44.40" fill="none" stroke="#3a3a3a" stroke-width="1.3" />
<line x1="227.20" y1="426.00" x2="229.40" y2="426.00" stroke="#3a3a3a" stroke-width="0.9" />
<text x="227.30" y="428.30" font-size="7.0" fill="#333" stroke="#333" stroke-width="0.05" text-anchor="end" textLength="10.40" lengthAdjust="spacingAndGlyphs" >0.0</text>
<line x1="227.20" y1="432.63" x2="229.40" y2="432.63" stroke="#3a3a3a" stroke-width="0.9" />
<text x="227.30" y="434.93" font-size="7.0" fill="#333" stroke="#333" stroke-width="0.05" text-anchor="end" textLength="14.00" lengthAdjust="spacingAndGlyphs" >-0.5</text>
<line x1="227.20" y1="439.26" x2="229.40" y2="439.26" stroke="#3a3a3a" stroke-width="0.9" />
<text x="227.30" y="441.56" font-size="7.0" fill="#333" stroke="#333" stroke-width="0.05" text-anchor="end" textLength="14.00" lengthAdjust="spacingAndGlyphs" >-1.0</text>
<line x1="227.20" y1="445.89" x2="229.40" y2="445.89" stroke="#3a3a3a" stroke-width="0.9" />
<text x="227.30" y="448.19" font-size="7.0" fill="#333" stroke="#333" stroke-width="0.05" text-anchor="end" textLength="14.00" lengthAdjust="spacingAndGlyphs" >-1.5</text>
<line x1="227.20" y1="452.52" x2="229.40" y2="452.52" stroke="#3a3a3a" stroke-width="0.9" />
<text x="227.30" y="454.82" font-size="7.0" fill="#333" stroke="#333" stroke-width="0.05" text-anchor="end" textLength="14.00" lengthAdjust="spacingAndGlyphs" >-2.0</text>
<line x1="227.20" y1="459.15" x2="229.40" y2="459.15" stroke="#3a3a3a" stroke-width="0.9" />
<text x="227.30" y="461.45" font-size="7.0" fill="#333" stroke="#333" stroke-width="0.05" text-anchor="end" textLength="14.00" lengthAdjust="spacingAndGlyphs" >-2.5</text>
<line x1="227.20" y1="465.78" x2="229.40" y2="465.78" stroke="#3a3a3a" stroke-width="0.9" />
<text x="227.30" y="468.08" font-size="7.0" fill="#333" stroke="#333" stroke-width="0.05" text-anchor="end" textLength="14.00" lengthAdjust="spacingAndGlyphs" >-3.0</text>
<line x1="230.50" y1="469.00" x2="230.50" y2="471.20" stroke="#3a3a3a" stroke-width="0.9" />
<text x="230.50" y="481.00" font-size="7.4" fill="#333" stroke="#333" stroke-width="0.05" text-anchor="middle" textLength="3.30" lengthAdjust="spacingAndGlyphs" >0</text>
<line x1="241.00" y1="469.00" x2="241.00" y2="471.20" stroke="#3a3a3a" stroke-width="0.9" />
<text x="241.00" y="481.00" font-size="7.4" fill="#333" stroke="#333" stroke-width="0.05" text-anchor="middle" textLength="3.30" lengthAdjust="spacingAndGlyphs" >5</text>
<line x1="251.60" y1="469.00" x2="251.60" y2="471.20" stroke="#3a3a3a" stroke-width="0.9" />
<text x="251.60" y="481.00" font-size="7.4" fill="#333" stroke="#333" stroke-width="0.05" text-anchor="middle" textLength="6.60" lengthAdjust="spacingAndGlyphs" >10</text>
<line x1="262.20" y1="469.00" x2="262.20" y2="471.20" stroke="#3a3a3a" stroke-width="0.9" />
<text x="262.20" y="481.00" font-size="7.4" fill="#333" stroke="#333" stroke-width="0.05" text-anchor="middle" textLength="6.60" lengthAdjust="spacingAndGlyphs" >15</text>
<line x1="272.20" y1="469.00" x2="272.20" y2="471.20" stroke="#3a3a3a" stroke-width="0.9" />
<text x="272.20" y="481.00" font-size="7.4" fill="#333" stroke="#333" stroke-width="0.05" text-anchor="middle" textLength="6.60" lengthAdjust="spacingAndGlyphs" >20</text>
<text x="230.20" y="463.20" font-size="4.6" fill="#3a6585" stroke="#3a6585" stroke-width="0.04" textLength="18.00" lengthAdjust="spacingAndGlyphs" >Group mut</text>
<text x="230.20" y="467.60" font-size="4.6" fill="#a3203e" stroke="#a3203e" stroke-width="0.04" textLength="16.00" lengthAdjust="spacingAndGlyphs" >Group wt</text>
<clipPath id="cp394"><rect x="394.8" y="424.6" width="54.19999999999999" height="44.39999999999998"/></clipPath>
<g clip-path="url(#cp394)">
<line x1="395.40" y1="425.40" x2="449.00" y2="427.70" stroke="#a9c8dc" stroke-width="0.7" />
<line x1="395.40" y1="425.40" x2="449.00" y2="437.80" stroke="#a9c8dc" stroke-width="0.7" />
<line x1="395.40" y1="425.40" x2="449.00" y2="430.90" stroke="#3a6585" stroke-width="0.9" />
<line x1="395.40" y1="425.40" x2="449.00" y2="438.30" stroke="#f0a0b4" stroke-width="0.7" />
<line x1="395.40" y1="425.40" x2="449.00" y2="458.40" stroke="#f0a0b4" stroke-width="0.7" />
<line x1="395.40" y1="425.40" x2="449.00" y2="446.30" stroke="#a3203e" stroke-width="0.9" />
</g>
<rect x="394.80" y="424.60" width="54.20" height="44.40" fill="none" stroke="#3a3a3a" stroke-width="1.3" />
<line x1="392.60" y1="426.00" x2="394.80" y2="426.00" stroke="#3a3a3a" stroke-width="0.9" />
<text x="392.80" y="428.30" font-size="7.0" fill="#333" stroke="#333" stroke-width="0.05" text-anchor="end" textLength="10.40" lengthAdjust="spacingAndGlyphs" >0.0</text>
<line x1="392.60" y1="432.07" x2="394.80" y2="432.07" stroke="#3a3a3a" stroke-width="0.9" />
<text x="392.80" y="434.37" font-size="7.0" fill="#333" stroke="#333" stroke-width="0.05" text-anchor="end" textLength="14.00" lengthAdjust="spacingAndGlyphs" >-0.2</text>
<line x1="392.60" y1="438.14" x2="394.80" y2="438.14" stroke="#3a3a3a" stroke-width="0.9" />
<text x="392.80" y="440.44" font-size="7.0" fill="#333" stroke="#333" stroke-width="0.05" text-anchor="end" textLength="14.00" lengthAdjust="spacingAndGlyphs" >-0.4</text>
<line x1="392.60" y1="444.21" x2="394.80" y2="444.21" stroke="#3a3a3a" stroke-width="0.9" />
<text x="392.80" y="446.51" font-size="7.0" fill="#333" stroke="#333" stroke-width="0.05" text-anchor="end" textLength="14.00" lengthAdjust="spacingAndGlyphs" >-0.6</text>
<line x1="392.60" y1="450.28" x2="394.80" y2="450.28" stroke="#3a3a3a" stroke-width="0.9" />
<text x="392.80" y="452.58" font-size="7.0" fill="#333" stroke="#333" stroke-width="0.05" text-anchor="end" textLength="14.00" lengthAdjust="spacingAndGlyphs" >-0.8</text>
<line x1="392.60" y1="456.35" x2="394.80" y2="456.35" stroke="#3a3a3a" stroke-width="0.9" />
<text x="392.80" y="458.65" font-size="7.0" fill="#333" stroke="#333" stroke-width="0.05" text-anchor="end" textLength="14.00" lengthAdjust="spacingAndGlyphs" >-1.0</text>
<line x1="392.60" y1="462.42" x2="394.80" y2="462.42" stroke="#3a3a3a" stroke-width="0.9" />
<text x="392.80" y="464.72" font-size="7.0" fill="#333" stroke="#333" stroke-width="0.05" text-anchor="end" textLength="14.00" lengthAdjust="spacingAndGlyphs" >-1.2</text>
<line x1="392.60" y1="468.49" x2="394.80" y2="468.49" stroke="#3a3a3a" stroke-width="0.9" />
<text x="392.80" y="470.79" font-size="7.0" fill="#333" stroke="#333" stroke-width="0.05" text-anchor="end" textLength="14.00" lengthAdjust="spacingAndGlyphs" >-1.4</text>
<line x1="397.00" y1="469.00" x2="397.00" y2="471.20" stroke="#3a3a3a" stroke-width="0.9" />
<text x="397.00" y="481.00" font-size="7.4" fill="#333" stroke="#333" stroke-width="0.05" text-anchor="middle" textLength="3.30" lengthAdjust="spacingAndGlyphs" >0</text>
<line x1="406.70" y1="469.00" x2="406.70" y2="471.20" stroke="#3a3a3a" stroke-width="0.9" />
<text x="406.70" y="481.00" font-size="7.4" fill="#333" stroke="#333" stroke-width="0.05" text-anchor="middle" textLength="6.60" lengthAdjust="spacingAndGlyphs" >10</text>
<line x1="416.60" y1="469.00" x2="416.60" y2="471.20" stroke="#3a3a3a" stroke-width="0.9" />
<text x="416.60" y="481.00" font-size="7.4" fill="#333" stroke="#333" stroke-width="0.05" text-anchor="middle" textLength="6.60" lengthAdjust="spacingAndGlyphs" >20</text>
<line x1="426.60" y1="469.00" x2="426.60" y2="471.20" stroke="#3a3a3a" stroke-width="0.9" />
<text x="426.60" y="481.00" font-size="7.4" fill="#333" stroke="#333" stroke-width="0.05" text-anchor="middle" textLength="6.60" lengthAdjust="spacingAndGlyphs" >30</text>
<line x1="436.70" y1="469.00" x2="436.70" y2="471.20" stroke="#3a3a3a" stroke-width="0.9" />
<text x="436.70" y="481.00" font-size="7.4" fill="#333" stroke="#333" stroke-width="0.05" text-anchor="middle" textLength="6.60" lengthAdjust="spacingAndGlyphs" >40</text>
<line x1="446.30" y1="469.00" x2="446.30" y2="471.20" stroke="#3a3a3a" stroke-width="0.9" />
<text x="446.30" y="481.00" font-size="7.4" fill="#333" stroke="#333" stroke-width="0.05" text-anchor="middle" textLength="6.60" lengthAdjust="spacingAndGlyphs" >50</text>
<text x="395.60" y="463.20" font-size="4.6" fill="#3a6585" stroke="#3a6585" stroke-width="0.04" textLength="18.00" lengthAdjust="spacingAndGlyphs" >Group mut</text>
<text x="395.60" y="467.60" font-size="4.6" fill="#a3203e" stroke="#a3203e" stroke-width="0.04" textLength="16.00" lengthAdjust="spacingAndGlyphs" >Group wt</text>
<text x="27.50" y="444.60" font-size="8.4" fill="#333" stroke="#333" stroke-width="0.14" text-anchor="middle" textLength="37.00" lengthAdjust="spacingAndGlyphs" transform="rotate(-90 27.50 444.60)" >Log fraction</text>
<text x="36.00" y="444.80" font-size="8.4" fill="#333" stroke="#333" stroke-width="0.14" text-anchor="middle" textLength="43.00" lengthAdjust="spacingAndGlyphs" transform="rotate(-90 36.00 444.80)" >nonresponding</text>
<text x="197.50" y="444.60" font-size="8.4" fill="#333" stroke="#333" stroke-width="0.14" text-anchor="middle" textLength="37.00" lengthAdjust="spacingAndGlyphs" transform="rotate(-90 197.50 444.60)" >Log fraction</text>
<text x="206.00" y="444.80" font-size="8.4" fill="#333" stroke="#333" stroke-width="0.14" text-anchor="middle" textLength="43.00" lengthAdjust="spacingAndGlyphs" transform="rotate(-90 206.00 444.80)" >nonresponding</text>
<text x="362.50" y="444.60" font-size="8.4" fill="#333" stroke="#333" stroke-width="0.14" text-anchor="middle" textLength="37.00" lengthAdjust="spacingAndGlyphs" transform="rotate(-90 362.50 444.60)" >Log fraction</text>
<text x="371.00" y="444.80" font-size="8.4" fill="#333" stroke="#333" stroke-width="0.14" text-anchor="middle" textLength="43.00" lengthAdjust="spacingAndGlyphs" transform="rotate(-90 371.00 444.80)" >nonresponding</text>
<text x="64.70" y="493.90" font-size="8.6" fill="#333" stroke="#333" stroke-width="0.14" textLength="44.30" lengthAdjust="spacingAndGlyphs" >Dose (number</text>
<text x="86.85" y="504.00" font-size="8.6" fill="#333" stroke="#333" stroke-width="0.14" text-anchor="middle" textLength="24.60" lengthAdjust="spacingAndGlyphs" >of cells)</text>
<text x="234.00" y="493.90" font-size="8.6" fill="#333" stroke="#333" stroke-width="0.14" textLength="44.00" lengthAdjust="spacingAndGlyphs" >Dose (number</text>
<text x="256.00" y="504.00" font-size="8.6" fill="#333" stroke="#333" stroke-width="0.14" text-anchor="middle" textLength="24.60" lengthAdjust="spacingAndGlyphs" >of cells)</text>
<text x="399.70" y="493.90" font-size="8.6" fill="#333" stroke="#333" stroke-width="0.14" textLength="43.30" lengthAdjust="spacingAndGlyphs" >Dose (number</text>
<text x="421.35" y="504.00" font-size="8.6" fill="#333" stroke="#333" stroke-width="0.14" text-anchor="middle" textLength="24.60" lengthAdjust="spacingAndGlyphs" >of cells)</text>
<text x="134.75" y="432.00" font-size="7.4" fill="#c8344e" stroke="#c8344e" stroke-width="0.04" textLength="25.25" lengthAdjust="spacingAndGlyphs" >N1ΔE wt</text>
<text x="127.90" y="440.10" font-size="7.4" fill="#c8344e" stroke="#c8344e" stroke-width="0.04" textLength="39.00" lengthAdjust="spacingAndGlyphs" >(~1 in 9 cells)</text>
<text x="124.75" y="450.70" font-size="7.4" fill="#3a6f9a" stroke="#3a6f9a" stroke-width="0.04" textLength="42.15" lengthAdjust="spacingAndGlyphs" >N1ΔE R1984A</text>
<text x="125.00" y="458.60" font-size="7.4" fill="#3a6f9a" stroke="#3a6f9a" stroke-width="0.04" textLength="42.50" lengthAdjust="spacingAndGlyphs" >(~1 in 37 cells)</text>
<text x="121.90" y="469.50" font-size="7.4" fill="#222" stroke="#222" stroke-width="0.04" textLength="48.10" lengthAdjust="spacingAndGlyphs" >*** <tspan font-style="italic">P</tspan> = 4.82e-07</text>
<text x="296.80" y="431.90" font-size="7.4" fill="#c8344e" stroke="#c8344e" stroke-width="0.04" textLength="37.00" lengthAdjust="spacingAndGlyphs" >N1ΔE wt + L</text>
<text x="295.90" y="440.10" font-size="7.4" fill="#c8344e" stroke="#c8344e" stroke-width="0.04" textLength="39.30" lengthAdjust="spacingAndGlyphs" >(~1 in 5 cells)</text>
<text x="287.40" y="450.40" font-size="7.4" fill="#3a6f9a" stroke="#3a6f9a" stroke-width="0.04" textLength="53.20" lengthAdjust="spacingAndGlyphs" >N1ΔE R1984A + L</text>
<text x="292.80" y="458.40" font-size="7.4" fill="#3a6f9a" stroke="#3a6f9a" stroke-width="0.04" textLength="42.70" lengthAdjust="spacingAndGlyphs" >(~1 in 52 cells)</text>
<text x="290.00" y="469.60" font-size="7.4" fill="#222" stroke="#222" stroke-width="0.04" textLength="48.50" lengthAdjust="spacingAndGlyphs" >*** P = 3.68e-19</text>
<text x="461.20" y="431.70" font-size="7.4" fill="#c8344e" stroke="#c8344e" stroke-width="0.04" textLength="45.10" lengthAdjust="spacingAndGlyphs" >N1ΔE wt + LTB</text>
<text x="462.00" y="439.60" font-size="7.4" fill="#c8344e" stroke="#c8344e" stroke-width="0.04" textLength="42.90" lengthAdjust="spacingAndGlyphs" >(~1 in 77 cells)</text>
<text x="451.90" y="450.50" font-size="7.4" fill="#3a6f9a" stroke="#3a6f9a" stroke-width="0.04" textLength="60.90" lengthAdjust="spacingAndGlyphs" >N1ΔE R1984A + LTB</text>
<text x="459.40" y="458.40" font-size="7.4" fill="#3a6f9a" stroke="#3a6f9a" stroke-width="0.04" textLength="46.20" lengthAdjust="spacingAndGlyphs" >(~1 in 276 cells)</text>
<text x="466.60" y="469.20" font-size="7.4" fill="#222" stroke="#222" stroke-width="0.04" textLength="31.80" lengthAdjust="spacingAndGlyphs" >** <tspan font-style="italic">P</tspan> = .007</text>
<text x="84.70" y="531.30" font-size="9.6" fill="#222" stroke="#222" stroke-width="0.04" textLength="26.50" lengthAdjust="spacingAndGlyphs" >N only</text>
<line x1="49.00" y1="531.70" x2="49.00" y2="604.30" stroke="#2a2a2a" stroke-width="1.1" />
<line x1="48.50" y1="603.70" x2="148.50" y2="603.70" stroke="#2a2a2a" stroke-width="1.1" />
<line x1="46.40" y1="603.70" x2="49.00" y2="603.70" stroke="#2a2a2a" stroke-width="0.9" />
<text x="43.40" y="606.00" font-size="7.0" fill="#3a3a3a" stroke="#3a3a3a" stroke-width="0.05" text-anchor="end" textLength="3.60" lengthAdjust="spacingAndGlyphs" >0</text>
<line x1="47.60" y1="587.30" x2="49.00" y2="587.30" stroke="#2a2a2a" stroke-width="0.9" />
<line x1="46.40" y1="570.90" x2="49.00" y2="570.90" stroke="#2a2a2a" stroke-width="0.9" />
<text x="43.40" y="573.20" font-size="7.0" fill="#3a3a3a" stroke="#3a3a3a" stroke-width="0.05" text-anchor="end" textLength="7.20" lengthAdjust="spacingAndGlyphs" >50</text>
<line x1="47.60" y1="554.50" x2="49.00" y2="554.50" stroke="#2a2a2a" stroke-width="0.9" />
<line x1="46.40" y1="538.10" x2="49.00" y2="538.10" stroke="#2a2a2a" stroke-width="0.9" />
<text x="43.40" y="540.40" font-size="7.0" fill="#3a3a3a" stroke="#3a3a3a" stroke-width="0.05" text-anchor="end" textLength="10.80" lengthAdjust="spacingAndGlyphs" >100</text>
<line x1="49.00" y1="603.70" x2="49.00" y2="606.30" stroke="#2a2a2a" stroke-width="0.9" />
<text x="49.00" y="617.00" font-size="7.0" fill="#3a3a3a" stroke="#3a3a3a" stroke-width="0.05" text-anchor="middle" textLength="3.70" lengthAdjust="spacingAndGlyphs" >0</text>
<line x1="61.12" y1="603.70" x2="61.12" y2="605.10" stroke="#2a2a2a" stroke-width="0.9" />
<line x1="73.25" y1="603.70" x2="73.25" y2="606.30" stroke="#2a2a2a" stroke-width="0.9" />
<text x="73.25" y="617.00" font-size="7.0" fill="#3a3a3a" stroke="#3a3a3a" stroke-width="0.05" text-anchor="middle" textLength="7.40" lengthAdjust="spacingAndGlyphs" >50</text>
<line x1="85.38" y1="603.70" x2="85.38" y2="605.10" stroke="#2a2a2a" stroke-width="0.9" />
<line x1="97.50" y1="603.70" x2="97.50" y2="606.30" stroke="#2a2a2a" stroke-width="0.9" />
<text x="97.50" y="617.00" font-size="7.0" fill="#3a3a3a" stroke="#3a3a3a" stroke-width="0.05" text-anchor="middle" textLength="11.10" lengthAdjust="spacingAndGlyphs" >100</text>
<line x1="109.62" y1="603.70" x2="109.62" y2="605.10" stroke="#2a2a2a" stroke-width="0.9" />
<line x1="121.75" y1="603.70" x2="121.75" y2="606.30" stroke="#2a2a2a" stroke-width="0.9" />
<text x="121.75" y="617.00" font-size="7.0" fill="#3a3a3a" stroke="#3a3a3a" stroke-width="0.05" text-anchor="middle" textLength="11.10" lengthAdjust="spacingAndGlyphs" >150</text>
<line x1="133.88" y1="603.70" x2="133.88" y2="605.10" stroke="#2a2a2a" stroke-width="0.9" />
<line x1="146.00" y1="603.70" x2="146.00" y2="606.30" stroke="#2a2a2a" stroke-width="0.9" />
<text x="146.00" y="617.00" font-size="7.0" fill="#3a3a3a" stroke="#3a3a3a" stroke-width="0.05" text-anchor="middle" textLength="11.10" lengthAdjust="spacingAndGlyphs" >200</text>
<text x="26.00" y="567.20" font-size="8.4" fill="#333" stroke="#333" stroke-width="0.14" text-anchor="middle" textLength="35.50" lengthAdjust="spacingAndGlyphs" transform="rotate(-90 26.00 567.20)" >Survival (%)</text>
<text x="68.00" y="629.10" font-size="8.6" fill="#333" stroke="#333" stroke-width="0.14" textLength="63.60" lengthAdjust="spacingAndGlyphs" >Days post-transplant</text>
<line x1="49.00" y1="538.10" x2="129.30" y2="538.10" stroke="#3d6e8e" stroke-width="1.3" />
<rect x="128.00" y="536.80" width="2.60" height="2.60" fill="#1e3e56" stroke="none" stroke-width="1" />
<polyline points="49.00,540.00 106.50,540.00 106.50,549.60 107.10,549.60 107.10,558.80 110.40,558.80 110.40,568.40 112.50,568.40 112.50,578.00 129.70,578.00 129.70,587.50" fill="none" stroke="#c03a5a" stroke-width="1.2"/>
<circle cx="106.50" cy="549.60" r="1.25" fill="#9a1232" stroke="none" stroke-width="1" />
<circle cx="107.10" cy="558.80" r="1.25" fill="#9a1232" stroke="none" stroke-width="1" />
<circle cx="110.40" cy="568.40" r="1.25" fill="#9a1232" stroke="none" stroke-width="1" />
<circle cx="112.50" cy="578.00" r="1.25" fill="#9a1232" stroke="none" stroke-width="1" />
<circle cx="129.70" cy="587.50" r="1.25" fill="#9a1232" stroke="none" stroke-width="1" />
<text x="61.00" y="600.90" font-size="7.2" fill="#222" stroke="#222" stroke-width="0.04" textLength="33.50" lengthAdjust="spacingAndGlyphs" >** <tspan font-style="italic">P</tspan> = .004</text>
<line x1="60.50" y1="637.90" x2="72.20" y2="637.90" stroke="#c03a5a" stroke-width="1.2" />
<circle cx="66.35" cy="637.90" r="1.8" fill="#9a1232" stroke="none" stroke-width="1" />
<line x1="60.50" y1="647.80" x2="72.20" y2="647.80" stroke="#3d6e8e" stroke-width="1.2" />
<rect x="64.65" y="646.10" width="3.40" height="3.40" fill="#1e3e56" stroke="none" stroke-width="1" />
<text x="74.40" y="640.20" font-size="7.2" fill="#222" stroke="#222" stroke-width="0.04" textLength="48.00" lengthAdjust="spacingAndGlyphs" >N1ΔE wt (n = 7)</text>
<text x="74.40" y="650.10" font-size="7.2" fill="#222" stroke="#222" stroke-width="0.04" textLength="63.30" lengthAdjust="spacingAndGlyphs" >N1ΔE R1984A (n = 8)</text>
<text x="254.70" y="531.30" font-size="9.6" fill="#222" stroke="#222" stroke-width="0.04" textLength="23.70" lengthAdjust="spacingAndGlyphs" >N + L</text>
<line x1="218.50" y1="531.70" x2="218.50" y2="604.80" stroke="#2a2a2a" stroke-width="1.1" />
<line x1="218.00" y1="604.20" x2="318.50" y2="604.20" stroke="#2a2a2a" stroke-width="1.1" />
<line x1="215.90" y1="604.20" x2="218.50" y2="604.20" stroke="#2a2a2a" stroke-width="0.9" />
<text x="212.90" y="606.50" font-size="7.0" fill="#3a3a3a" stroke="#3a3a3a" stroke-width="0.05" text-anchor="end" textLength="3.60" lengthAdjust="spacingAndGlyphs" >0</text>
<line x1="217.10" y1="587.68" x2="218.50" y2="587.68" stroke="#2a2a2a" stroke-width="0.9" />
<line x1="215.90" y1="571.15" x2="218.50" y2="571.15" stroke="#2a2a2a" stroke-width="0.9" />
<text x="212.90" y="573.45" font-size="7.0" fill="#3a3a3a" stroke="#3a3a3a" stroke-width="0.05" text-anchor="end" textLength="7.20" lengthAdjust="spacingAndGlyphs" >50</text>
<line x1="217.10" y1="554.62" x2="218.50" y2="554.62" stroke="#2a2a2a" stroke-width="0.9" />
<line x1="215.90" y1="538.10" x2="218.50" y2="538.10" stroke="#2a2a2a" stroke-width="0.9" />
<text x="212.90" y="540.40" font-size="7.0" fill="#3a3a3a" stroke="#3a3a3a" stroke-width="0.05" text-anchor="end" textLength="10.80" lengthAdjust="spacingAndGlyphs" >100</text>
<line x1="218.50" y1="604.20" x2="218.50" y2="606.80" stroke="#2a2a2a" stroke-width="0.9" />
<text x="218.50" y="617.50" font-size="7.0" fill="#3a3a3a" stroke="#3a3a3a" stroke-width="0.05" text-anchor="middle" textLength="3.70" lengthAdjust="spacingAndGlyphs" >0</text>
<line x1="230.69" y1="604.20" x2="230.69" y2="605.60" stroke="#2a2a2a" stroke-width="0.9" />
<line x1="242.88" y1="604.20" x2="242.88" y2="606.80" stroke="#2a2a2a" stroke-width="0.9" />
<text x="242.88" y="617.50" font-size="7.0" fill="#3a3a3a" stroke="#3a3a3a" stroke-width="0.05" text-anchor="middle" textLength="7.40" lengthAdjust="spacingAndGlyphs" >50</text>
<line x1="255.06" y1="604.20" x2="255.06" y2="605.60" stroke="#2a2a2a" stroke-width="0.9" />
<line x1="267.25" y1="604.20" x2="267.25" y2="606.80" stroke="#2a2a2a" stroke-width="0.9" />
<text x="267.25" y="617.50" font-size="7.0" fill="#3a3a3a" stroke="#3a3a3a" stroke-width="0.05" text-anchor="middle" textLength="11.10" lengthAdjust="spacingAndGlyphs" >100</text>
<line x1="279.44" y1="604.20" x2="279.44" y2="605.60" stroke="#2a2a2a" stroke-width="0.9" />
<line x1="291.62" y1="604.20" x2="291.62" y2="606.80" stroke="#2a2a2a" stroke-width="0.9" />
<text x="291.62" y="617.50" font-size="7.0" fill="#3a3a3a" stroke="#3a3a3a" stroke-width="0.05" text-anchor="middle" textLength="11.10" lengthAdjust="spacingAndGlyphs" >150</text>
<line x1="303.81" y1="604.20" x2="303.81" y2="605.60" stroke="#2a2a2a" stroke-width="0.9" />
<line x1="316.00" y1="604.20" x2="316.00" y2="606.80" stroke="#2a2a2a" stroke-width="0.9" />
<text x="316.00" y="617.50" font-size="7.0" fill="#3a3a3a" stroke="#3a3a3a" stroke-width="0.05" text-anchor="middle" textLength="11.10" lengthAdjust="spacingAndGlyphs" >200</text>
<text x="195.50" y="567.20" font-size="8.4" fill="#333" stroke="#333" stroke-width="0.14" text-anchor="middle" textLength="35.50" lengthAdjust="spacingAndGlyphs" transform="rotate(-90 195.50 567.20)" >Survival (%)</text>
<text x="237.50" y="629.10" font-size="8.6" fill="#333" stroke="#333" stroke-width="0.14" textLength="63.60" lengthAdjust="spacingAndGlyphs" >Days post-transplant</text>
<line x1="218.50" y1="538.10" x2="316.00" y2="538.10" stroke="#3d6e8e" stroke-width="1.3" />
<rect x="314.70" y="536.80" width="2.60" height="2.60" fill="#1e3e56" stroke="none" stroke-width="1" />
<polyline points="218.50,540.00 295.20,540.00 295.20,547.50 296.50,547.50 296.50,572.00 299.90,572.00 299.90,604.20" fill="none" stroke="#c03a5a" stroke-width="1.2"/>
<circle cx="295.20" cy="547.50" r="1.25" fill="#9a1232" stroke="none" stroke-width="1" />
<circle cx="296.50" cy="572.00" r="1.25" fill="#9a1232" stroke="none" stroke-width="1" />
<text x="229.00" y="600.90" font-size="7.2" fill="#222" stroke="#222" stroke-width="0.04" textLength="34.60" lengthAdjust="spacingAndGlyphs" >*** P = .001</text>
<line x1="221.30" y1="637.90" x2="233.80" y2="637.90" stroke="#c03a5a" stroke-width="1.2" />
<circle cx="227.55" cy="637.90" r="1.8" fill="#9a1232" stroke="none" stroke-width="1" />
<line x1="221.30" y1="647.80" x2="233.80" y2="647.80" stroke="#3d6e8e" stroke-width="1.2" />
<rect x="225.85" y="646.10" width="3.40" height="3.40" fill="#1e3e56" stroke="none" stroke-width="1" />
<text x="236.00" y="640.20" font-size="7.2" fill="#222" stroke="#222" stroke-width="0.04" textLength="59.20" lengthAdjust="spacingAndGlyphs" >N1ΔE wt + L (n = 8)</text>
<text x="236.00" y="650.10" font-size="7.2" fill="#222" stroke="#222" stroke-width="0.04" textLength="75.90" lengthAdjust="spacingAndGlyphs" >N1ΔE R1984A + L (n = 8)</text>
<text x="418.30" y="531.30" font-size="9.6" fill="#222" stroke="#222" stroke-width="0.04" textLength="30.70" lengthAdjust="spacingAndGlyphs" >N + LTB</text>
<line x1="384.40" y1="531.70" x2="384.40" y2="605.70" stroke="#2a2a2a" stroke-width="1.1" />
<line x1="383.90" y1="605.10" x2="483.40" y2="605.10" stroke="#2a2a2a" stroke-width="1.1" />
<line x1="381.80" y1="605.10" x2="384.40" y2="605.10" stroke="#2a2a2a" stroke-width="0.9" />
<text x="378.80" y="607.40" font-size="7.0" fill="#3a3a3a" stroke="#3a3a3a" stroke-width="0.05" text-anchor="end" textLength="3.60" lengthAdjust="spacingAndGlyphs" >0</text>
<line x1="383.00" y1="588.67" x2="384.40" y2="588.67" stroke="#2a2a2a" stroke-width="0.9" />
<line x1="381.80" y1="572.25" x2="384.40" y2="572.25" stroke="#2a2a2a" stroke-width="0.9" />
<text x="378.80" y="574.55" font-size="7.0" fill="#3a3a3a" stroke="#3a3a3a" stroke-width="0.05" text-anchor="end" textLength="7.20" lengthAdjust="spacingAndGlyphs" >50</text>
<line x1="383.00" y1="555.83" x2="384.40" y2="555.83" stroke="#2a2a2a" stroke-width="0.9" />
<line x1="381.80" y1="539.40" x2="384.40" y2="539.40" stroke="#2a2a2a" stroke-width="0.9" />
<text x="378.80" y="541.70" font-size="7.0" fill="#3a3a3a" stroke="#3a3a3a" stroke-width="0.05" text-anchor="end" textLength="10.80" lengthAdjust="spacingAndGlyphs" >100</text>
<line x1="384.40" y1="605.10" x2="384.40" y2="607.70" stroke="#2a2a2a" stroke-width="0.9" />
<text x="384.40" y="618.40" font-size="7.0" fill="#3a3a3a" stroke="#3a3a3a" stroke-width="0.05" text-anchor="middle" textLength="3.70" lengthAdjust="spacingAndGlyphs" >0</text>
<line x1="396.46" y1="605.10" x2="396.46" y2="606.50" stroke="#2a2a2a" stroke-width="0.9" />
<line x1="408.52" y1="605.10" x2="408.52" y2="607.70" stroke="#2a2a2a" stroke-width="0.9" />
<text x="408.52" y="618.40" font-size="7.0" fill="#3a3a3a" stroke="#3a3a3a" stroke-width="0.05" text-anchor="middle" textLength="7.40" lengthAdjust="spacingAndGlyphs" >50</text>
<line x1="420.59" y1="605.10" x2="420.59" y2="606.50" stroke="#2a2a2a" stroke-width="0.9" />
<line x1="432.65" y1="605.10" x2="432.65" y2="607.70" stroke="#2a2a2a" stroke-width="0.9" />
<text x="432.65" y="618.40" font-size="7.0" fill="#3a3a3a" stroke="#3a3a3a" stroke-width="0.05" text-anchor="middle" textLength="11.10" lengthAdjust="spacingAndGlyphs" >100</text>
<line x1="444.71" y1="605.10" x2="444.71" y2="606.50" stroke="#2a2a2a" stroke-width="0.9" />
<line x1="456.77" y1="605.10" x2="456.77" y2="607.70" stroke="#2a2a2a" stroke-width="0.9" />
<text x="456.77" y="618.40" font-size="7.0" fill="#3a3a3a" stroke="#3a3a3a" stroke-width="0.05" text-anchor="middle" textLength="11.10" lengthAdjust="spacingAndGlyphs" >150</text>
<line x1="468.84" y1="605.10" x2="468.84" y2="606.50" stroke="#2a2a2a" stroke-width="0.9" />
<line x1="480.90" y1="605.10" x2="480.90" y2="607.70" stroke="#2a2a2a" stroke-width="0.9" />
<text x="480.90" y="618.40" font-size="7.0" fill="#3a3a3a" stroke="#3a3a3a" stroke-width="0.05" text-anchor="middle" textLength="11.10" lengthAdjust="spacingAndGlyphs" >200</text>
<text x="361.40" y="567.20" font-size="8.4" fill="#333" stroke="#333" stroke-width="0.14" text-anchor="middle" textLength="35.50" lengthAdjust="spacingAndGlyphs" transform="rotate(-90 361.40 567.20)" >Survival (%)</text>
<text x="403.40" y="629.10" font-size="8.6" fill="#333" stroke="#333" stroke-width="0.14" textLength="63.60" lengthAdjust="spacingAndGlyphs" >Days post-transplant</text>
<line x1="384.40" y1="539.40" x2="476.90" y2="539.40" stroke="#3d6e8e" stroke-width="1.3" />
<rect x="466.70" y="538.10" width="2.60" height="2.60" fill="#1e3e56" stroke="none" stroke-width="1" />
<rect x="475.60" y="538.10" width="2.60" height="2.60" fill="#1e3e56" stroke="none" stroke-width="1" />
<polyline points="384.40,541.00 461.00,541.00 461.00,582.80 467.10,582.80 467.10,605.10" fill="none" stroke="#c03a5a" stroke-width="1.2"/>
<circle cx="461.00" cy="582.80" r="1.25" fill="#9a1232" stroke="none" stroke-width="1" />
<text x="394.00" y="600.90" font-size="7.2" fill="#222" stroke="#222" stroke-width="0.04" textLength="34.00" lengthAdjust="spacingAndGlyphs" >*** <tspan font-style="italic">P</tspan> = .001</text>
<line x1="386.30" y1="637.90" x2="398.80" y2="637.90" stroke="#c03a5a" stroke-width="1.2" />
<circle cx="392.55" cy="637.90" r="1.8" fill="#9a1232" stroke="none" stroke-width="1" />
<line x1="386.30" y1="647.80" x2="398.80" y2="647.80" stroke="#3d6e8e" stroke-width="1.2" />
<rect x="390.85" y="646.10" width="3.40" height="3.40" fill="#1e3e56" stroke="none" stroke-width="1" />
<text x="401.00" y="640.20" font-size="7.2" fill="#222" stroke="#222" stroke-width="0.04" textLength="64.70" lengthAdjust="spacingAndGlyphs" >N1ΔE wt + LTB (n = 7)</text>
<text x="401.00" y="650.10" font-size="7.2" fill="#222" stroke="#222" stroke-width="0.04" textLength="80.00" lengthAdjust="spacingAndGlyphs" >N1ΔE R1984A + LTB (n = 8)</text>
<rect x="0.5" y="0.5" width="519" height="657" fill="none" stroke="#555" stroke-width="1"/>
<line x1="1" y1="656.5" x2="519" y2="656.5" stroke="#bbb" stroke-width="1"/>
<line x1="518.5" y1="1" x2="518.5" y2="656" stroke="#e2e2e2" stroke-width="1"/>
</svg>
</body></html>
